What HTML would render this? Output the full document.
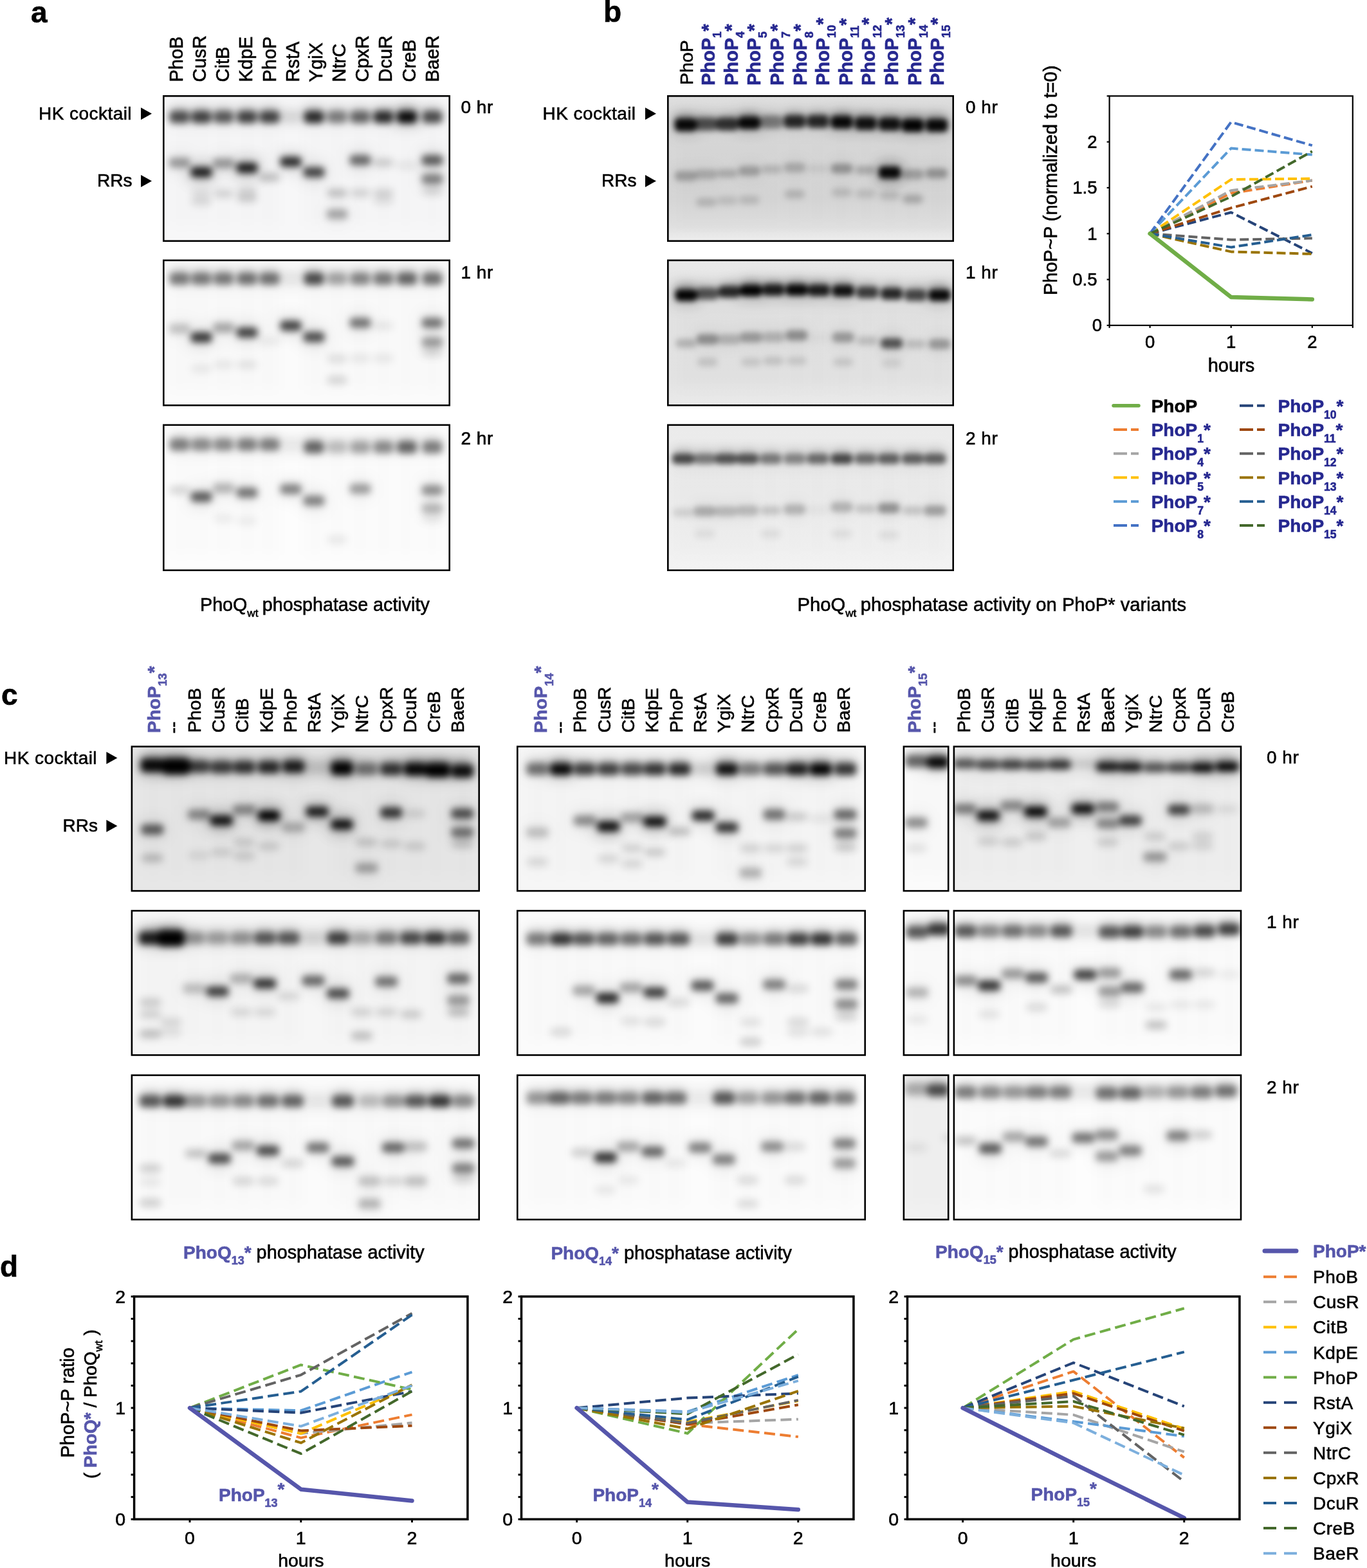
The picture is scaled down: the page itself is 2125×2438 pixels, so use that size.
<!DOCTYPE html><html><head><meta charset="utf-8"><style>html,body{margin:0;padding:0;background:#fff;}body{width:2125px;height:2438px;overflow:hidden;}svg{display:block;}text{font-family:"Liberation Sans", Arial, sans-serif;}</style></head><body>
<svg width="2125" height="2438" viewBox="0 0 2125 2438">
<rect width="100%" height="100%" fill="#fff"/>
<defs><filter id="bl4_5" filterUnits="userSpaceOnUse" x="0" y="0" width="2125" height="2438"><feGaussianBlur stdDeviation="4.5"/></filter><filter id="bl4_95" filterUnits="userSpaceOnUse" x="0" y="0" width="2125" height="2438"><feGaussianBlur stdDeviation="4.95"/></filter><filter id="bl5_5" filterUnits="userSpaceOnUse" x="0" y="0" width="2125" height="2438"><feGaussianBlur stdDeviation="5.5"/></filter><filter id="bl6_050000000000001" filterUnits="userSpaceOnUse" x="0" y="0" width="2125" height="2438"><feGaussianBlur stdDeviation="6.050000000000001"/></filter><filter id="bl7_2" filterUnits="userSpaceOnUse" x="0" y="0" width="2125" height="2438"><feGaussianBlur stdDeviation="7.2"/></filter><filter id="bl8_8" filterUnits="userSpaceOnUse" x="0" y="0" width="2125" height="2438"><feGaussianBlur stdDeviation="8.8"/></filter><filter id="bl9_0" filterUnits="userSpaceOnUse" x="0" y="0" width="2125" height="2438"><feGaussianBlur stdDeviation="9.0"/></filter><filter id="bl10_0" filterUnits="userSpaceOnUse" x="0" y="0" width="2125" height="2438"><feGaussianBlur stdDeviation="10.0"/></filter><filter id="bl11_0" filterUnits="userSpaceOnUse" x="0" y="0" width="2125" height="2438"><feGaussianBlur stdDeviation="11.0"/></filter></defs>
<text x="48.0" y="35.0" font-size="46" stroke="#000" stroke-width="0.6" font-weight="bold">a</text>
<text x="938.0" y="34.0" font-size="46" stroke="#000" stroke-width="0.6" font-weight="bold">b</text>
<text x="2.0" y="1096.0" font-size="46" stroke="#000" stroke-width="0.6" font-weight="bold">c</text>
<text x="0.0" y="1985.0" font-size="46" stroke="#000" stroke-width="0.6" font-weight="bold">d</text>
<text transform="translate(284.0,127.5) rotate(-90)" font-size="29" stroke="#000" stroke-width="0.6">PhoB</text>
<text transform="translate(320.1,127.5) rotate(-90)" font-size="29" stroke="#000" stroke-width="0.6">CusR</text>
<text transform="translate(356.3,127.5) rotate(-90)" font-size="29" stroke="#000" stroke-width="0.6">CitB</text>
<text transform="translate(392.4,127.5) rotate(-90)" font-size="29" stroke="#000" stroke-width="0.6">KdpE</text>
<text transform="translate(428.6,127.5) rotate(-90)" font-size="29" stroke="#000" stroke-width="0.6">PhoP</text>
<text transform="translate(464.8,127.5) rotate(-90)" font-size="29" stroke="#000" stroke-width="0.6">RstA</text>
<text transform="translate(500.9,127.5) rotate(-90)" font-size="29" stroke="#000" stroke-width="0.6">YgiX</text>
<text transform="translate(537.0,127.5) rotate(-90)" font-size="29" stroke="#000" stroke-width="0.6">NtrC</text>
<text transform="translate(573.2,127.5) rotate(-90)" font-size="29" stroke="#000" stroke-width="0.6">CpxR</text>
<text transform="translate(609.3,127.5) rotate(-90)" font-size="29" stroke="#000" stroke-width="0.6">DcuR</text>
<text transform="translate(645.5,127.5) rotate(-90)" font-size="29" stroke="#000" stroke-width="0.6">CreB</text>
<text transform="translate(681.6,127.5) rotate(-90)" font-size="29" stroke="#000" stroke-width="0.6">BaeR</text>
<text x="60.0" y="186.0" font-size="28" stroke="#000" stroke-width="0.6" letter-spacing="0.45">HK cocktail</text>
<path d="M219.0,167.2 L236.0,176.7 L219.0,186.2 Z" fill="#000"/>
<text x="151.0" y="290.4" font-size="28" stroke="#000" stroke-width="0.6">RRs</text>
<path d="M219.0,272.0 L236.0,281.5 L219.0,291.0 Z" fill="#000"/>
<text x="716.5" y="176.4" font-size="28" stroke="#000" stroke-width="0.6" letter-spacing="0.5">0 hr</text>
<text x="1501.0" y="176.4" font-size="28" stroke="#000" stroke-width="0.6" letter-spacing="0.5">0 hr</text>
<text x="716.5" y="432.7" font-size="28" stroke="#000" stroke-width="0.6" letter-spacing="0.5">1 hr</text>
<text x="1501.0" y="432.7" font-size="28" stroke="#000" stroke-width="0.6" letter-spacing="0.5">1 hr</text>
<text x="716.5" y="690.6" font-size="28" stroke="#000" stroke-width="0.6" letter-spacing="0.5">2 hr</text>
<text x="1501.0" y="690.6" font-size="28" stroke="#000" stroke-width="0.6" letter-spacing="0.5">2 hr</text>
<clipPath id="cp1"><rect x="253" y="148" width="447" height="228"/></clipPath>
<rect x="253" y="148" width="447" height="228" fill="#f7f7f8"/>
<g clip-path="url(#cp1)">
<g filter="url(#bl11_0)">
<rect x="260.9" y="237.0" width="36.3" height="32.0" rx="6.0" fill="#000" fill-opacity="0.05"/>
<rect x="294.9" y="251.7" width="36.3" height="32.0" rx="6.0" fill="#000" fill-opacity="0.13"/>
<rect x="329.4" y="238.0" width="36.3" height="32.0" rx="6.0" fill="#000" fill-opacity="0.05"/>
<rect x="365.9" y="245.0" width="36.3" height="32.0" rx="6.0" fill="#000" fill-opacity="0.13"/>
<rect x="433.9" y="235.6" width="36.3" height="32.0" rx="6.0" fill="#000" fill-opacity="0.12"/>
<rect x="469.9" y="251.7" width="36.3" height="32.0" rx="6.0" fill="#000" fill-opacity="0.10"/>
<rect x="505.9" y="317.0" width="36.3" height="32.0" rx="6.0" fill="#000" fill-opacity="0.04"/>
<rect x="541.9" y="233.0" width="36.3" height="32.0" rx="6.0" fill="#000" fill-opacity="0.08"/>
<rect x="653.9" y="233.0" width="36.3" height="32.0" rx="6.0" fill="#000" fill-opacity="0.09"/>
<rect x="653.9" y="262.4" width="36.3" height="32.0" rx="6.0" fill="#000" fill-opacity="0.07"/>
</g>
<g filter="url(#bl10_0)">
<rect x="369.0" y="192.2" width="30.0" height="159.6" rx="6.0" fill="#000" fill-opacity="0.01"/>
<rect x="657.0" y="192.2" width="30.0" height="159.6" rx="6.0" fill="#000" fill-opacity="0.01"/>
<rect x="404.0" y="192.2" width="30.0" height="159.6" rx="6.0" fill="#000" fill-opacity="0.01"/>
<rect x="473.0" y="192.2" width="30.0" height="159.6" rx="6.0" fill="#000" fill-opacity="0.01"/>
<rect x="509.0" y="192.2" width="30.0" height="159.6" rx="6.0" fill="#000" fill-opacity="0.01"/>
<rect x="545.0" y="192.2" width="30.0" height="159.6" rx="6.0" fill="#000" fill-opacity="0.01"/>
<rect x="581.0" y="192.2" width="30.0" height="159.6" rx="6.0" fill="#000" fill-opacity="0.01"/>
<rect x="264.0" y="192.2" width="30.0" height="159.6" rx="6.0" fill="#000" fill-opacity="0.01"/>
<rect x="617.0" y="192.2" width="30.0" height="159.6" rx="6.0" fill="#000" fill-opacity="0.01"/>
<rect x="298.0" y="192.2" width="30.0" height="159.6" rx="6.0" fill="#000" fill-opacity="0.01"/>
<rect x="333.0" y="192.2" width="30.0" height="159.6" rx="6.0" fill="#000" fill-opacity="0.01"/>
<rect x="264.2" y="167.0" width="424.6" height="30.0" rx="6.0" fill="#000" fill-opacity="0.05"/>
<rect x="610.5" y="165.0" width="44.0" height="34.0" rx="6.0" fill="#000" fill-opacity="0.12"/>
<rect x="291.0" y="250.7" width="44.0" height="34.0" rx="6.0" fill="#000" fill-opacity="0.08"/>
<rect x="362.0" y="244.0" width="44.0" height="34.0" rx="6.0" fill="#000" fill-opacity="0.08"/>
</g>
<g filter="url(#bl8_8)">
<rect x="265.1" y="165.4" width="27.9" height="17.1" rx="6.0" fill="#000" fill-opacity="0.20"/>
<rect x="299.1" y="165.4" width="27.9" height="17.1" rx="6.0" fill="#000" fill-opacity="0.21"/>
<rect x="333.6" y="165.4" width="27.9" height="17.1" rx="6.0" fill="#000" fill-opacity="0.18"/>
<rect x="370.1" y="165.4" width="27.9" height="17.1" rx="6.0" fill="#000" fill-opacity="0.21"/>
<rect x="405.1" y="165.4" width="27.9" height="17.1" rx="6.0" fill="#000" fill-opacity="0.21"/>
<rect x="438.1" y="165.4" width="27.9" height="17.1" rx="6.0" fill="#000" fill-opacity="0.02"/>
<rect x="474.1" y="165.4" width="27.9" height="17.1" rx="6.0" fill="#000" fill-opacity="0.24"/>
<rect x="510.1" y="165.4" width="27.9" height="17.1" rx="6.0" fill="#000" fill-opacity="0.14"/>
<rect x="546.0" y="165.4" width="27.9" height="17.1" rx="6.0" fill="#000" fill-opacity="0.17"/>
<rect x="582.0" y="165.4" width="27.9" height="17.1" rx="6.0" fill="#000" fill-opacity="0.24"/>
<rect x="618.5" y="165.4" width="27.9" height="17.1" rx="6.0" fill="#000" fill-opacity="0.28"/>
<rect x="658.0" y="165.4" width="27.9" height="17.1" rx="6.0" fill="#000" fill-opacity="0.20"/>
</g>
<g filter="url(#bl6_050000000000001)">
<rect x="403.3" y="268.9" width="31.3" height="13.6" rx="6.0" fill="#000" fill-opacity="0.22"/>
<rect x="508.3" y="293.2" width="31.3" height="13.6" rx="6.0" fill="#000" fill-opacity="0.22"/>
<rect x="580.3" y="246.2" width="31.3" height="13.6" rx="6.0" fill="#000" fill-opacity="0.17"/>
<rect x="580.3" y="293.2" width="31.3" height="13.6" rx="6.0" fill="#000" fill-opacity="0.14"/>
<rect x="616.8" y="250.2" width="31.3" height="13.6" rx="6.0" fill="#000" fill-opacity="0.07"/>
<rect x="297.3" y="306.2" width="31.3" height="13.6" rx="6.0" fill="#000" fill-opacity="0.12"/>
<rect x="331.8" y="294.2" width="31.3" height="13.6" rx="6.0" fill="#000" fill-opacity="0.14"/>
<rect x="368.3" y="301.2" width="31.3" height="13.6" rx="6.0" fill="#000" fill-opacity="0.17"/>
<rect x="544.3" y="293.2" width="31.3" height="13.6" rx="6.0" fill="#000" fill-opacity="0.14"/>
<rect x="656.3" y="290.2" width="31.3" height="13.6" rx="6.0" fill="#000" fill-opacity="0.12"/>
<rect x="297.3" y="293.2" width="31.3" height="13.6" rx="6.0" fill="#000" fill-opacity="0.09"/>
<rect x="368.3" y="290.2" width="31.3" height="13.6" rx="6.0" fill="#000" fill-opacity="0.12"/>
<rect x="580.3" y="305.2" width="31.3" height="13.6" rx="6.0" fill="#000" fill-opacity="0.09"/>
</g>
<g filter="url(#bl5_5)">
<rect x="263.5" y="172.5" width="31.0" height="19.0" rx="6.0" fill="#000" fill-opacity="0.65"/>
<rect x="297.5" y="172.5" width="31.0" height="19.0" rx="6.0" fill="#000" fill-opacity="0.70"/>
<rect x="332.0" y="172.5" width="31.0" height="19.0" rx="6.0" fill="#000" fill-opacity="0.60"/>
<rect x="368.5" y="172.5" width="31.0" height="19.0" rx="6.0" fill="#000" fill-opacity="0.70"/>
<rect x="403.5" y="172.5" width="31.0" height="19.0" rx="6.0" fill="#000" fill-opacity="0.70"/>
<rect x="436.5" y="172.5" width="31.0" height="19.0" rx="6.0" fill="#000" fill-opacity="0.08"/>
<rect x="472.5" y="172.5" width="31.0" height="19.0" rx="6.0" fill="#000" fill-opacity="0.80"/>
<rect x="508.5" y="172.5" width="31.0" height="19.0" rx="6.0" fill="#000" fill-opacity="0.45"/>
<rect x="544.5" y="172.5" width="31.0" height="19.0" rx="6.0" fill="#000" fill-opacity="0.55"/>
<rect x="580.5" y="172.5" width="31.0" height="19.0" rx="6.0" fill="#000" fill-opacity="0.80"/>
<rect x="617.0" y="172.5" width="31.0" height="19.0" rx="6.0" fill="#000" fill-opacity="0.95"/>
<rect x="656.5" y="172.5" width="31.0" height="19.0" rx="6.0" fill="#000" fill-opacity="0.65"/>
<rect x="262.5" y="245.0" width="33.0" height="16.0" rx="6.0" fill="#000" fill-opacity="0.35"/>
<rect x="296.5" y="259.7" width="33.0" height="16.0" rx="6.0" fill="#000" fill-opacity="0.85"/>
<rect x="331.0" y="246.0" width="33.0" height="16.0" rx="6.0" fill="#000" fill-opacity="0.35"/>
<rect x="367.5" y="253.0" width="33.0" height="16.0" rx="6.0" fill="#000" fill-opacity="0.85"/>
<rect x="435.5" y="243.6" width="33.0" height="16.0" rx="6.0" fill="#000" fill-opacity="0.80"/>
<rect x="471.5" y="259.7" width="33.0" height="16.0" rx="6.0" fill="#000" fill-opacity="0.70"/>
<rect x="507.5" y="325.0" width="33.0" height="16.0" rx="6.0" fill="#000" fill-opacity="0.30"/>
<rect x="543.5" y="241.0" width="33.0" height="16.0" rx="6.0" fill="#000" fill-opacity="0.55"/>
<rect x="655.5" y="241.0" width="33.0" height="16.0" rx="6.0" fill="#000" fill-opacity="0.60"/>
<rect x="655.5" y="270.4" width="33.0" height="16.0" rx="6.0" fill="#000" fill-opacity="0.45"/>
</g>
</g>
<rect x="254.3" y="149.3" width="444.4" height="225.4" fill="none" stroke="#000" stroke-width="2.6"/>
<clipPath id="cp2"><rect x="253" y="403.5" width="447" height="228.0"/></clipPath>
<rect x="253" y="403.5" width="447" height="228.0" fill="#fbfbfb"/>
<g clip-path="url(#cp2)">
<g filter="url(#bl11_0)">
<rect x="260.9" y="495.0" width="36.3" height="32.0" rx="6.0" fill="#000" fill-opacity="0.03"/>
<rect x="294.9" y="508.6" width="36.3" height="32.0" rx="6.0" fill="#000" fill-opacity="0.11"/>
<rect x="329.4" y="493.6" width="36.3" height="32.0" rx="6.0" fill="#000" fill-opacity="0.04"/>
<rect x="365.9" y="501.0" width="36.3" height="32.0" rx="6.0" fill="#000" fill-opacity="0.10"/>
<rect x="433.9" y="490.5" width="36.3" height="32.0" rx="6.0" fill="#000" fill-opacity="0.10"/>
<rect x="469.9" y="508.0" width="36.3" height="32.0" rx="6.0" fill="#000" fill-opacity="0.10"/>
<rect x="541.9" y="486.0" width="36.3" height="32.0" rx="6.0" fill="#000" fill-opacity="0.07"/>
<rect x="653.9" y="486.0" width="36.3" height="32.0" rx="6.0" fill="#000" fill-opacity="0.07"/>
<rect x="653.9" y="516.0" width="36.3" height="32.0" rx="6.0" fill="#000" fill-opacity="0.05"/>
</g>
<g filter="url(#bl10_0)">
<rect x="369.0" y="447.7" width="30.0" height="159.6" rx="6.0" fill="#000" fill-opacity="0.01"/>
<rect x="657.0" y="447.7" width="30.0" height="159.6" rx="6.0" fill="#000" fill-opacity="0.01"/>
<rect x="404.0" y="447.7" width="30.0" height="159.6" rx="6.0" fill="#000" fill-opacity="0.01"/>
<rect x="473.0" y="447.7" width="30.0" height="159.6" rx="6.0" fill="#000" fill-opacity="0.01"/>
<rect x="509.0" y="447.7" width="30.0" height="159.6" rx="6.0" fill="#000" fill-opacity="0.01"/>
<rect x="545.0" y="447.7" width="30.0" height="159.6" rx="6.0" fill="#000" fill-opacity="0.01"/>
<rect x="581.0" y="447.7" width="30.0" height="159.6" rx="6.0" fill="#000" fill-opacity="0.01"/>
<rect x="264.0" y="447.7" width="30.0" height="159.6" rx="6.0" fill="#000" fill-opacity="0.01"/>
<rect x="617.0" y="447.7" width="30.0" height="159.6" rx="6.0" fill="#000" fill-opacity="0.01"/>
<rect x="298.0" y="447.7" width="30.0" height="159.6" rx="6.0" fill="#000" fill-opacity="0.01"/>
<rect x="333.0" y="447.7" width="30.0" height="159.6" rx="6.0" fill="#000" fill-opacity="0.01"/>
<rect x="264.2" y="418.6" width="424.6" height="30.0" rx="6.0" fill="#000" fill-opacity="0.05"/>
</g>
<g filter="url(#bl8_8)">
<rect x="265.1" y="417.1" width="27.9" height="17.1" rx="6.0" fill="#000" fill-opacity="0.14"/>
<rect x="299.1" y="417.1" width="27.9" height="17.1" rx="6.0" fill="#000" fill-opacity="0.14"/>
<rect x="333.6" y="417.1" width="27.9" height="17.1" rx="6.0" fill="#000" fill-opacity="0.14"/>
<rect x="370.1" y="417.1" width="27.9" height="17.1" rx="6.0" fill="#000" fill-opacity="0.15"/>
<rect x="405.1" y="417.1" width="27.9" height="17.1" rx="6.0" fill="#000" fill-opacity="0.15"/>
<rect x="438.1" y="417.1" width="27.9" height="17.1" rx="6.0" fill="#000" fill-opacity="0.01"/>
<rect x="474.1" y="417.1" width="27.9" height="17.1" rx="6.0" fill="#000" fill-opacity="0.20"/>
<rect x="510.1" y="417.1" width="27.9" height="17.1" rx="6.0" fill="#000" fill-opacity="0.09"/>
<rect x="546.0" y="417.1" width="27.9" height="17.1" rx="6.0" fill="#000" fill-opacity="0.13"/>
<rect x="582.0" y="417.1" width="27.9" height="17.1" rx="6.0" fill="#000" fill-opacity="0.14"/>
<rect x="618.5" y="417.1" width="27.9" height="17.1" rx="6.0" fill="#000" fill-opacity="0.17"/>
<rect x="658.0" y="417.1" width="27.9" height="17.1" rx="6.0" fill="#000" fill-opacity="0.15"/>
</g>
<g filter="url(#bl6_050000000000001)">
<rect x="403.3" y="523.8" width="31.3" height="13.6" rx="6.0" fill="#000" fill-opacity="0.06"/>
<rect x="580.3" y="499.7" width="31.3" height="13.6" rx="6.0" fill="#000" fill-opacity="0.07"/>
<rect x="508.3" y="551.0" width="31.3" height="13.6" rx="6.0" fill="#000" fill-opacity="0.10"/>
<rect x="508.3" y="584.2" width="31.3" height="13.6" rx="6.0" fill="#000" fill-opacity="0.14"/>
<rect x="297.3" y="566.2" width="31.3" height="13.6" rx="6.0" fill="#000" fill-opacity="0.07"/>
<rect x="368.3" y="560.2" width="31.3" height="13.6" rx="6.0" fill="#000" fill-opacity="0.09"/>
<rect x="331.8" y="560.2" width="31.3" height="13.6" rx="6.0" fill="#000" fill-opacity="0.07"/>
<rect x="544.3" y="550.2" width="31.3" height="13.6" rx="6.0" fill="#000" fill-opacity="0.07"/>
<rect x="580.3" y="550.2" width="31.3" height="13.6" rx="6.0" fill="#000" fill-opacity="0.07"/>
<rect x="656.3" y="541.2" width="31.3" height="13.6" rx="6.0" fill="#000" fill-opacity="0.12"/>
</g>
<g filter="url(#bl5_5)">
<rect x="263.5" y="424.1" width="31.0" height="19.0" rx="6.0" fill="#000" fill-opacity="0.47"/>
<rect x="297.5" y="424.1" width="31.0" height="19.0" rx="6.0" fill="#000" fill-opacity="0.47"/>
<rect x="332.0" y="424.1" width="31.0" height="19.0" rx="6.0" fill="#000" fill-opacity="0.47"/>
<rect x="368.5" y="424.1" width="31.0" height="19.0" rx="6.0" fill="#000" fill-opacity="0.50"/>
<rect x="403.5" y="424.1" width="31.0" height="19.0" rx="6.0" fill="#000" fill-opacity="0.50"/>
<rect x="436.5" y="424.1" width="31.0" height="19.0" rx="6.0" fill="#000" fill-opacity="0.04"/>
<rect x="472.5" y="424.1" width="31.0" height="19.0" rx="6.0" fill="#000" fill-opacity="0.66"/>
<rect x="508.5" y="424.1" width="31.0" height="19.0" rx="6.0" fill="#000" fill-opacity="0.30"/>
<rect x="544.5" y="424.1" width="31.0" height="19.0" rx="6.0" fill="#000" fill-opacity="0.42"/>
<rect x="580.5" y="424.1" width="31.0" height="19.0" rx="6.0" fill="#000" fill-opacity="0.47"/>
<rect x="617.0" y="424.1" width="31.0" height="19.0" rx="6.0" fill="#000" fill-opacity="0.55"/>
<rect x="656.5" y="424.1" width="31.0" height="19.0" rx="6.0" fill="#000" fill-opacity="0.50"/>
<rect x="262.5" y="503.0" width="33.0" height="16.0" rx="6.0" fill="#000" fill-opacity="0.20"/>
<rect x="296.5" y="516.6" width="33.0" height="16.0" rx="6.0" fill="#000" fill-opacity="0.75"/>
<rect x="331.0" y="501.6" width="33.0" height="16.0" rx="6.0" fill="#000" fill-opacity="0.30"/>
<rect x="367.5" y="509.0" width="33.0" height="16.0" rx="6.0" fill="#000" fill-opacity="0.70"/>
<rect x="435.5" y="498.5" width="33.0" height="16.0" rx="6.0" fill="#000" fill-opacity="0.70"/>
<rect x="471.5" y="516.0" width="33.0" height="16.0" rx="6.0" fill="#000" fill-opacity="0.65"/>
<rect x="543.5" y="494.0" width="33.0" height="16.0" rx="6.0" fill="#000" fill-opacity="0.50"/>
<rect x="655.5" y="494.0" width="33.0" height="16.0" rx="6.0" fill="#000" fill-opacity="0.50"/>
<rect x="655.5" y="524.0" width="33.0" height="16.0" rx="6.0" fill="#000" fill-opacity="0.35"/>
</g>
</g>
<rect x="254.3" y="404.8" width="444.4" height="225.4" fill="none" stroke="#000" stroke-width="2.6"/>
<clipPath id="cp3"><rect x="253" y="659.5" width="447" height="228.5"/></clipPath>
<rect x="253" y="659.5" width="447" height="228.5" fill="#fdfdfd"/>
<g clip-path="url(#cp3)">
<g filter="url(#bl11_0)">
<rect x="294.9" y="756.6" width="36.3" height="32.0" rx="6.0" fill="#000" fill-opacity="0.09"/>
<rect x="329.4" y="743.0" width="36.3" height="32.0" rx="6.0" fill="#000" fill-opacity="0.04"/>
<rect x="365.9" y="750.0" width="36.3" height="32.0" rx="6.0" fill="#000" fill-opacity="0.07"/>
<rect x="433.9" y="744.5" width="36.3" height="32.0" rx="6.0" fill="#000" fill-opacity="0.07"/>
<rect x="469.9" y="762.6" width="36.3" height="32.0" rx="6.0" fill="#000" fill-opacity="0.07"/>
<rect x="541.9" y="744.0" width="36.3" height="32.0" rx="6.0" fill="#000" fill-opacity="0.05"/>
<rect x="653.9" y="746.0" width="36.3" height="32.0" rx="6.0" fill="#000" fill-opacity="0.06"/>
<rect x="653.9" y="774.6" width="36.3" height="32.0" rx="6.0" fill="#000" fill-opacity="0.04"/>
</g>
<g filter="url(#bl10_0)">
<rect x="369.0" y="703.8" width="30.0" height="159.9" rx="6.0" fill="#000" fill-opacity="0.01"/>
<rect x="657.0" y="703.8" width="30.0" height="159.9" rx="6.0" fill="#000" fill-opacity="0.01"/>
<rect x="404.0" y="703.8" width="30.0" height="159.9" rx="6.0" fill="#000" fill-opacity="0.01"/>
<rect x="473.0" y="703.8" width="30.0" height="159.9" rx="6.0" fill="#000" fill-opacity="0.01"/>
<rect x="509.0" y="703.8" width="30.0" height="159.9" rx="6.0" fill="#000" fill-opacity="0.01"/>
<rect x="545.0" y="703.8" width="30.0" height="159.9" rx="6.0" fill="#000" fill-opacity="0.01"/>
<rect x="581.0" y="703.8" width="30.0" height="159.9" rx="6.0" fill="#000" fill-opacity="0.01"/>
<rect x="264.0" y="703.8" width="30.0" height="159.9" rx="6.0" fill="#000" fill-opacity="0.01"/>
<rect x="617.0" y="703.8" width="30.0" height="159.9" rx="6.0" fill="#000" fill-opacity="0.01"/>
<rect x="298.0" y="703.8" width="30.0" height="159.9" rx="6.0" fill="#000" fill-opacity="0.01"/>
<rect x="333.0" y="703.8" width="30.0" height="159.9" rx="6.0" fill="#000" fill-opacity="0.01"/>
<rect x="264.2" y="678.5" width="424.6" height="30.0" rx="6.0" fill="#000" fill-opacity="0.05"/>
</g>
<g filter="url(#bl8_8)">
<rect x="265.1" y="675.0" width="27.9" height="17.1" rx="6.0" fill="#000" fill-opacity="0.14"/>
<rect x="299.1" y="675.0" width="27.9" height="17.1" rx="6.0" fill="#000" fill-opacity="0.12"/>
<rect x="333.6" y="675.0" width="27.9" height="17.1" rx="6.0" fill="#000" fill-opacity="0.12"/>
<rect x="370.1" y="675.0" width="27.9" height="17.1" rx="6.0" fill="#000" fill-opacity="0.14"/>
<rect x="405.1" y="675.0" width="27.9" height="17.1" rx="6.0" fill="#000" fill-opacity="0.14"/>
<rect x="438.1" y="675.0" width="27.9" height="17.1" rx="6.0" fill="#000" fill-opacity="0.01"/>
<rect x="474.1" y="679.0" width="27.9" height="17.1" rx="6.0" fill="#000" fill-opacity="0.17"/>
<rect x="510.1" y="679.0" width="27.9" height="17.1" rx="6.0" fill="#000" fill-opacity="0.06"/>
<rect x="546.0" y="679.0" width="27.9" height="17.1" rx="6.0" fill="#000" fill-opacity="0.09"/>
<rect x="582.0" y="679.0" width="27.9" height="17.1" rx="6.0" fill="#000" fill-opacity="0.12"/>
<rect x="618.5" y="679.0" width="27.9" height="17.1" rx="6.0" fill="#000" fill-opacity="0.17"/>
<rect x="658.0" y="679.0" width="27.9" height="17.1" rx="6.0" fill="#000" fill-opacity="0.14"/>
</g>
<g filter="url(#bl6_050000000000001)">
<rect x="263.3" y="755.2" width="31.3" height="13.6" rx="6.0" fill="#000" fill-opacity="0.14"/>
<rect x="508.3" y="832.2" width="31.3" height="13.6" rx="6.0" fill="#000" fill-opacity="0.07"/>
<rect x="331.8" y="799.2" width="31.3" height="13.6" rx="6.0" fill="#000" fill-opacity="0.06"/>
<rect x="368.3" y="803.2" width="31.3" height="13.6" rx="6.0" fill="#000" fill-opacity="0.06"/>
<rect x="656.3" y="799.2" width="31.3" height="13.6" rx="6.0" fill="#000" fill-opacity="0.07"/>
</g>
<g filter="url(#bl5_5)">
<rect x="263.5" y="682.0" width="31.0" height="19.0" rx="6.0" fill="#000" fill-opacity="0.45"/>
<rect x="297.5" y="682.0" width="31.0" height="19.0" rx="6.0" fill="#000" fill-opacity="0.40"/>
<rect x="332.0" y="682.0" width="31.0" height="19.0" rx="6.0" fill="#000" fill-opacity="0.40"/>
<rect x="368.5" y="682.0" width="31.0" height="19.0" rx="6.0" fill="#000" fill-opacity="0.45"/>
<rect x="403.5" y="682.0" width="31.0" height="19.0" rx="6.0" fill="#000" fill-opacity="0.45"/>
<rect x="436.5" y="682.0" width="31.0" height="19.0" rx="6.0" fill="#000" fill-opacity="0.03"/>
<rect x="472.5" y="686.0" width="31.0" height="19.0" rx="6.0" fill="#000" fill-opacity="0.55"/>
<rect x="508.5" y="686.0" width="31.0" height="19.0" rx="6.0" fill="#000" fill-opacity="0.20"/>
<rect x="544.5" y="686.0" width="31.0" height="19.0" rx="6.0" fill="#000" fill-opacity="0.30"/>
<rect x="580.5" y="686.0" width="31.0" height="19.0" rx="6.0" fill="#000" fill-opacity="0.40"/>
<rect x="617.0" y="686.0" width="31.0" height="19.0" rx="6.0" fill="#000" fill-opacity="0.55"/>
<rect x="656.5" y="686.0" width="31.0" height="19.0" rx="6.0" fill="#000" fill-opacity="0.45"/>
<rect x="296.5" y="764.6" width="33.0" height="16.0" rx="6.0" fill="#000" fill-opacity="0.60"/>
<rect x="331.0" y="751.0" width="33.0" height="16.0" rx="6.0" fill="#000" fill-opacity="0.25"/>
<rect x="367.5" y="758.0" width="33.0" height="16.0" rx="6.0" fill="#000" fill-opacity="0.50"/>
<rect x="435.5" y="752.5" width="33.0" height="16.0" rx="6.0" fill="#000" fill-opacity="0.45"/>
<rect x="471.5" y="770.6" width="33.0" height="16.0" rx="6.0" fill="#000" fill-opacity="0.45"/>
<rect x="543.5" y="752.0" width="33.0" height="16.0" rx="6.0" fill="#000" fill-opacity="0.35"/>
<rect x="655.5" y="754.0" width="33.0" height="16.0" rx="6.0" fill="#000" fill-opacity="0.40"/>
<rect x="655.5" y="782.6" width="33.0" height="16.0" rx="6.0" fill="#000" fill-opacity="0.25"/>
</g>
</g>
<rect x="254.3" y="660.8" width="444.4" height="225.9" fill="none" stroke="#000" stroke-width="2.6"/>
<text x="311.0" y="950.0" font-size="28.7" stroke="#000" stroke-width="0.6">PhoQ<tspan font-size="17" dy="9">wt</tspan><tspan dy="-9" dx="-1.5"> phosphatase activity</tspan></text>
<text transform="translate(1077.0,132.0) rotate(-90)" font-size="28.5" stroke="#000" stroke-width="0.6">PhoP</text>
<text transform="translate(1111.1,133.0) rotate(-90)" font-size="29" stroke="#262890" stroke-width="0.6" font-weight="bold" fill="#262890">PhoP<tspan font-size="18" dy="10">1</tspan><tspan dy="-10">*</tspan></text>
<text transform="translate(1146.7,133.0) rotate(-90)" font-size="29" stroke="#262890" stroke-width="0.6" font-weight="bold" fill="#262890">PhoP<tspan font-size="18" dy="10">4</tspan><tspan dy="-10">*</tspan></text>
<text transform="translate(1182.3,133.0) rotate(-90)" font-size="29" stroke="#262890" stroke-width="0.6" font-weight="bold" fill="#262890">PhoP<tspan font-size="18" dy="10">5</tspan><tspan dy="-10">*</tspan></text>
<text transform="translate(1217.9,133.0) rotate(-90)" font-size="29" stroke="#262890" stroke-width="0.6" font-weight="bold" fill="#262890">PhoP<tspan font-size="18" dy="10">7</tspan><tspan dy="-10">*</tspan></text>
<text transform="translate(1253.5,133.0) rotate(-90)" font-size="29" stroke="#262890" stroke-width="0.6" font-weight="bold" fill="#262890">PhoP<tspan font-size="18" dy="10">8</tspan><tspan dy="-10">*</tspan></text>
<text transform="translate(1289.1,133.0) rotate(-90)" font-size="29" stroke="#262890" stroke-width="0.6" font-weight="bold" fill="#262890">PhoP<tspan font-size="18" dy="10">10</tspan><tspan dy="-10">*</tspan></text>
<text transform="translate(1324.7,133.0) rotate(-90)" font-size="29" stroke="#262890" stroke-width="0.6" font-weight="bold" fill="#262890">PhoP<tspan font-size="18" dy="10">11</tspan><tspan dy="-10">*</tspan></text>
<text transform="translate(1360.3,133.0) rotate(-90)" font-size="29" stroke="#262890" stroke-width="0.6" font-weight="bold" fill="#262890">PhoP<tspan font-size="18" dy="10">12</tspan><tspan dy="-10">*</tspan></text>
<text transform="translate(1395.9,133.0) rotate(-90)" font-size="29" stroke="#262890" stroke-width="0.6" font-weight="bold" fill="#262890">PhoP<tspan font-size="18" dy="10">13</tspan><tspan dy="-10">*</tspan></text>
<text transform="translate(1431.5,133.0) rotate(-90)" font-size="29" stroke="#262890" stroke-width="0.6" font-weight="bold" fill="#262890">PhoP<tspan font-size="18" dy="10">14</tspan><tspan dy="-10">*</tspan></text>
<text transform="translate(1467.1,133.0) rotate(-90)" font-size="29" stroke="#262890" stroke-width="0.6" font-weight="bold" fill="#262890">PhoP<tspan font-size="18" dy="10">15</tspan><tspan dy="-10">*</tspan></text>
<text x="843.5" y="186.0" font-size="28" stroke="#000" stroke-width="0.6" letter-spacing="0.45">HK cocktail</text>
<path d="M1003.0,167.2 L1020.0,176.7 L1003.0,186.2 Z" fill="#000"/>
<text x="935.0" y="290.4" font-size="28" stroke="#000" stroke-width="0.6">RRs</text>
<path d="M1003.0,272.0 L1020.0,281.5 L1003.0,291.0 Z" fill="#000"/>
<defs><linearGradient id="gb0" x1="0" y1="0" x2="0" y2="1"><stop offset="0" stop-color="#dedede"/><stop offset="0.2" stop-color="#d9d9d9"/><stop offset="0.7" stop-color="#d6d6d6"/><stop offset="0.9" stop-color="#e0e0e0"/><stop offset="1" stop-color="#efefef"/></linearGradient><linearGradient id="gb1" x1="0" y1="0" x2="0" y2="1"><stop offset="0" stop-color="#e9e9e9"/><stop offset="0.3" stop-color="#e2e2e2"/><stop offset="0.8" stop-color="#e3e3e3"/><stop offset="1" stop-color="#eaeaea"/></linearGradient><linearGradient id="gb2" x1="0" y1="0" x2="0" y2="1"><stop offset="0" stop-color="#ebebeb"/><stop offset="0.5" stop-color="#ececec"/><stop offset="1" stop-color="#f3f3f3"/></linearGradient></defs>
<clipPath id="cp4"><rect x="1037" y="148" width="446" height="228"/></clipPath>
<rect x="1037" y="148" width="446" height="228" fill="url(#gb0)"/>
<g clip-path="url(#cp4)">
<g filter="url(#bl10_0)">
<rect x="1331.0" y="192.2" width="30.0" height="159.6" rx="6.0" fill="#000" fill-opacity="0.01"/>
<rect x="1368.0" y="192.2" width="30.0" height="159.6" rx="6.0" fill="#000" fill-opacity="0.01"/>
<rect x="1051.0" y="192.2" width="30.0" height="159.6" rx="6.0" fill="#000" fill-opacity="0.01"/>
<rect x="1116.0" y="192.2" width="30.0" height="159.6" rx="6.0" fill="#000" fill-opacity="0.01"/>
<rect x="1083.0" y="192.2" width="30.0" height="159.6" rx="6.0" fill="#000" fill-opacity="0.01"/>
<rect x="1150.0" y="192.2" width="30.0" height="159.6" rx="6.0" fill="#000" fill-opacity="0.01"/>
<rect x="1404.0" y="192.2" width="30.0" height="159.6" rx="6.0" fill="#000" fill-opacity="0.01"/>
<rect x="1184.0" y="192.2" width="30.0" height="159.6" rx="6.0" fill="#000" fill-opacity="0.01"/>
<rect x="1441.0" y="192.2" width="30.0" height="159.6" rx="6.0" fill="#000" fill-opacity="0.01"/>
<rect x="1220.0" y="192.2" width="30.0" height="159.6" rx="6.0" fill="#000" fill-opacity="0.01"/>
<rect x="1256.0" y="192.2" width="30.0" height="159.6" rx="6.0" fill="#000" fill-opacity="0.01"/>
<rect x="1293.0" y="192.2" width="30.0" height="159.6" rx="6.0" fill="#000" fill-opacity="0.01"/>
<rect x="1048.2" y="177.0" width="423.7" height="30.0" rx="6.0" fill="#000" fill-opacity="0.05"/>
<rect x="1043.9" y="176.9" width="44.0" height="34.0" rx="6.0" fill="#000" fill-opacity="0.12"/>
<rect x="1142.8" y="174.0" width="44.0" height="34.0" rx="6.0" fill="#000" fill-opacity="0.12"/>
<rect x="1286.5" y="173.0" width="44.0" height="34.0" rx="6.0" fill="#000" fill-opacity="0.12"/>
<rect x="1323.7" y="175.0" width="44.0" height="34.0" rx="6.0" fill="#000" fill-opacity="0.10"/>
<rect x="1360.9" y="176.0" width="44.0" height="34.0" rx="6.0" fill="#000" fill-opacity="0.10"/>
<rect x="1396.9" y="178.0" width="44.0" height="34.0" rx="6.0" fill="#000" fill-opacity="0.14"/>
<rect x="1434.1" y="178.0" width="44.0" height="34.0" rx="6.0" fill="#000" fill-opacity="0.12"/>
<rect x="1360.9" y="251.3" width="44.0" height="34.0" rx="6.0" fill="#000" fill-opacity="0.12"/>
</g>
<g filter="url(#bl9_0)">
<rect x="1047.2" y="258.5" width="37.4" height="30.0" rx="6.0" fill="#000" fill-opacity="0.04"/>
<rect x="1079.3" y="256.0" width="37.4" height="30.0" rx="6.0" fill="#000" fill-opacity="0.03"/>
<rect x="1146.1" y="250.8" width="37.4" height="30.0" rx="6.0" fill="#000" fill-opacity="0.04"/>
<rect x="1216.6" y="245.6" width="37.4" height="30.0" rx="6.0" fill="#000" fill-opacity="0.03"/>
<rect x="1289.8" y="247.0" width="37.4" height="30.0" rx="6.0" fill="#000" fill-opacity="0.04"/>
<rect x="1364.2" y="249.3" width="37.4" height="38.0" rx="6.0" fill="#000" fill-opacity="0.14"/>
<rect x="1400.2" y="256.0" width="37.4" height="30.0" rx="6.0" fill="#000" fill-opacity="0.04"/>
<rect x="1437.4" y="254.6" width="37.4" height="30.0" rx="6.0" fill="#000" fill-opacity="0.04"/>
</g>
<g filter="url(#bl7_2)">
<rect x="1050.6" y="176.9" width="30.6" height="18.0" rx="6.0" fill="#000" fill-opacity="0.28"/>
<rect x="1082.7" y="176.0" width="30.6" height="18.0" rx="6.0" fill="#000" fill-opacity="0.18"/>
<rect x="1115.3" y="176.0" width="30.6" height="18.0" rx="6.0" fill="#000" fill-opacity="0.22"/>
<rect x="1149.5" y="174.0" width="30.6" height="18.0" rx="6.0" fill="#000" fill-opacity="0.28"/>
<rect x="1184.1" y="173.0" width="30.6" height="18.0" rx="6.0" fill="#000" fill-opacity="0.12"/>
<rect x="1220.0" y="172.0" width="30.6" height="18.0" rx="6.0" fill="#000" fill-opacity="0.24"/>
<rect x="1256.0" y="172.0" width="30.6" height="18.0" rx="6.0" fill="#000" fill-opacity="0.24"/>
<rect x="1293.2" y="173.0" width="30.6" height="18.0" rx="6.0" fill="#000" fill-opacity="0.28"/>
<rect x="1330.4" y="175.0" width="30.6" height="18.0" rx="6.0" fill="#000" fill-opacity="0.27"/>
<rect x="1367.6" y="176.0" width="30.6" height="18.0" rx="6.0" fill="#000" fill-opacity="0.27"/>
<rect x="1403.6" y="178.0" width="30.6" height="18.0" rx="6.0" fill="#000" fill-opacity="0.29"/>
<rect x="1440.8" y="178.0" width="30.6" height="18.0" rx="6.0" fill="#000" fill-opacity="0.28"/>
</g>
<g filter="url(#bl4_95)">
<rect x="1114.4" y="263.2" width="32.3" height="12.8" rx="6.0" fill="#000" fill-opacity="0.22"/>
<rect x="1183.2" y="256.8" width="32.3" height="12.8" rx="6.0" fill="#000" fill-opacity="0.17"/>
<rect x="1255.1" y="255.6" width="32.3" height="12.8" rx="6.0" fill="#000" fill-opacity="0.07"/>
<rect x="1329.5" y="258.1" width="32.3" height="12.8" rx="6.0" fill="#000" fill-opacity="0.22"/>
<rect x="1082.3" y="307.7" width="31.3" height="13.6" rx="6.0" fill="#000" fill-opacity="0.17"/>
<rect x="1114.9" y="305.2" width="31.3" height="13.6" rx="6.0" fill="#000" fill-opacity="0.12"/>
<rect x="1149.1" y="304.2" width="31.3" height="13.6" rx="6.0" fill="#000" fill-opacity="0.14"/>
<rect x="1219.6" y="294.9" width="31.3" height="13.6" rx="6.0" fill="#000" fill-opacity="0.17"/>
<rect x="1292.8" y="292.2" width="31.3" height="13.6" rx="6.0" fill="#000" fill-opacity="0.14"/>
<rect x="1330.0" y="294.2" width="31.3" height="13.6" rx="6.0" fill="#000" fill-opacity="0.12"/>
<rect x="1367.2" y="297.2" width="31.3" height="13.6" rx="6.0" fill="#000" fill-opacity="0.14"/>
<rect x="1403.2" y="302.6" width="31.3" height="13.6" rx="6.0" fill="#000" fill-opacity="0.22"/>
</g>
<g filter="url(#bl4_5)">
<rect x="1048.9" y="183.9" width="34.0" height="20.0" rx="6.0" fill="#000" fill-opacity="0.95"/>
<rect x="1081.0" y="183.0" width="34.0" height="20.0" rx="6.0" fill="#000" fill-opacity="0.60"/>
<rect x="1113.6" y="183.0" width="34.0" height="20.0" rx="6.0" fill="#000" fill-opacity="0.75"/>
<rect x="1147.8" y="181.0" width="34.0" height="20.0" rx="6.0" fill="#000" fill-opacity="0.95"/>
<rect x="1182.4" y="180.0" width="34.0" height="20.0" rx="6.0" fill="#000" fill-opacity="0.40"/>
<rect x="1218.3" y="179.0" width="34.0" height="20.0" rx="6.0" fill="#000" fill-opacity="0.80"/>
<rect x="1254.3" y="179.0" width="34.0" height="20.0" rx="6.0" fill="#000" fill-opacity="0.80"/>
<rect x="1291.5" y="180.0" width="34.0" height="20.0" rx="6.0" fill="#000" fill-opacity="0.95"/>
<rect x="1328.7" y="182.0" width="34.0" height="20.0" rx="6.0" fill="#000" fill-opacity="0.90"/>
<rect x="1365.9" y="183.0" width="34.0" height="20.0" rx="6.0" fill="#000" fill-opacity="0.90"/>
<rect x="1401.9" y="185.0" width="34.0" height="20.0" rx="6.0" fill="#000" fill-opacity="0.98"/>
<rect x="1439.1" y="185.0" width="34.0" height="20.0" rx="6.0" fill="#000" fill-opacity="0.95"/>
<rect x="1048.9" y="266.0" width="34.0" height="15.0" rx="6.0" fill="#000" fill-opacity="0.25"/>
<rect x="1081.0" y="263.5" width="34.0" height="15.0" rx="6.0" fill="#000" fill-opacity="0.20"/>
<rect x="1147.8" y="258.3" width="34.0" height="15.0" rx="6.0" fill="#000" fill-opacity="0.25"/>
<rect x="1218.3" y="253.1" width="34.0" height="15.0" rx="6.0" fill="#000" fill-opacity="0.20"/>
<rect x="1291.5" y="254.5" width="34.0" height="15.0" rx="6.0" fill="#000" fill-opacity="0.30"/>
<rect x="1365.9" y="258.8" width="34.0" height="19.0" rx="6.0" fill="#000" fill-opacity="0.95"/>
<rect x="1401.9" y="263.5" width="34.0" height="15.0" rx="6.0" fill="#000" fill-opacity="0.25"/>
<rect x="1439.1" y="262.1" width="34.0" height="15.0" rx="6.0" fill="#000" fill-opacity="0.30"/>
</g>
</g>
<rect x="1038.3" y="149.3" width="443.4" height="225.4" fill="none" stroke="#000" stroke-width="2.6"/>
<clipPath id="cp5"><rect x="1037" y="403.5" width="446" height="228.0"/></clipPath>
<rect x="1037" y="403.5" width="446" height="228.0" fill="url(#gb1)"/>
<g clip-path="url(#cp5)">
<g filter="url(#bl10_0)">
<rect x="1333.0" y="447.7" width="30.0" height="159.6" rx="6.0" fill="#000" fill-opacity="0.01"/>
<rect x="1371.0" y="447.7" width="30.0" height="159.6" rx="6.0" fill="#000" fill-opacity="0.01"/>
<rect x="1052.0" y="447.7" width="30.0" height="159.6" rx="6.0" fill="#000" fill-opacity="0.01"/>
<rect x="1085.0" y="447.7" width="30.0" height="159.6" rx="6.0" fill="#000" fill-opacity="0.01"/>
<rect x="1119.0" y="447.7" width="30.0" height="159.6" rx="6.0" fill="#000" fill-opacity="0.01"/>
<rect x="1408.0" y="447.7" width="30.0" height="159.6" rx="6.0" fill="#000" fill-opacity="0.01"/>
<rect x="1153.0" y="447.7" width="30.0" height="159.6" rx="6.0" fill="#000" fill-opacity="0.01"/>
<rect x="1187.0" y="447.7" width="30.0" height="159.6" rx="6.0" fill="#000" fill-opacity="0.01"/>
<rect x="1445.0" y="447.7" width="30.0" height="159.6" rx="6.0" fill="#000" fill-opacity="0.01"/>
<rect x="1223.0" y="447.7" width="30.0" height="159.6" rx="6.0" fill="#000" fill-opacity="0.01"/>
<rect x="1258.0" y="447.7" width="30.0" height="159.6" rx="6.0" fill="#000" fill-opacity="0.01"/>
<rect x="1296.0" y="447.7" width="30.0" height="159.6" rx="6.0" fill="#000" fill-opacity="0.01"/>
<rect x="1048.2" y="439.7" width="423.7" height="30.0" rx="6.0" fill="#000" fill-opacity="0.05"/>
<rect x="1044.7" y="441.9" width="44.0" height="34.0" rx="6.0" fill="#000" fill-opacity="0.14"/>
<rect x="1145.6" y="434.7" width="44.0" height="34.0" rx="6.0" fill="#000" fill-opacity="0.14"/>
<rect x="1180.3" y="433.8" width="44.0" height="34.0" rx="6.0" fill="#000" fill-opacity="0.08"/>
<rect x="1216.4" y="433.8" width="44.0" height="34.0" rx="6.0" fill="#000" fill-opacity="0.12"/>
<rect x="1251.1" y="434.4" width="44.0" height="34.0" rx="6.0" fill="#000" fill-opacity="0.08"/>
<rect x="1288.7" y="435.3" width="44.0" height="34.0" rx="6.0" fill="#000" fill-opacity="0.10"/>
<rect x="1438.5" y="441.9" width="44.0" height="34.0" rx="6.0" fill="#000" fill-opacity="0.12"/>
</g>
<g filter="url(#bl9_0)">
<rect x="1081.1" y="511.6" width="37.4" height="32.0" rx="6.0" fill="#000" fill-opacity="0.05"/>
<rect x="1115.2" y="511.6" width="37.4" height="32.0" rx="6.0" fill="#000" fill-opacity="0.03"/>
<rect x="1148.9" y="508.6" width="37.4" height="32.0" rx="6.0" fill="#000" fill-opacity="0.04"/>
<rect x="1183.6" y="508.0" width="37.4" height="32.0" rx="6.0" fill="#000" fill-opacity="0.03"/>
<rect x="1219.7" y="505.6" width="37.4" height="32.0" rx="6.0" fill="#000" fill-opacity="0.05"/>
<rect x="1292.0" y="508.6" width="37.4" height="32.0" rx="6.0" fill="#000" fill-opacity="0.04"/>
<rect x="1367.4" y="517.7" width="37.4" height="32.0" rx="6.0" fill="#000" fill-opacity="0.09"/>
<rect x="1441.8" y="519.0" width="37.4" height="32.0" rx="6.0" fill="#000" fill-opacity="0.04"/>
</g>
<g filter="url(#bl7_2)">
<rect x="1051.4" y="442.8" width="30.6" height="16.2" rx="6.0" fill="#000" fill-opacity="0.29"/>
<rect x="1084.5" y="440.7" width="30.6" height="16.2" rx="6.0" fill="#000" fill-opacity="0.18"/>
<rect x="1118.6" y="437.7" width="30.6" height="16.2" rx="6.0" fill="#000" fill-opacity="0.24"/>
<rect x="1152.3" y="435.6" width="30.6" height="16.2" rx="6.0" fill="#000" fill-opacity="0.29"/>
<rect x="1187.0" y="434.7" width="30.6" height="16.2" rx="6.0" fill="#000" fill-opacity="0.26"/>
<rect x="1223.1" y="434.7" width="30.6" height="16.2" rx="6.0" fill="#000" fill-opacity="0.28"/>
<rect x="1257.8" y="435.3" width="30.6" height="16.2" rx="6.0" fill="#000" fill-opacity="0.26"/>
<rect x="1295.4" y="436.2" width="30.6" height="16.2" rx="6.0" fill="#000" fill-opacity="0.27"/>
<rect x="1333.1" y="438.6" width="30.6" height="16.2" rx="6.0" fill="#000" fill-opacity="0.21"/>
<rect x="1370.8" y="440.7" width="30.6" height="16.2" rx="6.0" fill="#000" fill-opacity="0.24"/>
<rect x="1407.8" y="442.8" width="30.6" height="16.2" rx="6.0" fill="#000" fill-opacity="0.20"/>
<rect x="1445.2" y="442.8" width="30.6" height="16.2" rx="6.0" fill="#000" fill-opacity="0.28"/>
</g>
<g filter="url(#bl4_95)">
<rect x="1050.5" y="526.9" width="32.3" height="13.6" rx="6.0" fill="#000" fill-opacity="0.22"/>
<rect x="1256.9" y="518.2" width="32.3" height="13.6" rx="6.0" fill="#000" fill-opacity="0.03"/>
<rect x="1332.2" y="523.2" width="32.3" height="13.6" rx="6.0" fill="#000" fill-opacity="0.17"/>
<rect x="1406.9" y="528.2" width="32.3" height="13.6" rx="6.0" fill="#000" fill-opacity="0.17"/>
<rect x="1084.1" y="556.2" width="31.3" height="13.6" rx="6.0" fill="#000" fill-opacity="0.14"/>
<rect x="1151.9" y="556.2" width="31.3" height="13.6" rx="6.0" fill="#000" fill-opacity="0.12"/>
<rect x="1186.6" y="554.2" width="31.3" height="13.6" rx="6.0" fill="#000" fill-opacity="0.14"/>
<rect x="1222.7" y="554.2" width="31.3" height="13.6" rx="6.0" fill="#000" fill-opacity="0.12"/>
<rect x="1295.0" y="556.2" width="31.3" height="13.6" rx="6.0" fill="#000" fill-opacity="0.12"/>
<rect x="1370.4" y="558.2" width="31.3" height="13.6" rx="6.0" fill="#000" fill-opacity="0.09"/>
</g>
<g filter="url(#bl4_5)">
<rect x="1049.7" y="449.9" width="34.0" height="18.0" rx="6.0" fill="#000" fill-opacity="0.98"/>
<rect x="1082.8" y="447.8" width="34.0" height="18.0" rx="6.0" fill="#000" fill-opacity="0.60"/>
<rect x="1116.9" y="444.8" width="34.0" height="18.0" rx="6.0" fill="#000" fill-opacity="0.80"/>
<rect x="1150.6" y="442.7" width="34.0" height="18.0" rx="6.0" fill="#000" fill-opacity="0.98"/>
<rect x="1185.3" y="441.8" width="34.0" height="18.0" rx="6.0" fill="#000" fill-opacity="0.85"/>
<rect x="1221.4" y="441.8" width="34.0" height="18.0" rx="6.0" fill="#000" fill-opacity="0.95"/>
<rect x="1256.1" y="442.4" width="34.0" height="18.0" rx="6.0" fill="#000" fill-opacity="0.85"/>
<rect x="1293.7" y="443.3" width="34.0" height="18.0" rx="6.0" fill="#000" fill-opacity="0.90"/>
<rect x="1331.4" y="445.7" width="34.0" height="18.0" rx="6.0" fill="#000" fill-opacity="0.70"/>
<rect x="1369.1" y="447.8" width="34.0" height="18.0" rx="6.0" fill="#000" fill-opacity="0.80"/>
<rect x="1406.1" y="449.9" width="34.0" height="18.0" rx="6.0" fill="#000" fill-opacity="0.65"/>
<rect x="1443.5" y="449.9" width="34.0" height="18.0" rx="6.0" fill="#000" fill-opacity="0.95"/>
<rect x="1082.8" y="519.6" width="34.0" height="16.0" rx="6.0" fill="#000" fill-opacity="0.35"/>
<rect x="1116.9" y="519.6" width="34.0" height="16.0" rx="6.0" fill="#000" fill-opacity="0.20"/>
<rect x="1150.6" y="516.6" width="34.0" height="16.0" rx="6.0" fill="#000" fill-opacity="0.30"/>
<rect x="1185.3" y="516.0" width="34.0" height="16.0" rx="6.0" fill="#000" fill-opacity="0.20"/>
<rect x="1221.4" y="513.6" width="34.0" height="16.0" rx="6.0" fill="#000" fill-opacity="0.35"/>
<rect x="1293.7" y="516.6" width="34.0" height="16.0" rx="6.0" fill="#000" fill-opacity="0.30"/>
<rect x="1369.1" y="525.7" width="34.0" height="16.0" rx="6.0" fill="#000" fill-opacity="0.60"/>
<rect x="1443.5" y="527.0" width="34.0" height="16.0" rx="6.0" fill="#000" fill-opacity="0.30"/>
</g>
</g>
<rect x="1038.3" y="404.8" width="443.4" height="225.4" fill="none" stroke="#000" stroke-width="2.6"/>
<clipPath id="cp6"><rect x="1037" y="659.5" width="446" height="228.5"/></clipPath>
<rect x="1037" y="659.5" width="446" height="228.5" fill="url(#gb2)"/>
<g clip-path="url(#cp6)">
<g filter="url(#bl10_0)">
<rect x="1331.0" y="703.8" width="30.0" height="159.9" rx="6.0" fill="#000" fill-opacity="0.01"/>
<rect x="1047.0" y="703.8" width="30.0" height="159.9" rx="6.0" fill="#000" fill-opacity="0.01"/>
<rect x="1367.0" y="703.8" width="30.0" height="159.9" rx="6.0" fill="#000" fill-opacity="0.01"/>
<rect x="1081.0" y="703.8" width="30.0" height="159.9" rx="6.0" fill="#000" fill-opacity="0.01"/>
<rect x="1114.0" y="703.8" width="30.0" height="159.9" rx="6.0" fill="#000" fill-opacity="0.01"/>
<rect x="1147.0" y="703.8" width="30.0" height="159.9" rx="6.0" fill="#000" fill-opacity="0.01"/>
<rect x="1404.0" y="703.8" width="30.0" height="159.9" rx="6.0" fill="#000" fill-opacity="0.01"/>
<rect x="1183.0" y="703.8" width="30.0" height="159.9" rx="6.0" fill="#000" fill-opacity="0.01"/>
<rect x="1439.0" y="703.8" width="30.0" height="159.9" rx="6.0" fill="#000" fill-opacity="0.01"/>
<rect x="1220.0" y="703.8" width="30.0" height="159.9" rx="6.0" fill="#000" fill-opacity="0.01"/>
<rect x="1256.0" y="703.8" width="30.0" height="159.9" rx="6.0" fill="#000" fill-opacity="0.01"/>
<rect x="1293.0" y="703.8" width="30.0" height="159.9" rx="6.0" fill="#000" fill-opacity="0.01"/>
<rect x="1048.2" y="698.5" width="423.7" height="30.0" rx="6.0" fill="#000" fill-opacity="0.05"/>
</g>
<g filter="url(#bl9_0)">
<rect x="1076.8" y="779.0" width="37.4" height="32.0" rx="6.0" fill="#000" fill-opacity="0.04"/>
<rect x="1110.1" y="779.0" width="37.4" height="32.0" rx="6.0" fill="#000" fill-opacity="0.03"/>
<rect x="1143.5" y="777.7" width="37.4" height="32.0" rx="6.0" fill="#000" fill-opacity="0.03"/>
<rect x="1216.6" y="776.0" width="37.4" height="32.0" rx="6.0" fill="#000" fill-opacity="0.03"/>
<rect x="1289.8" y="772.6" width="37.4" height="32.0" rx="6.0" fill="#000" fill-opacity="0.03"/>
<rect x="1362.9" y="774.0" width="37.4" height="32.0" rx="6.0" fill="#000" fill-opacity="0.05"/>
<rect x="1434.8" y="777.7" width="37.4" height="32.0" rx="6.0" fill="#000" fill-opacity="0.04"/>
</g>
<g filter="url(#bl7_2)">
<rect x="1046.7" y="698.3" width="30.6" height="14.4" rx="6.0" fill="#000" fill-opacity="0.20"/>
<rect x="1080.2" y="698.3" width="30.6" height="14.4" rx="6.0" fill="#000" fill-opacity="0.13"/>
<rect x="1113.5" y="698.3" width="30.6" height="14.4" rx="6.0" fill="#000" fill-opacity="0.18"/>
<rect x="1146.9" y="698.3" width="30.6" height="14.4" rx="6.0" fill="#000" fill-opacity="0.18"/>
<rect x="1182.7" y="698.3" width="30.6" height="14.4" rx="6.0" fill="#000" fill-opacity="0.13"/>
<rect x="1220.0" y="698.3" width="30.6" height="14.4" rx="6.0" fill="#000" fill-opacity="0.12"/>
<rect x="1256.0" y="698.3" width="30.6" height="14.4" rx="6.0" fill="#000" fill-opacity="0.15"/>
<rect x="1293.2" y="698.3" width="30.6" height="14.4" rx="6.0" fill="#000" fill-opacity="0.20"/>
<rect x="1330.4" y="698.3" width="30.6" height="14.4" rx="6.0" fill="#000" fill-opacity="0.15"/>
<rect x="1366.3" y="698.3" width="30.6" height="14.4" rx="6.0" fill="#000" fill-opacity="0.17"/>
<rect x="1403.6" y="698.3" width="30.6" height="14.4" rx="6.0" fill="#000" fill-opacity="0.17"/>
<rect x="1438.2" y="698.3" width="30.6" height="14.4" rx="6.0" fill="#000" fill-opacity="0.17"/>
</g>
<g filter="url(#bl4_95)">
<rect x="1045.8" y="790.2" width="32.3" height="13.6" rx="6.0" fill="#000" fill-opacity="0.12"/>
<rect x="1181.8" y="786.9" width="32.3" height="13.6" rx="6.0" fill="#000" fill-opacity="0.17"/>
<rect x="1255.1" y="786.2" width="32.3" height="13.6" rx="6.0" fill="#000" fill-opacity="0.04"/>
<rect x="1329.5" y="784.2" width="32.3" height="13.6" rx="6.0" fill="#000" fill-opacity="0.17"/>
<rect x="1402.8" y="786.9" width="32.3" height="13.6" rx="6.0" fill="#000" fill-opacity="0.17"/>
<rect x="1079.8" y="823.2" width="31.3" height="13.6" rx="6.0" fill="#000" fill-opacity="0.07"/>
<rect x="1182.3" y="823.2" width="31.3" height="13.6" rx="6.0" fill="#000" fill-opacity="0.07"/>
<rect x="1292.8" y="823.2" width="31.3" height="13.6" rx="6.0" fill="#000" fill-opacity="0.07"/>
<rect x="1365.9" y="825.2" width="31.3" height="13.6" rx="6.0" fill="#000" fill-opacity="0.07"/>
</g>
<g filter="url(#bl4_5)">
<rect x="1045.0" y="705.5" width="34.0" height="16.0" rx="6.0" fill="#000" fill-opacity="0.66"/>
<rect x="1078.5" y="705.5" width="34.0" height="16.0" rx="6.0" fill="#000" fill-opacity="0.44"/>
<rect x="1111.8" y="705.5" width="34.0" height="16.0" rx="6.0" fill="#000" fill-opacity="0.61"/>
<rect x="1145.2" y="705.5" width="34.0" height="16.0" rx="6.0" fill="#000" fill-opacity="0.61"/>
<rect x="1181.0" y="705.5" width="34.0" height="16.0" rx="6.0" fill="#000" fill-opacity="0.44"/>
<rect x="1218.3" y="705.5" width="34.0" height="16.0" rx="6.0" fill="#000" fill-opacity="0.39"/>
<rect x="1254.3" y="705.5" width="34.0" height="16.0" rx="6.0" fill="#000" fill-opacity="0.50"/>
<rect x="1291.5" y="705.5" width="34.0" height="16.0" rx="6.0" fill="#000" fill-opacity="0.66"/>
<rect x="1328.7" y="705.5" width="34.0" height="16.0" rx="6.0" fill="#000" fill-opacity="0.50"/>
<rect x="1364.6" y="705.5" width="34.0" height="16.0" rx="6.0" fill="#000" fill-opacity="0.55"/>
<rect x="1401.9" y="705.5" width="34.0" height="16.0" rx="6.0" fill="#000" fill-opacity="0.55"/>
<rect x="1436.5" y="705.5" width="34.0" height="16.0" rx="6.0" fill="#000" fill-opacity="0.55"/>
<rect x="1078.5" y="787.0" width="34.0" height="16.0" rx="6.0" fill="#000" fill-opacity="0.25"/>
<rect x="1111.8" y="787.0" width="34.0" height="16.0" rx="6.0" fill="#000" fill-opacity="0.20"/>
<rect x="1145.2" y="785.7" width="34.0" height="16.0" rx="6.0" fill="#000" fill-opacity="0.20"/>
<rect x="1218.3" y="784.0" width="34.0" height="16.0" rx="6.0" fill="#000" fill-opacity="0.22"/>
<rect x="1291.5" y="780.6" width="34.0" height="16.0" rx="6.0" fill="#000" fill-opacity="0.22"/>
<rect x="1364.6" y="782.0" width="34.0" height="16.0" rx="6.0" fill="#000" fill-opacity="0.35"/>
<rect x="1436.5" y="785.7" width="34.0" height="16.0" rx="6.0" fill="#000" fill-opacity="0.30"/>
</g>
</g>
<rect x="1038.3" y="660.8" width="443.4" height="225.9" fill="none" stroke="#000" stroke-width="2.6"/>
<text x="1239.5" y="950.0" font-size="29.2" stroke="#000" stroke-width="0.6">PhoQ<tspan font-size="17" dy="9">wt</tspan><tspan dy="-9" dx="-1.5"> phosphatase activity on PhoP* variants</tspan></text>
<text x="6.0" y="1187.5" font-size="28" stroke="#000" stroke-width="0.6" letter-spacing="0.45">HK cocktail</text>
<path d="M165.4,1169.0 L182.4,1178.5 L165.4,1188.0 Z" fill="#000"/>
<text x="97.5" y="1293.0" font-size="28" stroke="#000" stroke-width="0.6">RRs</text>
<path d="M165.4,1274.8 L182.4,1284.3 L165.4,1293.8 Z" fill="#000"/>
<text x="1969.0" y="1187.4" font-size="28" stroke="#000" stroke-width="0.6" letter-spacing="0.5">0 hr</text>
<text x="1969.0" y="1443.3" font-size="28" stroke="#000" stroke-width="0.6" letter-spacing="0.5">1 hr</text>
<text x="1969.0" y="1700.0" font-size="28" stroke="#000" stroke-width="0.6" letter-spacing="0.5">2 hr</text>
<text transform="translate(248.6,1139.7) rotate(-90)" font-size="28.5" stroke="#5656ab" stroke-width="0.6" font-weight="bold" fill="#5656ab">PhoP<tspan font-size="18" dy="10">13</tspan><tspan dy="-10">*</tspan></text>
<text transform="translate(277.5,1140.5) rotate(-90)" font-size="28" stroke="#000" stroke-width="0.6">--</text>
<text transform="translate(312.0,1139.3) rotate(-90)" font-size="28.5" stroke="#000" stroke-width="0.6">PhoB</text>
<text transform="translate(349.2,1139.3) rotate(-90)" font-size="28.5" stroke="#000" stroke-width="0.6">CusR</text>
<text transform="translate(386.4,1139.3) rotate(-90)" font-size="28.5" stroke="#000" stroke-width="0.6">CitB</text>
<text transform="translate(423.6,1139.3) rotate(-90)" font-size="28.5" stroke="#000" stroke-width="0.6">KdpE</text>
<text transform="translate(460.8,1139.3) rotate(-90)" font-size="28.5" stroke="#000" stroke-width="0.6">PhoP</text>
<text transform="translate(498.0,1139.3) rotate(-90)" font-size="28.5" stroke="#000" stroke-width="0.6">RstA</text>
<text transform="translate(535.2,1139.3) rotate(-90)" font-size="28.5" stroke="#000" stroke-width="0.6">YgiX</text>
<text transform="translate(572.4,1139.3) rotate(-90)" font-size="28.5" stroke="#000" stroke-width="0.6">NtrC</text>
<text transform="translate(609.6,1139.3) rotate(-90)" font-size="28.5" stroke="#000" stroke-width="0.6">CpxR</text>
<text transform="translate(646.8,1139.3) rotate(-90)" font-size="28.5" stroke="#000" stroke-width="0.6">DcuR</text>
<text transform="translate(684.0,1139.3) rotate(-90)" font-size="28.5" stroke="#000" stroke-width="0.6">CreB</text>
<text transform="translate(721.2,1139.3) rotate(-90)" font-size="28.5" stroke="#000" stroke-width="0.6">BaeR</text>
<text transform="translate(849.5,1139.7) rotate(-90)" font-size="28.5" stroke="#5656ab" stroke-width="0.6" font-weight="bold" fill="#5656ab">PhoP<tspan font-size="18" dy="10">14</tspan><tspan dy="-10">*</tspan></text>
<text transform="translate(878.5,1140.5) rotate(-90)" font-size="28" stroke="#000" stroke-width="0.6">--</text>
<text transform="translate(911.4,1139.3) rotate(-90)" font-size="28.5" stroke="#000" stroke-width="0.6">PhoB</text>
<text transform="translate(948.7,1139.3) rotate(-90)" font-size="28.5" stroke="#000" stroke-width="0.6">CusR</text>
<text transform="translate(985.9,1139.3) rotate(-90)" font-size="28.5" stroke="#000" stroke-width="0.6">CitB</text>
<text transform="translate(1023.2,1139.3) rotate(-90)" font-size="28.5" stroke="#000" stroke-width="0.6">KdpE</text>
<text transform="translate(1060.5,1139.3) rotate(-90)" font-size="28.5" stroke="#000" stroke-width="0.6">PhoP</text>
<text transform="translate(1097.8,1139.3) rotate(-90)" font-size="28.5" stroke="#000" stroke-width="0.6">RstA</text>
<text transform="translate(1135.0,1139.3) rotate(-90)" font-size="28.5" stroke="#000" stroke-width="0.6">YgiX</text>
<text transform="translate(1172.3,1139.3) rotate(-90)" font-size="28.5" stroke="#000" stroke-width="0.6">NtrC</text>
<text transform="translate(1209.6,1139.3) rotate(-90)" font-size="28.5" stroke="#000" stroke-width="0.6">CpxR</text>
<text transform="translate(1246.8,1139.3) rotate(-90)" font-size="28.5" stroke="#000" stroke-width="0.6">DcuR</text>
<text transform="translate(1284.1,1139.3) rotate(-90)" font-size="28.5" stroke="#000" stroke-width="0.6">CreB</text>
<text transform="translate(1321.4,1139.3) rotate(-90)" font-size="28.5" stroke="#000" stroke-width="0.6">BaeR</text>
<text transform="translate(1430.7,1139.7) rotate(-90)" font-size="28.5" stroke="#5656ab" stroke-width="0.6" font-weight="bold" fill="#5656ab">PhoP<tspan font-size="18" dy="10">15</tspan><tspan dy="-10">*</tspan></text>
<text transform="translate(1460.0,1140.5) rotate(-90)" font-size="28" stroke="#000" stroke-width="0.6">--</text>
<text transform="translate(1508.0,1139.3) rotate(-90)" font-size="28.5" stroke="#000" stroke-width="0.6">PhoB</text>
<text transform="translate(1545.3,1139.3) rotate(-90)" font-size="28.5" stroke="#000" stroke-width="0.6">CusR</text>
<text transform="translate(1582.5,1139.3) rotate(-90)" font-size="28.5" stroke="#000" stroke-width="0.6">CitB</text>
<text transform="translate(1619.8,1139.3) rotate(-90)" font-size="28.5" stroke="#000" stroke-width="0.6">KdpE</text>
<text transform="translate(1657.0,1139.3) rotate(-90)" font-size="28.5" stroke="#000" stroke-width="0.6">PhoP</text>
<text transform="translate(1694.3,1139.3) rotate(-90)" font-size="28.5" stroke="#000" stroke-width="0.6">RstA</text>
<text transform="translate(1731.6,1139.3) rotate(-90)" font-size="28.5" stroke="#000" stroke-width="0.6">BaeR</text>
<text transform="translate(1768.8,1139.3) rotate(-90)" font-size="28.5" stroke="#000" stroke-width="0.6">YgiX</text>
<text transform="translate(1806.1,1139.3) rotate(-90)" font-size="28.5" stroke="#000" stroke-width="0.6">NtrC</text>
<text transform="translate(1843.3,1139.3) rotate(-90)" font-size="28.5" stroke="#000" stroke-width="0.6">CpxR</text>
<text transform="translate(1880.6,1139.3) rotate(-90)" font-size="28.5" stroke="#000" stroke-width="0.6">DcuR</text>
<text transform="translate(1917.9,1139.3) rotate(-90)" font-size="28.5" stroke="#000" stroke-width="0.6">CreB</text>
<clipPath id="cp7"><rect x="203.6" y="1159.5" width="542.4" height="227.0"/></clipPath>
<rect x="203.6" y="1159.5" width="542.4" height="227.0" fill="#e7e7e7"/>
<g clip-path="url(#cp7)">
<g filter="url(#bl11_0)">
<rect x="217.6" y="1273.7" width="38.5" height="32.0" rx="6.0" fill="#000" fill-opacity="0.09"/>
<rect x="289.8" y="1250.6" width="38.5" height="32.0" rx="6.0" fill="#000" fill-opacity="0.06"/>
<rect x="325.1" y="1259.8" width="38.5" height="32.0" rx="6.0" fill="#000" fill-opacity="0.14"/>
<rect x="360.4" y="1243.0" width="38.5" height="32.0" rx="6.0" fill="#000" fill-opacity="0.06"/>
<rect x="399.2" y="1252.2" width="37.4" height="32.0" rx="6.0" fill="#000" fill-opacity="0.15"/>
<rect x="437.1" y="1270.6" width="38.5" height="32.0" rx="6.0" fill="#000" fill-opacity="0.04"/>
<rect x="473.9" y="1246.0" width="38.5" height="32.0" rx="6.0" fill="#000" fill-opacity="0.13"/>
<rect x="512.8" y="1266.0" width="37.4" height="32.0" rx="6.0" fill="#000" fill-opacity="0.14"/>
<rect x="550.6" y="1333.5" width="38.5" height="32.0" rx="6.0" fill="#000" fill-opacity="0.04"/>
<rect x="589.5" y="1246.6" width="37.4" height="34.0" rx="6.0" fill="#000" fill-opacity="0.11"/>
<rect x="699.5" y="1249.0" width="38.5" height="32.0" rx="6.0" fill="#000" fill-opacity="0.10"/>
<rect x="699.5" y="1278.3" width="38.5" height="32.0" rx="6.0" fill="#000" fill-opacity="0.07"/>
</g>
<g filter="url(#bl10_0)">
<rect x="593.0" y="1203.5" width="30.0" height="158.9" rx="6.0" fill="#000" fill-opacity="0.01"/>
<rect x="403.0" y="1203.5" width="30.0" height="158.9" rx="6.0" fill="#000" fill-opacity="0.01"/>
<rect x="630.0" y="1203.5" width="30.0" height="158.9" rx="6.0" fill="#000" fill-opacity="0.01"/>
<rect x="441.0" y="1203.5" width="30.0" height="158.9" rx="6.0" fill="#000" fill-opacity="0.01"/>
<rect x="665.0" y="1203.5" width="30.0" height="158.9" rx="6.0" fill="#000" fill-opacity="0.01"/>
<rect x="222.0" y="1203.5" width="30.0" height="158.9" rx="6.0" fill="#000" fill-opacity="0.01"/>
<rect x="704.0" y="1203.5" width="30.0" height="158.9" rx="6.0" fill="#000" fill-opacity="0.01"/>
<rect x="259.0" y="1203.5" width="30.0" height="158.9" rx="6.0" fill="#000" fill-opacity="0.01"/>
<rect x="517.0" y="1203.5" width="30.0" height="158.9" rx="6.0" fill="#000" fill-opacity="0.01"/>
<rect x="294.0" y="1203.5" width="30.0" height="158.9" rx="6.0" fill="#000" fill-opacity="0.01"/>
<rect x="329.0" y="1203.5" width="30.0" height="158.9" rx="6.0" fill="#000" fill-opacity="0.01"/>
<rect x="555.0" y="1203.5" width="30.0" height="158.9" rx="6.0" fill="#000" fill-opacity="0.01"/>
<rect x="365.0" y="1203.5" width="30.0" height="158.9" rx="6.0" fill="#000" fill-opacity="0.01"/>
<rect x="217.2" y="1179.0" width="515.3" height="30.0" rx="6.0" fill="#000" fill-opacity="0.12"/>
<rect x="214.8" y="1173.0" width="44.0" height="34.0" rx="6.0" fill="#000" fill-opacity="0.12"/>
<rect x="251.7" y="1174.4" width="44.0" height="34.0" rx="6.0" fill="#000" fill-opacity="0.15"/>
<rect x="434.3" y="1175.0" width="44.0" height="34.0" rx="6.0" fill="#000" fill-opacity="0.08"/>
<rect x="509.5" y="1177.5" width="44.0" height="34.0" rx="6.0" fill="#000" fill-opacity="0.14"/>
<rect x="623.0" y="1179.0" width="44.0" height="34.0" rx="6.0" fill="#000" fill-opacity="0.12"/>
<rect x="658.4" y="1180.6" width="44.0" height="34.0" rx="6.0" fill="#000" fill-opacity="0.15"/>
<rect x="696.7" y="1182.0" width="44.0" height="34.0" rx="6.0" fill="#000" fill-opacity="0.11"/>
<rect x="322.3" y="1258.8" width="44.0" height="34.0" rx="6.0" fill="#000" fill-opacity="0.10"/>
<rect x="395.9" y="1251.2" width="44.0" height="34.0" rx="6.0" fill="#000" fill-opacity="0.15"/>
<rect x="471.1" y="1245.0" width="44.0" height="34.0" rx="6.0" fill="#000" fill-opacity="0.08"/>
<rect x="509.5" y="1265.0" width="44.0" height="34.0" rx="6.0" fill="#000" fill-opacity="0.10"/>
</g>
<g filter="url(#bl8_8)">
<rect x="220.6" y="1172.5" width="32.4" height="18.9" rx="6.0" fill="#000" fill-opacity="0.28"/>
<rect x="254.8" y="1172.2" width="37.8" height="22.5" rx="6.0" fill="#000" fill-opacity="0.30"/>
<rect x="293.7" y="1175.5" width="30.6" height="17.1" rx="6.0" fill="#000" fill-opacity="0.21"/>
<rect x="329.0" y="1176.5" width="30.6" height="17.1" rx="6.0" fill="#000" fill-opacity="0.21"/>
<rect x="364.3" y="1176.5" width="30.6" height="17.1" rx="6.0" fill="#000" fill-opacity="0.22"/>
<rect x="402.6" y="1176.5" width="30.6" height="17.1" rx="6.0" fill="#000" fill-opacity="0.24"/>
<rect x="441.0" y="1175.5" width="30.6" height="17.1" rx="6.0" fill="#000" fill-opacity="0.26"/>
<rect x="477.8" y="1176.5" width="30.6" height="17.1" rx="6.0" fill="#000" fill-opacity="0.02"/>
<rect x="516.2" y="1177.0" width="30.6" height="18.9" rx="6.0" fill="#000" fill-opacity="0.29"/>
<rect x="554.6" y="1179.5" width="30.6" height="17.1" rx="6.0" fill="#000" fill-opacity="0.14"/>
<rect x="592.9" y="1179.5" width="30.6" height="17.1" rx="6.0" fill="#000" fill-opacity="0.22"/>
<rect x="629.7" y="1179.0" width="30.6" height="18.0" rx="6.0" fill="#000" fill-opacity="0.28"/>
<rect x="663.3" y="1179.7" width="34.2" height="19.8" rx="6.0" fill="#000" fill-opacity="0.30"/>
<rect x="703.4" y="1182.0" width="30.6" height="18.0" rx="6.0" fill="#000" fill-opacity="0.28"/>
</g>
<g filter="url(#bl6_050000000000001)">
<rect x="220.2" y="1327.2" width="33.2" height="13.6" rx="6.0" fill="#000" fill-opacity="0.22"/>
<rect x="363.0" y="1302.8" width="33.2" height="13.6" rx="6.0" fill="#000" fill-opacity="0.14"/>
<rect x="363.0" y="1324.2" width="33.2" height="13.6" rx="6.0" fill="#000" fill-opacity="0.14"/>
<rect x="401.3" y="1308.9" width="33.2" height="13.6" rx="6.0" fill="#000" fill-opacity="0.14"/>
<rect x="553.3" y="1302.8" width="33.2" height="13.6" rx="6.0" fill="#000" fill-opacity="0.17"/>
<rect x="591.6" y="1305.2" width="33.2" height="13.6" rx="6.0" fill="#000" fill-opacity="0.14"/>
<rect x="628.4" y="1258.2" width="33.2" height="13.6" rx="6.0" fill="#000" fill-opacity="0.12"/>
<rect x="628.4" y="1308.9" width="33.2" height="13.6" rx="6.0" fill="#000" fill-opacity="0.14"/>
<rect x="702.1" y="1305.2" width="33.2" height="13.6" rx="6.0" fill="#000" fill-opacity="0.17"/>
<rect x="327.7" y="1318.2" width="33.2" height="13.6" rx="6.0" fill="#000" fill-opacity="0.12"/>
<rect x="292.4" y="1323.2" width="33.2" height="13.6" rx="6.0" fill="#000" fill-opacity="0.09"/>
</g>
<g filter="url(#bl5_5)">
<rect x="218.8" y="1179.5" width="36.0" height="21.0" rx="6.0" fill="#000" fill-opacity="0.95"/>
<rect x="252.7" y="1178.9" width="42.0" height="25.0" rx="6.0" fill="#000" fill-opacity="1.00"/>
<rect x="292.0" y="1182.5" width="34.0" height="19.0" rx="6.0" fill="#000" fill-opacity="0.70"/>
<rect x="327.3" y="1183.5" width="34.0" height="19.0" rx="6.0" fill="#000" fill-opacity="0.70"/>
<rect x="362.6" y="1183.5" width="34.0" height="19.0" rx="6.0" fill="#000" fill-opacity="0.75"/>
<rect x="400.9" y="1183.5" width="34.0" height="19.0" rx="6.0" fill="#000" fill-opacity="0.80"/>
<rect x="439.3" y="1182.5" width="34.0" height="19.0" rx="6.0" fill="#000" fill-opacity="0.85"/>
<rect x="476.1" y="1183.5" width="34.0" height="19.0" rx="6.0" fill="#000" fill-opacity="0.08"/>
<rect x="514.5" y="1184.0" width="34.0" height="21.0" rx="6.0" fill="#000" fill-opacity="0.98"/>
<rect x="552.9" y="1186.5" width="34.0" height="19.0" rx="6.0" fill="#000" fill-opacity="0.45"/>
<rect x="591.2" y="1186.5" width="34.0" height="19.0" rx="6.0" fill="#000" fill-opacity="0.75"/>
<rect x="628.0" y="1186.0" width="34.0" height="20.0" rx="6.0" fill="#000" fill-opacity="0.95"/>
<rect x="661.4" y="1186.6" width="38.0" height="22.0" rx="6.0" fill="#000" fill-opacity="1.00"/>
<rect x="701.7" y="1189.0" width="34.0" height="20.0" rx="6.0" fill="#000" fill-opacity="0.92"/>
<rect x="219.3" y="1281.7" width="35.0" height="16.0" rx="6.0" fill="#000" fill-opacity="0.60"/>
<rect x="291.5" y="1258.6" width="35.0" height="16.0" rx="6.0" fill="#000" fill-opacity="0.40"/>
<rect x="326.8" y="1267.8" width="35.0" height="16.0" rx="6.0" fill="#000" fill-opacity="0.90"/>
<rect x="362.1" y="1251.0" width="35.0" height="16.0" rx="6.0" fill="#000" fill-opacity="0.40"/>
<rect x="400.9" y="1260.2" width="34.0" height="16.0" rx="6.0" fill="#000" fill-opacity="1.00"/>
<rect x="438.8" y="1278.6" width="35.0" height="16.0" rx="6.0" fill="#000" fill-opacity="0.25"/>
<rect x="475.6" y="1254.0" width="35.0" height="16.0" rx="6.0" fill="#000" fill-opacity="0.85"/>
<rect x="514.5" y="1274.0" width="34.0" height="16.0" rx="6.0" fill="#000" fill-opacity="0.90"/>
<rect x="552.4" y="1341.5" width="35.0" height="16.0" rx="6.0" fill="#000" fill-opacity="0.30"/>
<rect x="591.2" y="1255.1" width="34.0" height="17.0" rx="6.0" fill="#000" fill-opacity="0.75"/>
<rect x="701.2" y="1257.0" width="35.0" height="16.0" rx="6.0" fill="#000" fill-opacity="0.65"/>
<rect x="701.2" y="1286.3" width="35.0" height="16.0" rx="6.0" fill="#000" fill-opacity="0.50"/>
</g>
</g>
<rect x="204.9" y="1160.8" width="539.8" height="224.4" fill="none" stroke="#000" stroke-width="2.6"/>
<clipPath id="cp8"><rect x="203.6" y="1414.8" width="542.4" height="227.0"/></clipPath>
<rect x="203.6" y="1414.8" width="542.4" height="227.0" fill="#f6f6f6"/>
<g clip-path="url(#cp8)">
<g filter="url(#bl11_0)">
<rect x="282.1" y="1521.0" width="38.5" height="32.0" rx="6.0" fill="#000" fill-opacity="0.03"/>
<rect x="318.8" y="1525.6" width="38.5" height="32.0" rx="6.0" fill="#000" fill-opacity="0.10"/>
<rect x="355.8" y="1505.6" width="38.5" height="32.0" rx="6.0" fill="#000" fill-opacity="0.04"/>
<rect x="392.6" y="1513.3" width="38.5" height="32.0" rx="6.0" fill="#000" fill-opacity="0.11"/>
<rect x="467.8" y="1508.7" width="38.5" height="32.0" rx="6.0" fill="#000" fill-opacity="0.08"/>
<rect x="506.1" y="1528.7" width="38.5" height="32.0" rx="6.0" fill="#000" fill-opacity="0.10"/>
<rect x="581.4" y="1510.2" width="38.5" height="32.0" rx="6.0" fill="#000" fill-opacity="0.07"/>
<rect x="693.4" y="1505.6" width="38.5" height="32.0" rx="6.0" fill="#000" fill-opacity="0.08"/>
<rect x="693.4" y="1539.4" width="38.5" height="32.0" rx="6.0" fill="#000" fill-opacity="0.05"/>
</g>
<g filter="url(#bl10_0)">
<rect x="434.0" y="1458.8" width="30.0" height="158.9" rx="6.0" fill="#000" fill-opacity="0.01"/>
<rect x="661.0" y="1458.8" width="30.0" height="158.9" rx="6.0" fill="#000" fill-opacity="0.01"/>
<rect x="698.0" y="1458.8" width="30.0" height="158.9" rx="6.0" fill="#000" fill-opacity="0.01"/>
<rect x="219.0" y="1458.8" width="30.0" height="158.9" rx="6.0" fill="#000" fill-opacity="0.01"/>
<rect x="251.0" y="1458.8" width="30.0" height="158.9" rx="6.0" fill="#000" fill-opacity="0.01"/>
<rect x="286.0" y="1458.8" width="30.0" height="158.9" rx="6.0" fill="#000" fill-opacity="0.01"/>
<rect x="510.0" y="1458.8" width="30.0" height="158.9" rx="6.0" fill="#000" fill-opacity="0.01"/>
<rect x="323.0" y="1458.8" width="30.0" height="158.9" rx="6.0" fill="#000" fill-opacity="0.01"/>
<rect x="547.0" y="1458.8" width="30.0" height="158.9" rx="6.0" fill="#000" fill-opacity="0.01"/>
<rect x="360.0" y="1458.8" width="30.0" height="158.9" rx="6.0" fill="#000" fill-opacity="0.01"/>
<rect x="586.0" y="1458.8" width="30.0" height="158.9" rx="6.0" fill="#000" fill-opacity="0.01"/>
<rect x="397.0" y="1458.8" width="30.0" height="158.9" rx="6.0" fill="#000" fill-opacity="0.01"/>
<rect x="624.0" y="1458.8" width="30.0" height="158.9" rx="6.0" fill="#000" fill-opacity="0.01"/>
<rect x="217.2" y="1443.7" width="515.3" height="30.0" rx="6.0" fill="#000" fill-opacity="0.08"/>
<rect x="211.8" y="1441.7" width="44.0" height="34.0" rx="6.0" fill="#000" fill-opacity="0.08"/>
<rect x="244.0" y="1441.7" width="44.0" height="34.0" rx="6.0" fill="#000" fill-opacity="0.15"/>
</g>
<g filter="url(#bl8_8)">
<rect x="217.6" y="1441.7" width="32.4" height="18.0" rx="6.0" fill="#000" fill-opacity="0.26"/>
<rect x="248.0" y="1439.5" width="36.0" height="22.5" rx="6.0" fill="#000" fill-opacity="0.30"/>
<rect x="286.0" y="1442.2" width="30.6" height="17.1" rx="6.0" fill="#000" fill-opacity="0.10"/>
<rect x="322.7" y="1442.2" width="30.6" height="17.1" rx="6.0" fill="#000" fill-opacity="0.09"/>
<rect x="359.7" y="1442.2" width="30.6" height="17.1" rx="6.0" fill="#000" fill-opacity="0.10"/>
<rect x="396.5" y="1442.2" width="30.6" height="17.1" rx="6.0" fill="#000" fill-opacity="0.18"/>
<rect x="433.3" y="1442.2" width="30.6" height="17.1" rx="6.0" fill="#000" fill-opacity="0.18"/>
<rect x="471.7" y="1442.2" width="30.6" height="17.1" rx="6.0" fill="#000" fill-opacity="0.02"/>
<rect x="510.1" y="1442.2" width="30.6" height="17.1" rx="6.0" fill="#000" fill-opacity="0.21"/>
<rect x="546.9" y="1442.2" width="30.6" height="17.1" rx="6.0" fill="#000" fill-opacity="0.07"/>
<rect x="585.3" y="1442.2" width="30.6" height="17.1" rx="6.0" fill="#000" fill-opacity="0.14"/>
<rect x="623.6" y="1442.2" width="30.6" height="17.1" rx="6.0" fill="#000" fill-opacity="0.20"/>
<rect x="660.4" y="1442.2" width="30.6" height="17.1" rx="6.0" fill="#000" fill-opacity="0.22"/>
<rect x="697.3" y="1442.2" width="30.6" height="17.1" rx="6.0" fill="#000" fill-opacity="0.17"/>
</g>
<g filter="url(#bl6_050000000000001)">
<rect x="217.2" y="1551.7" width="33.2" height="13.6" rx="6.0" fill="#000" fill-opacity="0.17"/>
<rect x="217.2" y="1570.2" width="33.2" height="13.6" rx="6.0" fill="#000" fill-opacity="0.14"/>
<rect x="217.2" y="1600.8" width="33.2" height="13.6" rx="6.0" fill="#000" fill-opacity="0.22"/>
<rect x="249.4" y="1582.2" width="33.2" height="13.6" rx="6.0" fill="#000" fill-opacity="0.12"/>
<rect x="249.4" y="1598.2" width="33.2" height="13.6" rx="6.0" fill="#000" fill-opacity="0.09"/>
<rect x="358.4" y="1567.0" width="33.2" height="13.6" rx="6.0" fill="#000" fill-opacity="0.12"/>
<rect x="395.2" y="1567.0" width="33.2" height="13.6" rx="6.0" fill="#000" fill-opacity="0.12"/>
<rect x="432.0" y="1542.2" width="33.2" height="13.6" rx="6.0" fill="#000" fill-opacity="0.12"/>
<rect x="545.6" y="1567.0" width="33.2" height="13.6" rx="6.0" fill="#000" fill-opacity="0.14"/>
<rect x="545.6" y="1603.8" width="33.2" height="13.6" rx="6.0" fill="#000" fill-opacity="0.22"/>
<rect x="584.0" y="1567.0" width="33.2" height="13.6" rx="6.0" fill="#000" fill-opacity="0.14"/>
<rect x="622.3" y="1570.2" width="33.2" height="13.6" rx="6.0" fill="#000" fill-opacity="0.17"/>
<rect x="696.0" y="1567.0" width="33.2" height="13.6" rx="6.0" fill="#000" fill-opacity="0.22"/>
</g>
<g filter="url(#bl5_5)">
<rect x="215.8" y="1448.7" width="36.0" height="20.0" rx="6.0" fill="#000" fill-opacity="0.85"/>
<rect x="246.0" y="1446.2" width="40.0" height="25.0" rx="6.0" fill="#000" fill-opacity="1.00"/>
<rect x="284.3" y="1449.2" width="34.0" height="19.0" rx="6.0" fill="#000" fill-opacity="0.35"/>
<rect x="321.0" y="1449.2" width="34.0" height="19.0" rx="6.0" fill="#000" fill-opacity="0.30"/>
<rect x="358.0" y="1449.2" width="34.0" height="19.0" rx="6.0" fill="#000" fill-opacity="0.35"/>
<rect x="394.8" y="1449.2" width="34.0" height="19.0" rx="6.0" fill="#000" fill-opacity="0.60"/>
<rect x="431.6" y="1449.2" width="34.0" height="19.0" rx="6.0" fill="#000" fill-opacity="0.60"/>
<rect x="470.0" y="1449.2" width="34.0" height="19.0" rx="6.0" fill="#000" fill-opacity="0.08"/>
<rect x="508.4" y="1449.2" width="34.0" height="19.0" rx="6.0" fill="#000" fill-opacity="0.70"/>
<rect x="545.2" y="1449.2" width="34.0" height="19.0" rx="6.0" fill="#000" fill-opacity="0.25"/>
<rect x="583.6" y="1449.2" width="34.0" height="19.0" rx="6.0" fill="#000" fill-opacity="0.45"/>
<rect x="621.9" y="1449.2" width="34.0" height="19.0" rx="6.0" fill="#000" fill-opacity="0.65"/>
<rect x="658.7" y="1449.2" width="34.0" height="19.0" rx="6.0" fill="#000" fill-opacity="0.75"/>
<rect x="695.6" y="1449.2" width="34.0" height="19.0" rx="6.0" fill="#000" fill-opacity="0.55"/>
<rect x="283.8" y="1529.0" width="35.0" height="16.0" rx="6.0" fill="#000" fill-opacity="0.20"/>
<rect x="320.5" y="1533.6" width="35.0" height="16.0" rx="6.0" fill="#000" fill-opacity="0.70"/>
<rect x="357.5" y="1513.6" width="35.0" height="16.0" rx="6.0" fill="#000" fill-opacity="0.25"/>
<rect x="394.3" y="1521.3" width="35.0" height="16.0" rx="6.0" fill="#000" fill-opacity="0.75"/>
<rect x="469.5" y="1516.7" width="35.0" height="16.0" rx="6.0" fill="#000" fill-opacity="0.55"/>
<rect x="507.9" y="1536.7" width="35.0" height="16.0" rx="6.0" fill="#000" fill-opacity="0.65"/>
<rect x="583.1" y="1518.2" width="35.0" height="16.0" rx="6.0" fill="#000" fill-opacity="0.50"/>
<rect x="695.1" y="1513.6" width="35.0" height="16.0" rx="6.0" fill="#000" fill-opacity="0.55"/>
<rect x="695.1" y="1547.4" width="35.0" height="16.0" rx="6.0" fill="#000" fill-opacity="0.35"/>
</g>
</g>
<rect x="204.9" y="1416.1" width="539.8" height="224.4" fill="none" stroke="#000" stroke-width="2.6"/>
<clipPath id="cp9"><rect x="203.6" y="1670.5" width="542.4" height="227.0"/></clipPath>
<rect x="203.6" y="1670.5" width="542.4" height="227.0" fill="#fbfbfb"/>
<g clip-path="url(#cp9)">
<g filter="url(#bl11_0)">
<rect x="321.9" y="1785.2" width="38.5" height="32.0" rx="6.0" fill="#000" fill-opacity="0.10"/>
<rect x="358.8" y="1765.2" width="38.5" height="32.0" rx="6.0" fill="#000" fill-opacity="0.04"/>
<rect x="397.1" y="1773.0" width="38.5" height="32.0" rx="6.0" fill="#000" fill-opacity="0.10"/>
<rect x="474.8" y="1768.3" width="38.5" height="32.0" rx="6.0" fill="#000" fill-opacity="0.07"/>
<rect x="513.8" y="1789.8" width="38.5" height="32.0" rx="6.0" fill="#000" fill-opacity="0.09"/>
<rect x="555.2" y="1820.5" width="38.5" height="32.0" rx="6.0" fill="#000" fill-opacity="0.03"/>
<rect x="555.2" y="1855.8" width="38.5" height="32.0" rx="6.0" fill="#000" fill-opacity="0.04"/>
<rect x="592.0" y="1768.3" width="38.5" height="32.0" rx="6.0" fill="#000" fill-opacity="0.08"/>
<rect x="627.4" y="1766.8" width="38.5" height="32.0" rx="6.0" fill="#000" fill-opacity="0.03"/>
<rect x="627.4" y="1820.5" width="38.5" height="32.0" rx="6.0" fill="#000" fill-opacity="0.03"/>
<rect x="701.0" y="1762.0" width="38.5" height="32.0" rx="6.0" fill="#000" fill-opacity="0.07"/>
<rect x="701.0" y="1800.5" width="38.5" height="32.0" rx="6.0" fill="#000" fill-opacity="0.07"/>
</g>
<g filter="url(#bl10_0)">
<rect x="401.0" y="1714.5" width="30.0" height="158.9" rx="6.0" fill="#000" fill-opacity="0.01"/>
<rect x="596.0" y="1714.5" width="30.0" height="158.9" rx="6.0" fill="#000" fill-opacity="0.01"/>
<rect x="440.0" y="1714.5" width="30.0" height="158.9" rx="6.0" fill="#000" fill-opacity="0.01"/>
<rect x="632.0" y="1714.5" width="30.0" height="158.9" rx="6.0" fill="#000" fill-opacity="0.01"/>
<rect x="219.0" y="1714.5" width="30.0" height="158.9" rx="6.0" fill="#000" fill-opacity="0.01"/>
<rect x="668.0" y="1714.5" width="30.0" height="158.9" rx="6.0" fill="#000" fill-opacity="0.01"/>
<rect x="256.0" y="1714.5" width="30.0" height="158.9" rx="6.0" fill="#000" fill-opacity="0.01"/>
<rect x="289.0" y="1714.5" width="30.0" height="158.9" rx="6.0" fill="#000" fill-opacity="0.01"/>
<rect x="705.0" y="1714.5" width="30.0" height="158.9" rx="6.0" fill="#000" fill-opacity="0.01"/>
<rect x="326.0" y="1714.5" width="30.0" height="158.9" rx="6.0" fill="#000" fill-opacity="0.01"/>
<rect x="518.0" y="1714.5" width="30.0" height="158.9" rx="6.0" fill="#000" fill-opacity="0.01"/>
<rect x="363.0" y="1714.5" width="30.0" height="158.9" rx="6.0" fill="#000" fill-opacity="0.01"/>
<rect x="559.0" y="1714.5" width="30.0" height="158.9" rx="6.0" fill="#000" fill-opacity="0.01"/>
<rect x="217.2" y="1697.2" width="515.3" height="30.0" rx="6.0" fill="#000" fill-opacity="0.05"/>
</g>
<g filter="url(#bl8_8)">
<rect x="218.5" y="1695.7" width="30.6" height="17.1" rx="6.0" fill="#000" fill-opacity="0.18"/>
<rect x="255.3" y="1695.7" width="30.6" height="17.1" rx="6.0" fill="#000" fill-opacity="0.22"/>
<rect x="289.1" y="1695.7" width="30.6" height="17.1" rx="6.0" fill="#000" fill-opacity="0.10"/>
<rect x="325.9" y="1695.7" width="30.6" height="17.1" rx="6.0" fill="#000" fill-opacity="0.10"/>
<rect x="362.7" y="1695.7" width="30.6" height="17.1" rx="6.0" fill="#000" fill-opacity="0.12"/>
<rect x="401.1" y="1695.7" width="30.6" height="17.1" rx="6.0" fill="#000" fill-opacity="0.15"/>
<rect x="439.5" y="1695.7" width="30.6" height="17.1" rx="6.0" fill="#000" fill-opacity="0.17"/>
<rect x="478.7" y="1695.7" width="30.6" height="17.1" rx="6.0" fill="#000" fill-opacity="0.01"/>
<rect x="517.7" y="1695.7" width="30.6" height="17.1" rx="6.0" fill="#000" fill-opacity="0.18"/>
<rect x="559.2" y="1695.7" width="30.6" height="17.1" rx="6.0" fill="#000" fill-opacity="0.06"/>
<rect x="596.0" y="1695.7" width="30.6" height="17.1" rx="6.0" fill="#000" fill-opacity="0.10"/>
<rect x="631.3" y="1695.7" width="30.6" height="17.1" rx="6.0" fill="#000" fill-opacity="0.18"/>
<rect x="668.1" y="1695.7" width="30.6" height="17.1" rx="6.0" fill="#000" fill-opacity="0.22"/>
<rect x="705.0" y="1695.7" width="30.6" height="17.1" rx="6.0" fill="#000" fill-opacity="0.12"/>
</g>
<g filter="url(#bl6_050000000000001)">
<rect x="217.2" y="1809.7" width="33.2" height="13.6" rx="6.0" fill="#000" fill-opacity="0.17"/>
<rect x="217.2" y="1831.2" width="33.2" height="13.6" rx="6.0" fill="#000" fill-opacity="0.07"/>
<rect x="217.2" y="1863.5" width="33.2" height="13.6" rx="6.0" fill="#000" fill-opacity="0.17"/>
<rect x="287.8" y="1786.7" width="33.2" height="13.6" rx="6.0" fill="#000" fill-opacity="0.22"/>
<rect x="361.4" y="1829.7" width="33.2" height="13.6" rx="6.0" fill="#000" fill-opacity="0.14"/>
<rect x="399.8" y="1829.7" width="33.2" height="13.6" rx="6.0" fill="#000" fill-opacity="0.12"/>
<rect x="438.2" y="1802.1" width="33.2" height="13.6" rx="6.0" fill="#000" fill-opacity="0.14"/>
<rect x="594.7" y="1829.7" width="33.2" height="13.6" rx="6.0" fill="#000" fill-opacity="0.14"/>
<rect x="703.7" y="1826.2" width="33.2" height="13.6" rx="6.0" fill="#000" fill-opacity="0.12"/>
</g>
<g filter="url(#bl5_5)">
<rect x="216.8" y="1702.7" width="34.0" height="19.0" rx="6.0" fill="#000" fill-opacity="0.60"/>
<rect x="253.6" y="1702.7" width="34.0" height="19.0" rx="6.0" fill="#000" fill-opacity="0.75"/>
<rect x="287.4" y="1702.7" width="34.0" height="19.0" rx="6.0" fill="#000" fill-opacity="0.35"/>
<rect x="324.2" y="1702.7" width="34.0" height="19.0" rx="6.0" fill="#000" fill-opacity="0.35"/>
<rect x="361.0" y="1702.7" width="34.0" height="19.0" rx="6.0" fill="#000" fill-opacity="0.40"/>
<rect x="399.4" y="1702.7" width="34.0" height="19.0" rx="6.0" fill="#000" fill-opacity="0.50"/>
<rect x="437.8" y="1702.7" width="34.0" height="19.0" rx="6.0" fill="#000" fill-opacity="0.55"/>
<rect x="477.0" y="1702.7" width="34.0" height="19.0" rx="6.0" fill="#000" fill-opacity="0.04"/>
<rect x="516.0" y="1702.7" width="34.0" height="19.0" rx="6.0" fill="#000" fill-opacity="0.60"/>
<rect x="557.5" y="1702.7" width="34.0" height="19.0" rx="6.0" fill="#000" fill-opacity="0.20"/>
<rect x="594.3" y="1702.7" width="34.0" height="19.0" rx="6.0" fill="#000" fill-opacity="0.35"/>
<rect x="629.6" y="1702.7" width="34.0" height="19.0" rx="6.0" fill="#000" fill-opacity="0.60"/>
<rect x="666.4" y="1702.7" width="34.0" height="19.0" rx="6.0" fill="#000" fill-opacity="0.75"/>
<rect x="703.3" y="1702.7" width="34.0" height="19.0" rx="6.0" fill="#000" fill-opacity="0.40"/>
<rect x="323.7" y="1793.2" width="35.0" height="16.0" rx="6.0" fill="#000" fill-opacity="0.65"/>
<rect x="360.5" y="1773.2" width="35.0" height="16.0" rx="6.0" fill="#000" fill-opacity="0.30"/>
<rect x="398.9" y="1781.0" width="35.0" height="16.0" rx="6.0" fill="#000" fill-opacity="0.65"/>
<rect x="476.5" y="1776.3" width="35.0" height="16.0" rx="6.0" fill="#000" fill-opacity="0.50"/>
<rect x="515.5" y="1797.8" width="35.0" height="16.0" rx="6.0" fill="#000" fill-opacity="0.60"/>
<rect x="557.0" y="1828.5" width="35.0" height="16.0" rx="6.0" fill="#000" fill-opacity="0.20"/>
<rect x="557.0" y="1863.8" width="35.0" height="16.0" rx="6.0" fill="#000" fill-opacity="0.25"/>
<rect x="593.8" y="1776.3" width="35.0" height="16.0" rx="6.0" fill="#000" fill-opacity="0.55"/>
<rect x="629.1" y="1774.8" width="35.0" height="16.0" rx="6.0" fill="#000" fill-opacity="0.20"/>
<rect x="629.1" y="1828.5" width="35.0" height="16.0" rx="6.0" fill="#000" fill-opacity="0.20"/>
<rect x="702.8" y="1770.0" width="35.0" height="16.0" rx="6.0" fill="#000" fill-opacity="0.50"/>
<rect x="702.8" y="1808.5" width="35.0" height="16.0" rx="6.0" fill="#000" fill-opacity="0.45"/>
</g>
</g>
<rect x="204.9" y="1671.8" width="539.8" height="224.4" fill="none" stroke="#000" stroke-width="2.6"/>
<clipPath id="cp10"><rect x="803" y="1159.5" width="543" height="227.0"/></clipPath>
<rect x="803" y="1159.5" width="543" height="227.0" fill="#f6f6f6"/>
<g clip-path="url(#cp10)">
<g filter="url(#bl11_0)">
<rect x="816.0" y="1278.3" width="38.5" height="32.0" rx="6.0" fill="#000" fill-opacity="0.03"/>
<rect x="889.8" y="1259.8" width="38.5" height="32.0" rx="6.0" fill="#000" fill-opacity="0.06"/>
<rect x="926.5" y="1269.0" width="38.5" height="32.0" rx="6.0" fill="#000" fill-opacity="0.14"/>
<rect x="963.4" y="1255.2" width="38.5" height="32.0" rx="6.0" fill="#000" fill-opacity="0.04"/>
<rect x="998.6" y="1261.4" width="38.5" height="32.0" rx="6.0" fill="#000" fill-opacity="0.14"/>
<rect x="1073.8" y="1252.2" width="38.5" height="32.0" rx="6.0" fill="#000" fill-opacity="0.12"/>
<rect x="1110.8" y="1270.6" width="38.5" height="32.0" rx="6.0" fill="#000" fill-opacity="0.11"/>
<rect x="1147.5" y="1341.2" width="38.5" height="32.0" rx="6.0" fill="#000" fill-opacity="0.04"/>
<rect x="1184.9" y="1249.6" width="37.4" height="34.0" rx="6.0" fill="#000" fill-opacity="0.07"/>
<rect x="1294.8" y="1250.6" width="38.5" height="32.0" rx="6.0" fill="#000" fill-opacity="0.08"/>
<rect x="1294.8" y="1279.8" width="38.5" height="32.0" rx="6.0" fill="#000" fill-opacity="0.07"/>
</g>
<g filter="url(#bl10_0)">
<rect x="1041.0" y="1203.5" width="30.0" height="158.9" rx="6.0" fill="#000" fill-opacity="0.01"/>
<rect x="1299.0" y="1203.5" width="30.0" height="158.9" rx="6.0" fill="#000" fill-opacity="0.01"/>
<rect x="820.0" y="1203.5" width="30.0" height="158.9" rx="6.0" fill="#000" fill-opacity="0.01"/>
<rect x="1224.0" y="1203.5" width="30.0" height="158.9" rx="6.0" fill="#000" fill-opacity="0.01"/>
<rect x="857.0" y="1203.5" width="30.0" height="158.9" rx="6.0" fill="#000" fill-opacity="0.01"/>
<rect x="1115.0" y="1203.5" width="30.0" height="158.9" rx="6.0" fill="#000" fill-opacity="0.01"/>
<rect x="894.0" y="1203.5" width="30.0" height="158.9" rx="6.0" fill="#000" fill-opacity="0.01"/>
<rect x="1152.0" y="1203.5" width="30.0" height="158.9" rx="6.0" fill="#000" fill-opacity="0.01"/>
<rect x="931.0" y="1203.5" width="30.0" height="158.9" rx="6.0" fill="#000" fill-opacity="0.01"/>
<rect x="1189.0" y="1203.5" width="30.0" height="158.9" rx="6.0" fill="#000" fill-opacity="0.01"/>
<rect x="968.0" y="1203.5" width="30.0" height="158.9" rx="6.0" fill="#000" fill-opacity="0.01"/>
<rect x="1003.0" y="1203.5" width="30.0" height="158.9" rx="6.0" fill="#000" fill-opacity="0.01"/>
<rect x="1261.0" y="1203.5" width="30.0" height="158.9" rx="6.0" fill="#000" fill-opacity="0.01"/>
<rect x="816.6" y="1181.0" width="515.9" height="30.0" rx="6.0" fill="#000" fill-opacity="0.05"/>
<rect x="850.1" y="1179.0" width="44.0" height="34.0" rx="6.0" fill="#000" fill-opacity="0.12"/>
<rect x="1108.0" y="1179.0" width="44.0" height="34.0" rx="6.0" fill="#000" fill-opacity="0.10"/>
<rect x="1216.9" y="1179.0" width="44.0" height="34.0" rx="6.0" fill="#000" fill-opacity="0.08"/>
<rect x="1253.7" y="1179.0" width="44.0" height="34.0" rx="6.0" fill="#000" fill-opacity="0.14"/>
<rect x="923.8" y="1268.0" width="44.0" height="34.0" rx="6.0" fill="#000" fill-opacity="0.10"/>
<rect x="995.9" y="1260.4" width="44.0" height="34.0" rx="6.0" fill="#000" fill-opacity="0.10"/>
</g>
<g filter="url(#bl8_8)">
<rect x="820.0" y="1179.5" width="30.6" height="17.1" rx="6.0" fill="#000" fill-opacity="0.15"/>
<rect x="856.8" y="1179.5" width="30.6" height="17.1" rx="6.0" fill="#000" fill-opacity="0.28"/>
<rect x="893.7" y="1179.5" width="30.6" height="17.1" rx="6.0" fill="#000" fill-opacity="0.21"/>
<rect x="930.5" y="1179.5" width="30.6" height="17.1" rx="6.0" fill="#000" fill-opacity="0.21"/>
<rect x="967.3" y="1179.5" width="30.6" height="17.1" rx="6.0" fill="#000" fill-opacity="0.20"/>
<rect x="1002.6" y="1179.5" width="30.6" height="17.1" rx="6.0" fill="#000" fill-opacity="0.22"/>
<rect x="1041.0" y="1179.5" width="30.6" height="17.1" rx="6.0" fill="#000" fill-opacity="0.24"/>
<rect x="1077.8" y="1179.5" width="30.6" height="17.1" rx="6.0" fill="#000" fill-opacity="0.03"/>
<rect x="1114.7" y="1179.5" width="30.6" height="17.1" rx="6.0" fill="#000" fill-opacity="0.27"/>
<rect x="1151.5" y="1179.5" width="30.6" height="17.1" rx="6.0" fill="#000" fill-opacity="0.14"/>
<rect x="1188.3" y="1179.5" width="30.6" height="17.1" rx="6.0" fill="#000" fill-opacity="0.18"/>
<rect x="1223.6" y="1179.5" width="30.6" height="17.1" rx="6.0" fill="#000" fill-opacity="0.26"/>
<rect x="1260.4" y="1179.5" width="30.6" height="17.1" rx="6.0" fill="#000" fill-opacity="0.29"/>
<rect x="1298.8" y="1179.5" width="30.6" height="17.1" rx="6.0" fill="#000" fill-opacity="0.22"/>
</g>
<g filter="url(#bl6_050000000000001)">
<rect x="818.7" y="1333.5" width="33.2" height="13.6" rx="6.0" fill="#000" fill-opacity="0.12"/>
<rect x="966.0" y="1312.0" width="33.2" height="13.6" rx="6.0" fill="#000" fill-opacity="0.14"/>
<rect x="966.0" y="1336.2" width="33.2" height="13.6" rx="6.0" fill="#000" fill-opacity="0.12"/>
<rect x="1001.3" y="1318.2" width="33.2" height="13.6" rx="6.0" fill="#000" fill-opacity="0.17"/>
<rect x="1039.7" y="1285.9" width="33.2" height="13.6" rx="6.0" fill="#000" fill-opacity="0.22"/>
<rect x="1150.2" y="1312.0" width="33.2" height="13.6" rx="6.0" fill="#000" fill-opacity="0.14"/>
<rect x="1187.0" y="1312.0" width="33.2" height="13.6" rx="6.0" fill="#000" fill-opacity="0.12"/>
<rect x="1222.3" y="1262.9" width="33.2" height="13.6" rx="6.0" fill="#000" fill-opacity="0.17"/>
<rect x="1222.3" y="1312.0" width="33.2" height="13.6" rx="6.0" fill="#000" fill-opacity="0.14"/>
<rect x="1222.3" y="1333.2" width="33.2" height="13.6" rx="6.0" fill="#000" fill-opacity="0.12"/>
<rect x="1259.1" y="1266.0" width="33.2" height="13.6" rx="6.0" fill="#000" fill-opacity="0.07"/>
<rect x="1297.5" y="1310.2" width="33.2" height="13.6" rx="6.0" fill="#000" fill-opacity="0.17"/>
<rect x="929.2" y="1328.2" width="33.2" height="13.6" rx="6.0" fill="#000" fill-opacity="0.12"/>
</g>
<g filter="url(#bl5_5)">
<rect x="818.3" y="1186.5" width="34.0" height="19.0" rx="6.0" fill="#000" fill-opacity="0.50"/>
<rect x="855.1" y="1186.5" width="34.0" height="19.0" rx="6.0" fill="#000" fill-opacity="0.95"/>
<rect x="892.0" y="1186.5" width="34.0" height="19.0" rx="6.0" fill="#000" fill-opacity="0.70"/>
<rect x="928.8" y="1186.5" width="34.0" height="19.0" rx="6.0" fill="#000" fill-opacity="0.70"/>
<rect x="965.6" y="1186.5" width="34.0" height="19.0" rx="6.0" fill="#000" fill-opacity="0.65"/>
<rect x="1000.9" y="1186.5" width="34.0" height="19.0" rx="6.0" fill="#000" fill-opacity="0.75"/>
<rect x="1039.3" y="1186.5" width="34.0" height="19.0" rx="6.0" fill="#000" fill-opacity="0.80"/>
<rect x="1076.1" y="1186.5" width="34.0" height="19.0" rx="6.0" fill="#000" fill-opacity="0.10"/>
<rect x="1113.0" y="1186.5" width="34.0" height="19.0" rx="6.0" fill="#000" fill-opacity="0.90"/>
<rect x="1149.8" y="1186.5" width="34.0" height="19.0" rx="6.0" fill="#000" fill-opacity="0.45"/>
<rect x="1186.6" y="1186.5" width="34.0" height="19.0" rx="6.0" fill="#000" fill-opacity="0.60"/>
<rect x="1221.9" y="1186.5" width="34.0" height="19.0" rx="6.0" fill="#000" fill-opacity="0.85"/>
<rect x="1258.7" y="1186.5" width="34.0" height="19.0" rx="6.0" fill="#000" fill-opacity="0.98"/>
<rect x="1297.1" y="1186.5" width="34.0" height="19.0" rx="6.0" fill="#000" fill-opacity="0.75"/>
<rect x="817.8" y="1286.3" width="35.0" height="16.0" rx="6.0" fill="#000" fill-opacity="0.20"/>
<rect x="891.5" y="1267.8" width="35.0" height="16.0" rx="6.0" fill="#000" fill-opacity="0.40"/>
<rect x="928.3" y="1277.0" width="35.0" height="16.0" rx="6.0" fill="#000" fill-opacity="0.90"/>
<rect x="965.1" y="1263.2" width="35.0" height="16.0" rx="6.0" fill="#000" fill-opacity="0.30"/>
<rect x="1000.4" y="1269.4" width="35.0" height="16.0" rx="6.0" fill="#000" fill-opacity="0.90"/>
<rect x="1075.6" y="1260.2" width="35.0" height="16.0" rx="6.0" fill="#000" fill-opacity="0.80"/>
<rect x="1112.5" y="1278.6" width="35.0" height="16.0" rx="6.0" fill="#000" fill-opacity="0.75"/>
<rect x="1149.3" y="1349.2" width="35.0" height="16.0" rx="6.0" fill="#000" fill-opacity="0.25"/>
<rect x="1186.6" y="1258.1" width="34.0" height="17.0" rx="6.0" fill="#000" fill-opacity="0.50"/>
<rect x="1296.6" y="1258.6" width="35.0" height="16.0" rx="6.0" fill="#000" fill-opacity="0.55"/>
<rect x="1296.6" y="1287.8" width="35.0" height="16.0" rx="6.0" fill="#000" fill-opacity="0.45"/>
</g>
</g>
<rect x="804.3" y="1160.8" width="540.4" height="224.4" fill="none" stroke="#000" stroke-width="2.6"/>
<clipPath id="cp11"><rect x="803" y="1414.8" width="543" height="227.0"/></clipPath>
<rect x="803" y="1414.8" width="543" height="227.0" fill="#fbfbfb"/>
<g clip-path="url(#cp11)">
<g filter="url(#bl11_0)">
<rect x="888.1" y="1524.0" width="38.5" height="32.0" rx="6.0" fill="#000" fill-opacity="0.04"/>
<rect x="925.0" y="1535.7" width="38.5" height="32.0" rx="6.0" fill="#000" fill-opacity="0.12"/>
<rect x="961.8" y="1519.4" width="38.5" height="32.0" rx="6.0" fill="#000" fill-opacity="0.04"/>
<rect x="998.8" y="1527.1" width="38.5" height="32.0" rx="6.0" fill="#000" fill-opacity="0.10"/>
<rect x="1072.8" y="1516.4" width="38.5" height="32.0" rx="6.0" fill="#000" fill-opacity="0.09"/>
<rect x="1110.8" y="1536.3" width="38.5" height="32.0" rx="6.0" fill="#000" fill-opacity="0.08"/>
<rect x="1184.3" y="1514.8" width="38.5" height="32.0" rx="6.0" fill="#000" fill-opacity="0.07"/>
<rect x="1296.5" y="1514.8" width="38.5" height="32.0" rx="6.0" fill="#000" fill-opacity="0.07"/>
<rect x="1296.5" y="1545.5" width="38.5" height="32.0" rx="6.0" fill="#000" fill-opacity="0.06"/>
</g>
<g filter="url(#bl10_0)">
<rect x="820.0" y="1458.8" width="30.0" height="158.9" rx="6.0" fill="#000" fill-opacity="0.01"/>
<rect x="1301.0" y="1458.8" width="30.0" height="158.9" rx="6.0" fill="#000" fill-opacity="0.01"/>
<rect x="857.0" y="1458.8" width="30.0" height="158.9" rx="6.0" fill="#000" fill-opacity="0.01"/>
<rect x="1115.0" y="1458.8" width="30.0" height="158.9" rx="6.0" fill="#000" fill-opacity="0.01"/>
<rect x="892.0" y="1458.8" width="30.0" height="158.9" rx="6.0" fill="#000" fill-opacity="0.01"/>
<rect x="1152.0" y="1458.8" width="30.0" height="158.9" rx="6.0" fill="#000" fill-opacity="0.01"/>
<rect x="929.0" y="1458.8" width="30.0" height="158.9" rx="6.0" fill="#000" fill-opacity="0.01"/>
<rect x="1189.0" y="1458.8" width="30.0" height="158.9" rx="6.0" fill="#000" fill-opacity="0.01"/>
<rect x="966.0" y="1458.8" width="30.0" height="158.9" rx="6.0" fill="#000" fill-opacity="0.01"/>
<rect x="1225.0" y="1458.8" width="30.0" height="158.9" rx="6.0" fill="#000" fill-opacity="0.01"/>
<rect x="1003.0" y="1458.8" width="30.0" height="158.9" rx="6.0" fill="#000" fill-opacity="0.01"/>
<rect x="1262.0" y="1458.8" width="30.0" height="158.9" rx="6.0" fill="#000" fill-opacity="0.01"/>
<rect x="1040.0" y="1458.8" width="30.0" height="158.9" rx="6.0" fill="#000" fill-opacity="0.01"/>
<rect x="816.6" y="1445.2" width="515.9" height="30.0" rx="6.0" fill="#000" fill-opacity="0.05"/>
</g>
<g filter="url(#bl8_8)">
<rect x="820.0" y="1443.7" width="30.6" height="17.1" rx="6.0" fill="#000" fill-opacity="0.14"/>
<rect x="856.8" y="1443.7" width="30.6" height="17.1" rx="6.0" fill="#000" fill-opacity="0.22"/>
<rect x="892.1" y="1443.7" width="30.6" height="17.1" rx="6.0" fill="#000" fill-opacity="0.18"/>
<rect x="929.0" y="1443.7" width="30.6" height="17.1" rx="6.0" fill="#000" fill-opacity="0.17"/>
<rect x="965.7" y="1443.7" width="30.6" height="17.1" rx="6.0" fill="#000" fill-opacity="0.15"/>
<rect x="1002.7" y="1443.7" width="30.6" height="17.1" rx="6.0" fill="#000" fill-opacity="0.18"/>
<rect x="1039.5" y="1443.7" width="30.6" height="17.1" rx="6.0" fill="#000" fill-opacity="0.18"/>
<rect x="1076.7" y="1443.7" width="30.6" height="17.1" rx="6.0" fill="#000" fill-opacity="0.01"/>
<rect x="1114.7" y="1443.7" width="30.6" height="17.1" rx="6.0" fill="#000" fill-opacity="0.21"/>
<rect x="1151.5" y="1443.7" width="30.6" height="17.1" rx="6.0" fill="#000" fill-opacity="0.10"/>
<rect x="1188.3" y="1443.7" width="30.6" height="17.1" rx="6.0" fill="#000" fill-opacity="0.14"/>
<rect x="1225.2" y="1443.7" width="30.6" height="17.1" rx="6.0" fill="#000" fill-opacity="0.21"/>
<rect x="1262.0" y="1443.7" width="30.6" height="17.1" rx="6.0" fill="#000" fill-opacity="0.22"/>
<rect x="1300.4" y="1443.7" width="30.6" height="17.1" rx="6.0" fill="#000" fill-opacity="0.17"/>
</g>
<g filter="url(#bl6_050000000000001)">
<rect x="964.4" y="1580.8" width="33.2" height="13.6" rx="6.0" fill="#000" fill-opacity="0.09"/>
<rect x="1001.4" y="1582.2" width="33.2" height="13.6" rx="6.0" fill="#000" fill-opacity="0.12"/>
<rect x="1038.2" y="1551.7" width="33.2" height="13.6" rx="6.0" fill="#000" fill-opacity="0.12"/>
<rect x="1150.2" y="1582.4" width="33.2" height="13.6" rx="6.0" fill="#000" fill-opacity="0.09"/>
<rect x="1150.2" y="1613.1" width="33.2" height="13.6" rx="6.0" fill="#000" fill-opacity="0.17"/>
<rect x="1223.9" y="1530.2" width="33.2" height="13.6" rx="6.0" fill="#000" fill-opacity="0.12"/>
<rect x="1223.9" y="1582.2" width="33.2" height="13.6" rx="6.0" fill="#000" fill-opacity="0.12"/>
<rect x="1223.9" y="1598.2" width="33.2" height="13.6" rx="6.0" fill="#000" fill-opacity="0.09"/>
<rect x="1299.1" y="1573.2" width="33.2" height="13.6" rx="6.0" fill="#000" fill-opacity="0.14"/>
<rect x="855.5" y="1597.7" width="33.2" height="13.6" rx="6.0" fill="#000" fill-opacity="0.12"/>
<rect x="1260.7" y="1597.7" width="33.2" height="13.6" rx="6.0" fill="#000" fill-opacity="0.09"/>
</g>
<g filter="url(#bl5_5)">
<rect x="818.3" y="1450.7" width="34.0" height="19.0" rx="6.0" fill="#000" fill-opacity="0.45"/>
<rect x="855.1" y="1450.7" width="34.0" height="19.0" rx="6.0" fill="#000" fill-opacity="0.75"/>
<rect x="890.4" y="1450.7" width="34.0" height="19.0" rx="6.0" fill="#000" fill-opacity="0.60"/>
<rect x="927.3" y="1450.7" width="34.0" height="19.0" rx="6.0" fill="#000" fill-opacity="0.55"/>
<rect x="964.0" y="1450.7" width="34.0" height="19.0" rx="6.0" fill="#000" fill-opacity="0.50"/>
<rect x="1001.0" y="1450.7" width="34.0" height="19.0" rx="6.0" fill="#000" fill-opacity="0.60"/>
<rect x="1037.8" y="1450.7" width="34.0" height="19.0" rx="6.0" fill="#000" fill-opacity="0.60"/>
<rect x="1075.0" y="1450.7" width="34.0" height="19.0" rx="6.0" fill="#000" fill-opacity="0.05"/>
<rect x="1113.0" y="1450.7" width="34.0" height="19.0" rx="6.0" fill="#000" fill-opacity="0.70"/>
<rect x="1149.8" y="1450.7" width="34.0" height="19.0" rx="6.0" fill="#000" fill-opacity="0.35"/>
<rect x="1186.6" y="1450.7" width="34.0" height="19.0" rx="6.0" fill="#000" fill-opacity="0.45"/>
<rect x="1223.5" y="1450.7" width="34.0" height="19.0" rx="6.0" fill="#000" fill-opacity="0.70"/>
<rect x="1260.3" y="1450.7" width="34.0" height="19.0" rx="6.0" fill="#000" fill-opacity="0.75"/>
<rect x="1298.7" y="1450.7" width="34.0" height="19.0" rx="6.0" fill="#000" fill-opacity="0.55"/>
<rect x="889.9" y="1532.0" width="35.0" height="16.0" rx="6.0" fill="#000" fill-opacity="0.30"/>
<rect x="926.8" y="1543.7" width="35.0" height="16.0" rx="6.0" fill="#000" fill-opacity="0.80"/>
<rect x="963.5" y="1527.4" width="35.0" height="16.0" rx="6.0" fill="#000" fill-opacity="0.30"/>
<rect x="1000.5" y="1535.1" width="35.0" height="16.0" rx="6.0" fill="#000" fill-opacity="0.70"/>
<rect x="1074.5" y="1524.4" width="35.0" height="16.0" rx="6.0" fill="#000" fill-opacity="0.60"/>
<rect x="1112.5" y="1544.3" width="35.0" height="16.0" rx="6.0" fill="#000" fill-opacity="0.55"/>
<rect x="1186.1" y="1522.8" width="35.0" height="16.0" rx="6.0" fill="#000" fill-opacity="0.45"/>
<rect x="1298.2" y="1522.8" width="35.0" height="16.0" rx="6.0" fill="#000" fill-opacity="0.45"/>
<rect x="1298.2" y="1553.5" width="35.0" height="16.0" rx="6.0" fill="#000" fill-opacity="0.40"/>
</g>
</g>
<rect x="804.3" y="1416.1" width="540.4" height="224.4" fill="none" stroke="#000" stroke-width="2.6"/>
<clipPath id="cp12"><rect x="803" y="1670.5" width="543" height="227.0"/></clipPath>
<rect x="803" y="1670.5" width="543" height="227.0" fill="#fcfcfc"/>
<g clip-path="url(#cp12)">
<g filter="url(#bl11_0)">
<rect x="922.0" y="1783.7" width="38.5" height="32.0" rx="6.0" fill="#000" fill-opacity="0.11"/>
<rect x="957.2" y="1766.8" width="38.5" height="32.0" rx="6.0" fill="#000" fill-opacity="0.04"/>
<rect x="995.6" y="1774.4" width="38.5" height="32.0" rx="6.0" fill="#000" fill-opacity="0.08"/>
<rect x="1068.8" y="1768.3" width="38.5" height="32.0" rx="6.0" fill="#000" fill-opacity="0.07"/>
<rect x="1106.2" y="1786.7" width="38.5" height="32.0" rx="6.0" fill="#000" fill-opacity="0.07"/>
<rect x="1181.3" y="1766.8" width="38.5" height="32.0" rx="6.0" fill="#000" fill-opacity="0.06"/>
<rect x="1293.3" y="1762.0" width="38.5" height="32.0" rx="6.0" fill="#000" fill-opacity="0.07"/>
<rect x="1293.3" y="1792.9" width="38.5" height="32.0" rx="6.0" fill="#000" fill-opacity="0.05"/>
</g>
<g filter="url(#bl10_0)">
<rect x="1298.0" y="1714.5" width="30.0" height="158.9" rx="6.0" fill="#000" fill-opacity="0.01"/>
<rect x="820.0" y="1714.5" width="30.0" height="158.9" rx="6.0" fill="#000" fill-opacity="0.01"/>
<rect x="854.0" y="1714.5" width="30.0" height="158.9" rx="6.0" fill="#000" fill-opacity="0.01"/>
<rect x="1110.0" y="1714.5" width="30.0" height="158.9" rx="6.0" fill="#000" fill-opacity="0.01"/>
<rect x="889.0" y="1714.5" width="30.0" height="158.9" rx="6.0" fill="#000" fill-opacity="0.01"/>
<rect x="1147.0" y="1714.5" width="30.0" height="158.9" rx="6.0" fill="#000" fill-opacity="0.01"/>
<rect x="1259.0" y="1714.5" width="30.0" height="158.9" rx="6.0" fill="#000" fill-opacity="0.01"/>
<rect x="926.0" y="1714.5" width="30.0" height="158.9" rx="6.0" fill="#000" fill-opacity="0.01"/>
<rect x="961.0" y="1714.5" width="30.0" height="158.9" rx="6.0" fill="#000" fill-opacity="0.01"/>
<rect x="1186.0" y="1714.5" width="30.0" height="158.9" rx="6.0" fill="#000" fill-opacity="0.01"/>
<rect x="1221.0" y="1714.5" width="30.0" height="158.9" rx="6.0" fill="#000" fill-opacity="0.01"/>
<rect x="1000.0" y="1714.5" width="30.0" height="158.9" rx="6.0" fill="#000" fill-opacity="0.01"/>
<rect x="1035.0" y="1714.5" width="30.0" height="158.9" rx="6.0" fill="#000" fill-opacity="0.01"/>
<rect x="816.6" y="1692.6" width="515.9" height="30.0" rx="6.0" fill="#000" fill-opacity="0.05"/>
</g>
<g filter="url(#bl8_8)">
<rect x="820.0" y="1691.0" width="30.6" height="17.1" rx="6.0" fill="#000" fill-opacity="0.10"/>
<rect x="853.7" y="1691.0" width="30.6" height="17.1" rx="6.0" fill="#000" fill-opacity="0.17"/>
<rect x="889.1" y="1691.0" width="30.6" height="17.1" rx="6.0" fill="#000" fill-opacity="0.14"/>
<rect x="925.9" y="1691.0" width="30.6" height="17.1" rx="6.0" fill="#000" fill-opacity="0.14"/>
<rect x="961.2" y="1691.0" width="30.6" height="17.1" rx="6.0" fill="#000" fill-opacity="0.12"/>
<rect x="999.6" y="1691.0" width="30.6" height="17.1" rx="6.0" fill="#000" fill-opacity="0.17"/>
<rect x="1034.9" y="1691.0" width="30.6" height="17.1" rx="6.0" fill="#000" fill-opacity="0.15"/>
<rect x="1072.7" y="1691.0" width="30.6" height="17.1" rx="6.0" fill="#000" fill-opacity="0.01"/>
<rect x="1110.1" y="1691.0" width="30.6" height="17.1" rx="6.0" fill="#000" fill-opacity="0.18"/>
<rect x="1146.9" y="1691.0" width="30.6" height="17.1" rx="6.0" fill="#000" fill-opacity="0.09"/>
<rect x="1185.3" y="1691.0" width="30.6" height="17.1" rx="6.0" fill="#000" fill-opacity="0.10"/>
<rect x="1220.6" y="1691.0" width="30.6" height="17.1" rx="6.0" fill="#000" fill-opacity="0.15"/>
<rect x="1258.9" y="1691.0" width="30.6" height="17.1" rx="6.0" fill="#000" fill-opacity="0.17"/>
<rect x="1297.3" y="1691.0" width="30.6" height="17.1" rx="6.0" fill="#000" fill-opacity="0.14"/>
</g>
<g filter="url(#bl6_050000000000001)">
<rect x="887.8" y="1785.2" width="33.2" height="13.6" rx="6.0" fill="#000" fill-opacity="0.17"/>
<rect x="1033.6" y="1802.1" width="33.2" height="13.6" rx="6.0" fill="#000" fill-opacity="0.07"/>
<rect x="1145.6" y="1828.2" width="33.2" height="13.6" rx="6.0" fill="#000" fill-opacity="0.12"/>
<rect x="1145.6" y="1865.0" width="33.2" height="13.6" rx="6.0" fill="#000" fill-opacity="0.12"/>
<rect x="1219.3" y="1776.0" width="33.2" height="13.6" rx="6.0" fill="#000" fill-opacity="0.12"/>
<rect x="1219.3" y="1828.2" width="33.2" height="13.6" rx="6.0" fill="#000" fill-opacity="0.12"/>
<rect x="924.6" y="1843.2" width="33.2" height="13.6" rx="6.0" fill="#000" fill-opacity="0.07"/>
<rect x="959.9" y="1828.2" width="33.2" height="13.6" rx="6.0" fill="#000" fill-opacity="0.07"/>
</g>
<g filter="url(#bl5_5)">
<rect x="818.3" y="1698.1" width="34.0" height="19.0" rx="6.0" fill="#000" fill-opacity="0.35"/>
<rect x="852.0" y="1698.1" width="34.0" height="19.0" rx="6.0" fill="#000" fill-opacity="0.55"/>
<rect x="887.4" y="1698.1" width="34.0" height="19.0" rx="6.0" fill="#000" fill-opacity="0.45"/>
<rect x="924.2" y="1698.1" width="34.0" height="19.0" rx="6.0" fill="#000" fill-opacity="0.45"/>
<rect x="959.5" y="1698.1" width="34.0" height="19.0" rx="6.0" fill="#000" fill-opacity="0.40"/>
<rect x="997.9" y="1698.1" width="34.0" height="19.0" rx="6.0" fill="#000" fill-opacity="0.55"/>
<rect x="1033.2" y="1698.1" width="34.0" height="19.0" rx="6.0" fill="#000" fill-opacity="0.50"/>
<rect x="1071.0" y="1698.1" width="34.0" height="19.0" rx="6.0" fill="#000" fill-opacity="0.02"/>
<rect x="1108.4" y="1698.1" width="34.0" height="19.0" rx="6.0" fill="#000" fill-opacity="0.60"/>
<rect x="1145.2" y="1698.1" width="34.0" height="19.0" rx="6.0" fill="#000" fill-opacity="0.30"/>
<rect x="1183.6" y="1698.1" width="34.0" height="19.0" rx="6.0" fill="#000" fill-opacity="0.35"/>
<rect x="1218.9" y="1698.1" width="34.0" height="19.0" rx="6.0" fill="#000" fill-opacity="0.50"/>
<rect x="1257.2" y="1698.1" width="34.0" height="19.0" rx="6.0" fill="#000" fill-opacity="0.55"/>
<rect x="1295.6" y="1698.1" width="34.0" height="19.0" rx="6.0" fill="#000" fill-opacity="0.45"/>
<rect x="923.7" y="1791.7" width="35.0" height="16.0" rx="6.0" fill="#000" fill-opacity="0.75"/>
<rect x="959.0" y="1774.8" width="35.0" height="16.0" rx="6.0" fill="#000" fill-opacity="0.30"/>
<rect x="997.4" y="1782.4" width="35.0" height="16.0" rx="6.0" fill="#000" fill-opacity="0.55"/>
<rect x="1070.5" y="1776.3" width="35.0" height="16.0" rx="6.0" fill="#000" fill-opacity="0.45"/>
<rect x="1107.9" y="1794.7" width="35.0" height="16.0" rx="6.0" fill="#000" fill-opacity="0.45"/>
<rect x="1183.1" y="1774.8" width="35.0" height="16.0" rx="6.0" fill="#000" fill-opacity="0.40"/>
<rect x="1295.1" y="1770.0" width="35.0" height="16.0" rx="6.0" fill="#000" fill-opacity="0.45"/>
<rect x="1295.1" y="1800.9" width="35.0" height="16.0" rx="6.0" fill="#000" fill-opacity="0.35"/>
</g>
</g>
<rect x="804.3" y="1671.8" width="540.4" height="224.4" fill="none" stroke="#000" stroke-width="2.6"/>
<clipPath id="cp13"><rect x="1403.6" y="1159.5" width="71.90000000000009" height="227.0"/></clipPath>
<rect x="1403.6" y="1159.5" width="71.90000000000009" height="227.0" fill="#fbfbfb"/>
<g clip-path="url(#cp13)">
<g filter="url(#bl11_0)">
<rect x="1405.0" y="1262.9" width="38.5" height="32.0" rx="6.0" fill="#000" fill-opacity="0.06"/>
</g>
<g filter="url(#bl10_0)">
<rect x="1409.0" y="1203.5" width="30.0" height="158.9" rx="6.0" fill="#000" fill-opacity="0.01"/>
<rect x="1443.0" y="1203.5" width="30.0" height="158.9" rx="6.0" fill="#000" fill-opacity="0.01"/>
<rect x="1405.4" y="1169.5" width="68.3" height="30.0" rx="6.0" fill="#000" fill-opacity="0.05"/>
<rect x="1435.9" y="1168.3" width="44.0" height="34.0" rx="6.0" fill="#000" fill-opacity="0.12"/>
</g>
<g filter="url(#bl8_8)">
<rect x="1408.9" y="1167.2" width="30.6" height="17.1" rx="6.0" fill="#000" fill-opacity="0.17"/>
<rect x="1442.6" y="1168.8" width="30.6" height="17.1" rx="6.0" fill="#000" fill-opacity="0.28"/>
</g>
<g filter="url(#bl6_050000000000001)">
<rect x="1407.6" y="1312.0" width="33.2" height="13.6" rx="6.0" fill="#000" fill-opacity="0.09"/>
</g>
<g filter="url(#bl5_5)">
<rect x="1407.2" y="1174.3" width="34.0" height="19.0" rx="6.0" fill="#000" fill-opacity="0.55"/>
<rect x="1440.9" y="1175.8" width="34.0" height="19.0" rx="6.0" fill="#000" fill-opacity="0.95"/>
<rect x="1406.7" y="1270.9" width="35.0" height="16.0" rx="6.0" fill="#000" fill-opacity="0.40"/>
</g>
</g>
<rect x="1404.8999999999999" y="1160.8" width="69.3000000000001" height="224.4" fill="none" stroke="#000" stroke-width="2.6"/>
<clipPath id="cp14"><rect x="1481.6" y="1159.5" width="448.70000000000005" height="227.0"/></clipPath>
<rect x="1481.6" y="1159.5" width="448.70000000000005" height="227.0" fill="#efefef"/>
<g clip-path="url(#cp14)">
<g filter="url(#bl11_0)">
<rect x="1480.2" y="1241.4" width="38.5" height="32.0" rx="6.0" fill="#000" fill-opacity="0.07"/>
<rect x="1517.0" y="1252.2" width="38.5" height="32.0" rx="6.0" fill="#000" fill-opacity="0.14"/>
<rect x="1553.8" y="1236.8" width="38.5" height="32.0" rx="6.0" fill="#000" fill-opacity="0.06"/>
<rect x="1590.7" y="1246.0" width="38.5" height="32.0" rx="6.0" fill="#000" fill-opacity="0.14"/>
<rect x="1627.5" y="1262.9" width="38.5" height="32.0" rx="6.0" fill="#000" fill-opacity="0.04"/>
<rect x="1664.2" y="1241.4" width="38.5" height="32.0" rx="6.0" fill="#000" fill-opacity="0.14"/>
<rect x="1702.7" y="1238.4" width="38.5" height="32.0" rx="6.0" fill="#000" fill-opacity="0.07"/>
<rect x="1702.7" y="1264.4" width="38.5" height="32.0" rx="6.0" fill="#000" fill-opacity="0.06"/>
<rect x="1738.0" y="1259.8" width="38.5" height="32.0" rx="6.0" fill="#000" fill-opacity="0.10"/>
<rect x="1775.7" y="1317.6" width="39.6" height="30.0" rx="6.0" fill="#000" fill-opacity="0.05"/>
<rect x="1813.7" y="1243.0" width="37.4" height="32.0" rx="6.0" fill="#000" fill-opacity="0.10"/>
<rect x="1850.0" y="1241.4" width="38.5" height="32.0" rx="6.0" fill="#000" fill-opacity="0.03"/>
</g>
<g filter="url(#bl10_0)">
<rect x="1521.0" y="1203.5" width="30.0" height="158.9" rx="6.0" fill="#000" fill-opacity="0.01"/>
<rect x="1781.0" y="1203.5" width="30.0" height="158.9" rx="6.0" fill="#000" fill-opacity="0.01"/>
<rect x="1558.0" y="1203.5" width="30.0" height="158.9" rx="6.0" fill="#000" fill-opacity="0.01"/>
<rect x="1817.0" y="1203.5" width="30.0" height="158.9" rx="6.0" fill="#000" fill-opacity="0.01"/>
<rect x="1595.0" y="1203.5" width="30.0" height="158.9" rx="6.0" fill="#000" fill-opacity="0.01"/>
<rect x="1854.0" y="1203.5" width="30.0" height="158.9" rx="6.0" fill="#000" fill-opacity="0.01"/>
<rect x="1632.0" y="1203.5" width="30.0" height="158.9" rx="6.0" fill="#000" fill-opacity="0.01"/>
<rect x="1893.0" y="1203.5" width="30.0" height="158.9" rx="6.0" fill="#000" fill-opacity="0.01"/>
<rect x="1707.0" y="1203.5" width="30.0" height="158.9" rx="6.0" fill="#000" fill-opacity="0.01"/>
<rect x="1484.0" y="1203.5" width="30.0" height="158.9" rx="6.0" fill="#000" fill-opacity="0.01"/>
<rect x="1742.0" y="1203.5" width="30.0" height="158.9" rx="6.0" fill="#000" fill-opacity="0.01"/>
<rect x="1492.8" y="1175.8" width="426.3" height="30.0" rx="6.0" fill="#000" fill-opacity="0.05"/>
<rect x="1699.9" y="1175.0" width="44.0" height="34.0" rx="6.0" fill="#000" fill-opacity="0.09"/>
<rect x="1735.2" y="1175.5" width="44.0" height="34.0" rx="6.0" fill="#000" fill-opacity="0.09"/>
<rect x="1847.2" y="1176.5" width="44.0" height="34.0" rx="6.0" fill="#000" fill-opacity="0.11"/>
<rect x="1885.6" y="1175.0" width="44.0" height="34.0" rx="6.0" fill="#000" fill-opacity="0.14"/>
<rect x="1514.2" y="1251.2" width="44.0" height="34.0" rx="6.0" fill="#000" fill-opacity="0.10"/>
<rect x="1587.9" y="1245.0" width="44.0" height="34.0" rx="6.0" fill="#000" fill-opacity="0.12"/>
<rect x="1661.5" y="1240.4" width="44.0" height="34.0" rx="6.0" fill="#000" fill-opacity="0.10"/>
</g>
<g filter="url(#bl8_8)">
<rect x="1483.2" y="1172.8" width="32.4" height="13.5" rx="6.0" fill="#000" fill-opacity="0.19"/>
<rect x="1520.0" y="1174.2" width="32.4" height="13.5" rx="6.0" fill="#000" fill-opacity="0.20"/>
<rect x="1556.8" y="1174.2" width="32.4" height="13.5" rx="6.0" fill="#000" fill-opacity="0.22"/>
<rect x="1593.7" y="1174.8" width="32.4" height="13.5" rx="6.0" fill="#000" fill-opacity="0.20"/>
<rect x="1630.5" y="1174.2" width="32.4" height="13.5" rx="6.0" fill="#000" fill-opacity="0.23"/>
<rect x="1667.3" y="1173.2" width="32.4" height="13.5" rx="6.0" fill="#000" fill-opacity="0.03"/>
<rect x="1705.7" y="1177.2" width="32.4" height="13.5" rx="6.0" fill="#000" fill-opacity="0.26"/>
<rect x="1741.0" y="1177.8" width="32.4" height="13.5" rx="6.0" fill="#000" fill-opacity="0.26"/>
<rect x="1779.3" y="1178.8" width="32.4" height="13.5" rx="6.0" fill="#000" fill-opacity="0.19"/>
<rect x="1816.2" y="1178.8" width="32.4" height="13.5" rx="6.0" fill="#000" fill-opacity="0.20"/>
<rect x="1853.0" y="1178.8" width="32.4" height="13.5" rx="6.0" fill="#000" fill-opacity="0.28"/>
<rect x="1891.4" y="1177.2" width="32.4" height="13.5" rx="6.0" fill="#000" fill-opacity="0.29"/>
</g>
<g filter="url(#bl6_050000000000001)">
<rect x="1556.4" y="1302.8" width="33.2" height="13.6" rx="6.0" fill="#000" fill-opacity="0.14"/>
<rect x="1593.3" y="1293.6" width="33.2" height="13.6" rx="6.0" fill="#000" fill-opacity="0.17"/>
<rect x="1705.3" y="1302.8" width="33.2" height="13.6" rx="6.0" fill="#000" fill-opacity="0.14"/>
<rect x="1778.9" y="1293.6" width="33.2" height="13.6" rx="6.0" fill="#000" fill-opacity="0.14"/>
<rect x="1815.8" y="1308.9" width="33.2" height="13.6" rx="6.0" fill="#000" fill-opacity="0.14"/>
<rect x="1852.6" y="1293.2" width="33.2" height="13.6" rx="6.0" fill="#000" fill-opacity="0.12"/>
<rect x="1852.6" y="1308.2" width="33.2" height="13.6" rx="6.0" fill="#000" fill-opacity="0.12"/>
<rect x="1519.6" y="1301.2" width="33.2" height="13.6" rx="6.0" fill="#000" fill-opacity="0.14"/>
<rect x="1891.0" y="1251.2" width="33.2" height="13.6" rx="6.0" fill="#000" fill-opacity="0.09"/>
</g>
<g filter="url(#bl5_5)">
<rect x="1481.4" y="1180.0" width="36.0" height="15.0" rx="6.0" fill="#000" fill-opacity="0.62"/>
<rect x="1518.2" y="1181.5" width="36.0" height="15.0" rx="6.0" fill="#000" fill-opacity="0.68"/>
<rect x="1555.0" y="1181.5" width="36.0" height="15.0" rx="6.0" fill="#000" fill-opacity="0.72"/>
<rect x="1591.9" y="1182.0" width="36.0" height="15.0" rx="6.0" fill="#000" fill-opacity="0.68"/>
<rect x="1628.7" y="1181.5" width="36.0" height="15.0" rx="6.0" fill="#000" fill-opacity="0.78"/>
<rect x="1665.5" y="1180.5" width="36.0" height="15.0" rx="6.0" fill="#000" fill-opacity="0.10"/>
<rect x="1703.9" y="1184.5" width="36.0" height="15.0" rx="6.0" fill="#000" fill-opacity="0.88"/>
<rect x="1739.2" y="1185.0" width="36.0" height="15.0" rx="6.0" fill="#000" fill-opacity="0.88"/>
<rect x="1777.5" y="1186.0" width="36.0" height="15.0" rx="6.0" fill="#000" fill-opacity="0.62"/>
<rect x="1814.4" y="1186.0" width="36.0" height="15.0" rx="6.0" fill="#000" fill-opacity="0.68"/>
<rect x="1851.2" y="1186.0" width="36.0" height="15.0" rx="6.0" fill="#000" fill-opacity="0.92"/>
<rect x="1889.6" y="1184.5" width="36.0" height="15.0" rx="6.0" fill="#000" fill-opacity="0.97"/>
<rect x="1481.9" y="1249.4" width="35.0" height="16.0" rx="6.0" fill="#000" fill-opacity="0.45"/>
<rect x="1518.7" y="1260.2" width="35.0" height="16.0" rx="6.0" fill="#000" fill-opacity="0.90"/>
<rect x="1555.5" y="1244.8" width="35.0" height="16.0" rx="6.0" fill="#000" fill-opacity="0.40"/>
<rect x="1592.4" y="1254.0" width="35.0" height="16.0" rx="6.0" fill="#000" fill-opacity="0.95"/>
<rect x="1629.2" y="1270.9" width="35.0" height="16.0" rx="6.0" fill="#000" fill-opacity="0.30"/>
<rect x="1666.0" y="1249.4" width="35.0" height="16.0" rx="6.0" fill="#000" fill-opacity="0.90"/>
<rect x="1704.4" y="1246.4" width="35.0" height="16.0" rx="6.0" fill="#000" fill-opacity="0.45"/>
<rect x="1704.4" y="1272.4" width="35.0" height="16.0" rx="6.0" fill="#000" fill-opacity="0.40"/>
<rect x="1739.7" y="1267.8" width="35.0" height="16.0" rx="6.0" fill="#000" fill-opacity="0.70"/>
<rect x="1777.5" y="1325.1" width="36.0" height="15.0" rx="6.0" fill="#000" fill-opacity="0.35"/>
<rect x="1815.4" y="1251.0" width="34.0" height="16.0" rx="6.0" fill="#000" fill-opacity="0.70"/>
<rect x="1851.7" y="1249.4" width="35.0" height="16.0" rx="6.0" fill="#000" fill-opacity="0.20"/>
</g>
</g>
<rect x="1482.8999999999999" y="1160.8" width="446.1" height="224.4" fill="none" stroke="#000" stroke-width="2.6"/>
<clipPath id="cp15"><rect x="1403.6" y="1414.8" width="71.90000000000009" height="227.0"/></clipPath>
<rect x="1403.6" y="1414.8" width="71.90000000000009" height="227.0" fill="#fcfcfc"/>
<g clip-path="url(#cp15)">
<g filter="url(#bl11_0)">
<rect x="1406.5" y="1527.1" width="38.5" height="32.0" rx="6.0" fill="#000" fill-opacity="0.04"/>
</g>
<g filter="url(#bl10_0)">
<rect x="1411.0" y="1458.8" width="30.0" height="158.9" rx="6.0" fill="#000" fill-opacity="0.01"/>
<rect x="1445.0" y="1458.8" width="30.0" height="158.9" rx="6.0" fill="#000" fill-opacity="0.01"/>
<rect x="1405.4" y="1432.2" width="68.3" height="30.0" rx="6.0" fill="#000" fill-opacity="0.05"/>
</g>
<g filter="url(#bl8_8)">
<rect x="1410.4" y="1433.0" width="30.6" height="17.1" rx="6.0" fill="#000" fill-opacity="0.18"/>
<rect x="1444.2" y="1428.4" width="30.6" height="17.1" rx="6.0" fill="#000" fill-opacity="0.22"/>
</g>
<g filter="url(#bl6_050000000000001)">
<rect x="1409.1" y="1578.2" width="33.2" height="13.6" rx="6.0" fill="#000" fill-opacity="0.07"/>
</g>
<g filter="url(#bl5_5)">
<rect x="1408.7" y="1440.0" width="34.0" height="19.0" rx="6.0" fill="#000" fill-opacity="0.60"/>
<rect x="1442.5" y="1435.4" width="34.0" height="19.0" rx="6.0" fill="#000" fill-opacity="0.75"/>
<rect x="1408.2" y="1535.1" width="35.0" height="16.0" rx="6.0" fill="#000" fill-opacity="0.25"/>
</g>
</g>
<rect x="1404.8999999999999" y="1416.1" width="69.3000000000001" height="224.4" fill="none" stroke="#000" stroke-width="2.6"/>
<clipPath id="cp16"><rect x="1481.6" y="1414.8" width="448.70000000000005" height="227.0"/></clipPath>
<rect x="1481.6" y="1414.8" width="448.70000000000005" height="227.0" fill="#fcfcfc"/>
<g clip-path="url(#cp16)">
<g filter="url(#bl11_0)">
<rect x="1481.7" y="1508.7" width="38.5" height="32.0" rx="6.0" fill="#000" fill-opacity="0.06"/>
<rect x="1518.5" y="1516.4" width="38.5" height="32.0" rx="6.0" fill="#000" fill-opacity="0.11"/>
<rect x="1555.3" y="1498.0" width="38.5" height="32.0" rx="6.0" fill="#000" fill-opacity="0.05"/>
<rect x="1592.2" y="1504.1" width="38.5" height="32.0" rx="6.0" fill="#000" fill-opacity="0.09"/>
<rect x="1667.8" y="1499.5" width="38.5" height="32.0" rx="6.0" fill="#000" fill-opacity="0.10"/>
<rect x="1705.8" y="1496.4" width="38.5" height="32.0" rx="6.0" fill="#000" fill-opacity="0.05"/>
<rect x="1705.8" y="1525.6" width="38.5" height="32.0" rx="6.0" fill="#000" fill-opacity="0.05"/>
<rect x="1741.0" y="1519.4" width="38.5" height="32.0" rx="6.0" fill="#000" fill-opacity="0.08"/>
<rect x="1816.2" y="1499.5" width="38.5" height="32.0" rx="6.0" fill="#000" fill-opacity="0.08"/>
</g>
<g filter="url(#bl10_0)">
<rect x="1745.0" y="1458.8" width="30.0" height="158.9" rx="6.0" fill="#000" fill-opacity="0.01"/>
<rect x="1523.0" y="1458.8" width="30.0" height="158.9" rx="6.0" fill="#000" fill-opacity="0.01"/>
<rect x="1782.0" y="1458.8" width="30.0" height="158.9" rx="6.0" fill="#000" fill-opacity="0.01"/>
<rect x="1560.0" y="1458.8" width="30.0" height="158.9" rx="6.0" fill="#000" fill-opacity="0.01"/>
<rect x="1710.0" y="1458.8" width="30.0" height="158.9" rx="6.0" fill="#000" fill-opacity="0.01"/>
<rect x="1596.0" y="1458.8" width="30.0" height="158.9" rx="6.0" fill="#000" fill-opacity="0.01"/>
<rect x="1821.0" y="1458.8" width="30.0" height="158.9" rx="6.0" fill="#000" fill-opacity="0.01"/>
<rect x="1857.0" y="1458.8" width="30.0" height="158.9" rx="6.0" fill="#000" fill-opacity="0.01"/>
<rect x="1635.0" y="1458.8" width="30.0" height="158.9" rx="6.0" fill="#000" fill-opacity="0.01"/>
<rect x="1896.0" y="1458.8" width="30.0" height="158.9" rx="6.0" fill="#000" fill-opacity="0.01"/>
<rect x="1486.0" y="1458.8" width="30.0" height="158.9" rx="6.0" fill="#000" fill-opacity="0.01"/>
<rect x="1492.8" y="1433.1" width="426.3" height="30.0" rx="6.0" fill="#000" fill-opacity="0.05"/>
</g>
<g filter="url(#bl8_8)">
<rect x="1485.6" y="1431.5" width="30.6" height="17.1" rx="6.0" fill="#000" fill-opacity="0.18"/>
<rect x="1522.4" y="1431.5" width="30.6" height="17.1" rx="6.0" fill="#000" fill-opacity="0.12"/>
<rect x="1559.3" y="1431.5" width="30.6" height="17.1" rx="6.0" fill="#000" fill-opacity="0.15"/>
<rect x="1596.1" y="1431.5" width="30.6" height="17.1" rx="6.0" fill="#000" fill-opacity="0.12"/>
<rect x="1634.5" y="1431.5" width="30.6" height="17.1" rx="6.0" fill="#000" fill-opacity="0.18"/>
<rect x="1671.7" y="1431.5" width="30.6" height="17.1" rx="6.0" fill="#000" fill-opacity="0.01"/>
<rect x="1709.7" y="1433.0" width="30.6" height="17.1" rx="6.0" fill="#000" fill-opacity="0.18"/>
<rect x="1745.0" y="1432.5" width="30.6" height="17.1" rx="6.0" fill="#000" fill-opacity="0.21"/>
<rect x="1781.8" y="1432.5" width="30.6" height="17.1" rx="6.0" fill="#000" fill-opacity="0.12"/>
<rect x="1820.2" y="1432.5" width="30.6" height="17.1" rx="6.0" fill="#000" fill-opacity="0.15"/>
<rect x="1857.0" y="1431.5" width="30.6" height="17.1" rx="6.0" fill="#000" fill-opacity="0.20"/>
<rect x="1895.4" y="1428.4" width="30.6" height="17.1" rx="6.0" fill="#000" fill-opacity="0.21"/>
</g>
<g filter="url(#bl6_050000000000001)">
<rect x="1633.2" y="1531.7" width="33.2" height="13.6" rx="6.0" fill="#000" fill-opacity="0.22"/>
<rect x="1708.4" y="1553.2" width="33.2" height="13.6" rx="6.0" fill="#000" fill-opacity="0.12"/>
<rect x="1780.5" y="1587.0" width="33.2" height="13.6" rx="6.0" fill="#000" fill-opacity="0.22"/>
<rect x="1780.5" y="1559.2" width="33.2" height="13.6" rx="6.0" fill="#000" fill-opacity="0.07"/>
<rect x="1818.9" y="1555.2" width="33.2" height="13.6" rx="6.0" fill="#000" fill-opacity="0.07"/>
<rect x="1855.7" y="1505.6" width="33.2" height="13.6" rx="6.0" fill="#000" fill-opacity="0.14"/>
<rect x="1855.7" y="1555.2" width="33.2" height="13.6" rx="6.0" fill="#000" fill-opacity="0.07"/>
<rect x="1894.1" y="1508.2" width="33.2" height="13.6" rx="6.0" fill="#000" fill-opacity="0.06"/>
<rect x="1521.1" y="1570.1" width="33.2" height="13.6" rx="6.0" fill="#000" fill-opacity="0.09"/>
<rect x="1594.8" y="1559.2" width="33.2" height="13.6" rx="6.0" fill="#000" fill-opacity="0.12"/>
</g>
<g filter="url(#bl5_5)">
<rect x="1483.9" y="1438.5" width="34.0" height="19.0" rx="6.0" fill="#000" fill-opacity="0.60"/>
<rect x="1520.7" y="1438.5" width="34.0" height="19.0" rx="6.0" fill="#000" fill-opacity="0.40"/>
<rect x="1557.6" y="1438.5" width="34.0" height="19.0" rx="6.0" fill="#000" fill-opacity="0.50"/>
<rect x="1594.4" y="1438.5" width="34.0" height="19.0" rx="6.0" fill="#000" fill-opacity="0.40"/>
<rect x="1632.8" y="1438.5" width="34.0" height="19.0" rx="6.0" fill="#000" fill-opacity="0.60"/>
<rect x="1670.0" y="1438.5" width="34.0" height="19.0" rx="6.0" fill="#000" fill-opacity="0.05"/>
<rect x="1708.0" y="1440.0" width="34.0" height="19.0" rx="6.0" fill="#000" fill-opacity="0.60"/>
<rect x="1743.3" y="1439.5" width="34.0" height="19.0" rx="6.0" fill="#000" fill-opacity="0.70"/>
<rect x="1780.1" y="1439.5" width="34.0" height="19.0" rx="6.0" fill="#000" fill-opacity="0.40"/>
<rect x="1818.5" y="1439.5" width="34.0" height="19.0" rx="6.0" fill="#000" fill-opacity="0.50"/>
<rect x="1855.3" y="1438.5" width="34.0" height="19.0" rx="6.0" fill="#000" fill-opacity="0.65"/>
<rect x="1893.7" y="1435.4" width="34.0" height="19.0" rx="6.0" fill="#000" fill-opacity="0.70"/>
<rect x="1483.4" y="1516.7" width="35.0" height="16.0" rx="6.0" fill="#000" fill-opacity="0.40"/>
<rect x="1520.2" y="1524.4" width="35.0" height="16.0" rx="6.0" fill="#000" fill-opacity="0.75"/>
<rect x="1557.1" y="1506.0" width="35.0" height="16.0" rx="6.0" fill="#000" fill-opacity="0.35"/>
<rect x="1593.9" y="1512.1" width="35.0" height="16.0" rx="6.0" fill="#000" fill-opacity="0.60"/>
<rect x="1669.5" y="1507.5" width="35.0" height="16.0" rx="6.0" fill="#000" fill-opacity="0.70"/>
<rect x="1707.5" y="1504.4" width="35.0" height="16.0" rx="6.0" fill="#000" fill-opacity="0.35"/>
<rect x="1707.5" y="1533.6" width="35.0" height="16.0" rx="6.0" fill="#000" fill-opacity="0.35"/>
<rect x="1742.8" y="1527.4" width="35.0" height="16.0" rx="6.0" fill="#000" fill-opacity="0.55"/>
<rect x="1818.0" y="1507.5" width="35.0" height="16.0" rx="6.0" fill="#000" fill-opacity="0.55"/>
</g>
</g>
<rect x="1482.8999999999999" y="1416.1" width="446.1" height="224.4" fill="none" stroke="#000" stroke-width="2.6"/>
<clipPath id="cp17"><rect x="1403.6" y="1670.5" width="71.90000000000009" height="227.0"/></clipPath>
<rect x="1403.6" y="1670.5" width="71.90000000000009" height="227.0" fill="#f1f1f1"/>
<g clip-path="url(#cp17)">
<g filter="url(#bl10_0)">
<rect x="1409.0" y="1714.5" width="30.0" height="158.9" rx="6.0" fill="#000" fill-opacity="0.01"/>
<rect x="1443.0" y="1714.5" width="30.0" height="158.9" rx="6.0" fill="#000" fill-opacity="0.01"/>
<rect x="1405.4" y="1679.5" width="68.3" height="30.0" rx="6.0" fill="#000" fill-opacity="0.05"/>
</g>
<g filter="url(#bl8_8)">
<rect x="1408.9" y="1677.2" width="30.6" height="17.1" rx="6.0" fill="#000" fill-opacity="0.07"/>
<rect x="1442.6" y="1678.8" width="30.6" height="17.1" rx="6.0" fill="#000" fill-opacity="0.20"/>
</g>
<g filter="url(#bl6_050000000000001)">
<rect x="1407.6" y="1777.5" width="33.2" height="13.6" rx="6.0" fill="#000" fill-opacity="0.07"/>
<rect x="1467.2" y="1764.8" width="9.5" height="8.5" rx="4.2" fill="#000" fill-opacity="0.22"/>
</g>
<g filter="url(#bl5_5)">
<rect x="1407.2" y="1684.3" width="34.0" height="19.0" rx="6.0" fill="#000" fill-opacity="0.25"/>
<rect x="1440.9" y="1685.8" width="34.0" height="19.0" rx="6.0" fill="#000" fill-opacity="0.65"/>
</g>
</g>
<rect x="1404.8999999999999" y="1671.8" width="69.3000000000001" height="224.4" fill="none" stroke="#000" stroke-width="2.6"/>
<clipPath id="cp18"><rect x="1481.6" y="1670.5" width="448.70000000000005" height="227.0"/></clipPath>
<rect x="1481.6" y="1670.5" width="448.70000000000005" height="227.0" fill="#fdfdfd"/>
<g clip-path="url(#cp18)">
<g filter="url(#bl11_0)">
<rect x="1520.0" y="1769.8" width="38.5" height="32.0" rx="6.0" fill="#000" fill-opacity="0.09"/>
<rect x="1556.8" y="1751.4" width="38.5" height="32.0" rx="6.0" fill="#000" fill-opacity="0.04"/>
<rect x="1592.2" y="1759.1" width="38.5" height="32.0" rx="6.0" fill="#000" fill-opacity="0.07"/>
<rect x="1664.8" y="1753.0" width="38.5" height="32.0" rx="6.0" fill="#000" fill-opacity="0.07"/>
<rect x="1701.2" y="1748.4" width="38.5" height="32.0" rx="6.0" fill="#000" fill-opacity="0.06"/>
<rect x="1701.2" y="1782.1" width="38.5" height="32.0" rx="6.0" fill="#000" fill-opacity="0.05"/>
<rect x="1738.0" y="1772.9" width="38.5" height="32.0" rx="6.0" fill="#000" fill-opacity="0.07"/>
<rect x="1811.7" y="1749.9" width="38.5" height="32.0" rx="6.0" fill="#000" fill-opacity="0.07"/>
</g>
<g filter="url(#bl10_0)">
<rect x="1779.0" y="1714.5" width="30.0" height="158.9" rx="6.0" fill="#000" fill-opacity="0.01"/>
<rect x="1524.0" y="1714.5" width="30.0" height="158.9" rx="6.0" fill="#000" fill-opacity="0.01"/>
<rect x="1816.0" y="1714.5" width="30.0" height="158.9" rx="6.0" fill="#000" fill-opacity="0.01"/>
<rect x="1561.0" y="1714.5" width="30.0" height="158.9" rx="6.0" fill="#000" fill-opacity="0.01"/>
<rect x="1742.0" y="1714.5" width="30.0" height="158.9" rx="6.0" fill="#000" fill-opacity="0.01"/>
<rect x="1596.0" y="1714.5" width="30.0" height="158.9" rx="6.0" fill="#000" fill-opacity="0.01"/>
<rect x="1853.0" y="1714.5" width="30.0" height="158.9" rx="6.0" fill="#000" fill-opacity="0.01"/>
<rect x="1633.0" y="1714.5" width="30.0" height="158.9" rx="6.0" fill="#000" fill-opacity="0.01"/>
<rect x="1891.0" y="1714.5" width="30.0" height="158.9" rx="6.0" fill="#000" fill-opacity="0.01"/>
<rect x="1705.0" y="1714.5" width="30.0" height="158.9" rx="6.0" fill="#000" fill-opacity="0.01"/>
<rect x="1486.0" y="1714.5" width="30.0" height="158.9" rx="6.0" fill="#000" fill-opacity="0.01"/>
<rect x="1492.8" y="1683.5" width="426.3" height="30.0" rx="6.0" fill="#000" fill-opacity="0.05"/>
</g>
<g filter="url(#bl8_8)">
<rect x="1485.6" y="1681.9" width="30.6" height="17.1" rx="6.0" fill="#000" fill-opacity="0.14"/>
<rect x="1524.0" y="1681.9" width="30.6" height="17.1" rx="6.0" fill="#000" fill-opacity="0.12"/>
<rect x="1560.8" y="1681.9" width="30.6" height="17.1" rx="6.0" fill="#000" fill-opacity="0.10"/>
<rect x="1596.1" y="1681.9" width="30.6" height="17.1" rx="6.0" fill="#000" fill-opacity="0.14"/>
<rect x="1632.9" y="1681.9" width="30.6" height="17.1" rx="6.0" fill="#000" fill-opacity="0.14"/>
<rect x="1668.7" y="1681.5" width="30.6" height="17.1" rx="6.0" fill="#000" fill-opacity="0.01"/>
<rect x="1705.1" y="1683.5" width="30.6" height="17.1" rx="6.0" fill="#000" fill-opacity="0.15"/>
<rect x="1741.9" y="1683.5" width="30.6" height="17.1" rx="6.0" fill="#000" fill-opacity="0.17"/>
<rect x="1778.7" y="1681.9" width="30.6" height="17.1" rx="6.0" fill="#000" fill-opacity="0.07"/>
<rect x="1815.6" y="1681.9" width="30.6" height="17.1" rx="6.0" fill="#000" fill-opacity="0.10"/>
<rect x="1852.4" y="1681.9" width="30.6" height="17.1" rx="6.0" fill="#000" fill-opacity="0.14"/>
<rect x="1890.7" y="1680.2" width="30.6" height="17.1" rx="6.0" fill="#000" fill-opacity="0.15"/>
</g>
<g filter="url(#bl6_050000000000001)">
<rect x="1484.3" y="1766.8" width="33.2" height="13.6" rx="6.0" fill="#000" fill-opacity="0.22"/>
<rect x="1631.6" y="1786.7" width="33.2" height="13.6" rx="6.0" fill="#000" fill-opacity="0.12"/>
<rect x="1777.4" y="1842.0" width="33.2" height="13.6" rx="6.0" fill="#000" fill-opacity="0.09"/>
<rect x="1851.1" y="1757.6" width="33.2" height="13.6" rx="6.0" fill="#000" fill-opacity="0.17"/>
</g>
<g filter="url(#bl5_5)">
<rect x="1483.9" y="1688.9" width="34.0" height="19.0" rx="6.0" fill="#000" fill-opacity="0.45"/>
<rect x="1522.3" y="1688.9" width="34.0" height="19.0" rx="6.0" fill="#000" fill-opacity="0.40"/>
<rect x="1559.1" y="1688.9" width="34.0" height="19.0" rx="6.0" fill="#000" fill-opacity="0.35"/>
<rect x="1594.4" y="1688.9" width="34.0" height="19.0" rx="6.0" fill="#000" fill-opacity="0.45"/>
<rect x="1631.2" y="1688.9" width="34.0" height="19.0" rx="6.0" fill="#000" fill-opacity="0.45"/>
<rect x="1667.0" y="1688.5" width="34.0" height="19.0" rx="6.0" fill="#000" fill-opacity="0.03"/>
<rect x="1703.4" y="1690.5" width="34.0" height="19.0" rx="6.0" fill="#000" fill-opacity="0.50"/>
<rect x="1740.2" y="1690.5" width="34.0" height="19.0" rx="6.0" fill="#000" fill-opacity="0.55"/>
<rect x="1777.0" y="1688.9" width="34.0" height="19.0" rx="6.0" fill="#000" fill-opacity="0.25"/>
<rect x="1813.9" y="1688.9" width="34.0" height="19.0" rx="6.0" fill="#000" fill-opacity="0.35"/>
<rect x="1850.7" y="1688.9" width="34.0" height="19.0" rx="6.0" fill="#000" fill-opacity="0.45"/>
<rect x="1889.0" y="1687.3" width="34.0" height="19.0" rx="6.0" fill="#000" fill-opacity="0.50"/>
<rect x="1521.8" y="1777.8" width="35.0" height="16.0" rx="6.0" fill="#000" fill-opacity="0.60"/>
<rect x="1558.6" y="1759.4" width="35.0" height="16.0" rx="6.0" fill="#000" fill-opacity="0.30"/>
<rect x="1593.9" y="1767.1" width="35.0" height="16.0" rx="6.0" fill="#000" fill-opacity="0.50"/>
<rect x="1666.5" y="1761.0" width="35.0" height="16.0" rx="6.0" fill="#000" fill-opacity="0.50"/>
<rect x="1702.9" y="1756.4" width="35.0" height="16.0" rx="6.0" fill="#000" fill-opacity="0.40"/>
<rect x="1702.9" y="1790.1" width="35.0" height="16.0" rx="6.0" fill="#000" fill-opacity="0.35"/>
<rect x="1739.7" y="1780.9" width="35.0" height="16.0" rx="6.0" fill="#000" fill-opacity="0.45"/>
<rect x="1813.4" y="1757.9" width="35.0" height="16.0" rx="6.0" fill="#000" fill-opacity="0.45"/>
</g>
</g>
<rect x="1482.8999999999999" y="1671.8" width="446.1" height="224.4" fill="none" stroke="#000" stroke-width="2.6"/>
<text x="285.0" y="1957.3" font-size="28" stroke="#000" stroke-width="0.6"><tspan fill="#5656ab" stroke="#5656ab" font-weight="bold">PhoQ<tspan font-size="18" dy="9">13</tspan><tspan dy="-9">*</tspan></tspan><tspan font-size="28.8"> phosphatase activity</tspan></text>
<text x="856.4" y="1958.2" font-size="28" stroke="#000" stroke-width="0.6"><tspan fill="#5656ab" stroke="#5656ab" font-weight="bold">PhoQ<tspan font-size="18" dy="9">14</tspan><tspan dy="-9">*</tspan></tspan><tspan font-size="28.8"> phosphatase activity</tspan></text>
<text x="1454.0" y="1956.0" font-size="28" stroke="#000" stroke-width="0.6"><tspan fill="#5656ab" stroke="#5656ab" font-weight="bold">PhoQ<tspan font-size="18" dy="9">15</tspan><tspan dy="-9">*</tspan></tspan><tspan font-size="28.8"> phosphatase activity</tspan></text>
<rect x="1724.6" y="149.3" width="378.2" height="356.6" fill="none" stroke="#000" stroke-width="2.2"/>
<line x1="1720.6" y1="505.9" x2="1724.6" y2="505.9" stroke="#000" stroke-width="2.2"/>
<line x1="1720.6" y1="434.6" x2="1724.6" y2="434.6" stroke="#000" stroke-width="2.2"/>
<line x1="1720.6" y1="363.3" x2="1724.6" y2="363.3" stroke="#000" stroke-width="2.2"/>
<line x1="1720.6" y1="291.9" x2="1724.6" y2="291.9" stroke="#000" stroke-width="2.2"/>
<line x1="1720.6" y1="220.6" x2="1724.6" y2="220.6" stroke="#000" stroke-width="2.2"/>
<line x1="1720.6" y1="149.3" x2="1724.6" y2="149.3" stroke="#000" stroke-width="2.2"/>
<line x1="1724.6" y1="505.9" x2="1724.6" y2="509.9" stroke="#000" stroke-width="2.2"/>
<line x1="1787.6" y1="505.9" x2="1787.6" y2="509.9" stroke="#000" stroke-width="2.2"/>
<line x1="1913.7" y1="505.9" x2="1913.7" y2="509.9" stroke="#000" stroke-width="2.2"/>
<line x1="2039.8" y1="505.9" x2="2039.8" y2="509.9" stroke="#000" stroke-width="2.2"/>
<line x1="2102.8" y1="505.9" x2="2102.8" y2="509.9" stroke="#000" stroke-width="2.2"/>
<text x="1713.0" y="515.4" font-size="27.5" stroke="#000" stroke-width="0.6" text-anchor="end">0</text>
<text x="1705.5" y="444.1" font-size="27.5" stroke="#000" stroke-width="0.6" text-anchor="end">0.5</text>
<text x="1705.5" y="372.8" font-size="27.5" stroke="#000" stroke-width="0.6" text-anchor="end">1</text>
<text x="1705.5" y="301.4" font-size="27.5" stroke="#000" stroke-width="0.6" text-anchor="end">1.5</text>
<text x="1705.5" y="230.1" font-size="27.5" stroke="#000" stroke-width="0.6" text-anchor="end">2</text>
<text x="1787.6" y="541.0" font-size="27.5" stroke="#000" stroke-width="0.6" text-anchor="middle">0</text>
<text x="1913.7" y="541.0" font-size="27.5" stroke="#000" stroke-width="0.6" text-anchor="middle">1</text>
<text x="2039.8" y="541.0" font-size="27.5" stroke="#000" stroke-width="0.6" text-anchor="middle">2</text>
<text x="1914.0" y="578.0" font-size="29" stroke="#000" stroke-width="0.6" text-anchor="middle">hours</text>
<text transform="translate(1643.0,459.0) rotate(-90)" font-size="29" stroke="#000" stroke-width="0.6">PhoP~P (normalized to t=0)</text>
<polyline points="1787.6,363.3 1913.7,300.5 2039.8,280.5" fill="none" stroke="#ED7D31" stroke-width="4" stroke-linejoin="round" stroke-linecap="butt" stroke-dasharray="14 6"/>
<polyline points="1787.6,363.3 1913.7,296.2 2039.8,280.5" fill="none" stroke="#A5A5A5" stroke-width="4" stroke-linejoin="round" stroke-linecap="butt" stroke-dasharray="14 6"/>
<polyline points="1787.6,363.3 1913.7,279.1 2039.8,277.7" fill="none" stroke="#FFC000" stroke-width="4" stroke-linejoin="round" stroke-linecap="butt" stroke-dasharray="14 6"/>
<polyline points="1787.6,363.3 1913.7,230.6 2039.8,240.6" fill="none" stroke="#5B9BD5" stroke-width="4" stroke-linejoin="round" stroke-linecap="butt" stroke-dasharray="14 6"/>
<polyline points="1787.6,363.3 1913.7,189.8 2039.8,226.2" fill="none" stroke="#4472C4" stroke-width="4" stroke-linejoin="round" stroke-linecap="butt" stroke-dasharray="14 6"/>
<polyline points="1787.6,363.3 1913.7,330.2 2039.8,393.8" fill="none" stroke="#264478" stroke-width="4" stroke-linejoin="round" stroke-linecap="butt" stroke-dasharray="14 6"/>
<polyline points="1787.6,363.3 1913.7,323.3 2039.8,289.9" fill="none" stroke="#9E480E" stroke-width="4" stroke-linejoin="round" stroke-linecap="butt" stroke-dasharray="14 6"/>
<polyline points="1787.6,363.3 1913.7,372.8 2039.8,370.4" fill="none" stroke="#636363" stroke-width="4" stroke-linejoin="round" stroke-linecap="butt" stroke-dasharray="14 6"/>
<polyline points="1787.6,363.3 1913.7,391.4 2039.8,394.8" fill="none" stroke="#997300" stroke-width="4" stroke-linejoin="round" stroke-linecap="butt" stroke-dasharray="14 6"/>
<polyline points="1787.6,363.3 1913.7,384.4 2039.8,365.1" fill="none" stroke="#255E91" stroke-width="4" stroke-linejoin="round" stroke-linecap="butt" stroke-dasharray="14 6"/>
<polyline points="1787.6,363.3 1913.7,305.8 2039.8,235.2" fill="none" stroke="#43682B" stroke-width="4" stroke-linejoin="round" stroke-linecap="butt" stroke-dasharray="14 6"/>
<polyline points="1787.6,363.3 1913.7,462.0 2039.8,465.4" fill="none" stroke="#70AD47" stroke-width="6.5" stroke-linejoin="round" stroke-linecap="round"/>
<line x1="1731" y1="630.8" x2="1770" y2="630.8" stroke="#70AD47" stroke-width="5.5" stroke-linecap="round"/>
<text x="1789.7" y="640.8" font-size="28" stroke="#000" stroke-width="0.6" font-weight="bold">PhoP</text>
<line x1="1731" y1="668.05" x2="1770" y2="668.05" stroke="#ED7D31" stroke-width="4" stroke-dasharray="21 6"/>
<text x="1789.7" y="678.0" font-size="28" stroke="#262890" stroke-width="0.6" font-weight="bold" fill="#262890">PhoP<tspan font-size="17.5" dy="10">1</tspan><tspan dy="-10">*</tspan></text>
<line x1="1731" y1="705.3" x2="1770" y2="705.3" stroke="#A5A5A5" stroke-width="4" stroke-dasharray="21 6"/>
<text x="1789.7" y="715.3" font-size="28" stroke="#262890" stroke-width="0.6" font-weight="bold" fill="#262890">PhoP<tspan font-size="17.5" dy="10">4</tspan><tspan dy="-10">*</tspan></text>
<line x1="1731" y1="742.55" x2="1770" y2="742.55" stroke="#FFC000" stroke-width="4" stroke-dasharray="21 6"/>
<text x="1789.7" y="752.5" font-size="28" stroke="#262890" stroke-width="0.6" font-weight="bold" fill="#262890">PhoP<tspan font-size="17.5" dy="10">5</tspan><tspan dy="-10">*</tspan></text>
<line x1="1731" y1="779.8" x2="1770" y2="779.8" stroke="#5B9BD5" stroke-width="4" stroke-dasharray="21 6"/>
<text x="1789.7" y="789.8" font-size="28" stroke="#262890" stroke-width="0.6" font-weight="bold" fill="#262890">PhoP<tspan font-size="17.5" dy="10">7</tspan><tspan dy="-10">*</tspan></text>
<line x1="1731" y1="817.05" x2="1770" y2="817.05" stroke="#4472C4" stroke-width="4" stroke-dasharray="21 6"/>
<text x="1789.7" y="827.0" font-size="28" stroke="#262890" stroke-width="0.6" font-weight="bold" fill="#262890">PhoP<tspan font-size="17.5" dy="10">8</tspan><tspan dy="-10">*</tspan></text>
<line x1="1927" y1="630.8" x2="1966" y2="630.8" stroke="#264478" stroke-width="4" stroke-dasharray="21 6"/>
<text x="1986.5" y="640.8" font-size="28" stroke="#262890" stroke-width="0.6" font-weight="bold" fill="#262890">PhoP<tspan font-size="17.5" dy="10">10</tspan><tspan dy="-10">*</tspan></text>
<line x1="1927" y1="668.05" x2="1966" y2="668.05" stroke="#9E480E" stroke-width="4" stroke-dasharray="21 6"/>
<text x="1986.5" y="678.0" font-size="28" stroke="#262890" stroke-width="0.6" font-weight="bold" fill="#262890">PhoP<tspan font-size="17.5" dy="10">11</tspan><tspan dy="-10">*</tspan></text>
<line x1="1927" y1="705.3" x2="1966" y2="705.3" stroke="#636363" stroke-width="4" stroke-dasharray="21 6"/>
<text x="1986.5" y="715.3" font-size="28" stroke="#262890" stroke-width="0.6" font-weight="bold" fill="#262890">PhoP<tspan font-size="17.5" dy="10">12</tspan><tspan dy="-10">*</tspan></text>
<line x1="1927" y1="742.55" x2="1966" y2="742.55" stroke="#997300" stroke-width="4" stroke-dasharray="21 6"/>
<text x="1986.5" y="752.5" font-size="28" stroke="#262890" stroke-width="0.6" font-weight="bold" fill="#262890">PhoP<tspan font-size="17.5" dy="10">13</tspan><tspan dy="-10">*</tspan></text>
<line x1="1927" y1="779.8" x2="1966" y2="779.8" stroke="#255E91" stroke-width="4" stroke-dasharray="21 6"/>
<text x="1986.5" y="789.8" font-size="28" stroke="#262890" stroke-width="0.6" font-weight="bold" fill="#262890">PhoP<tspan font-size="17.5" dy="10">14</tspan><tspan dy="-10">*</tspan></text>
<line x1="1927" y1="817.05" x2="1966" y2="817.05" stroke="#43682B" stroke-width="4" stroke-dasharray="21 6"/>
<text x="1986.5" y="827.0" font-size="28" stroke="#262890" stroke-width="0.6" font-weight="bold" fill="#262890">PhoP<tspan font-size="17.5" dy="10">15</tspan><tspan dy="-10">*</tspan></text>
<polyline points="295.0,2189.1 467.8,2235.6 640.5,2199.6" fill="none" stroke="#ED7D31" stroke-width="4" stroke-linejoin="round" stroke-linecap="butt" stroke-dasharray="17 7.5"/>
<polyline points="295.0,2189.1 467.8,2228.9 640.5,2212.3" fill="none" stroke="#A5A5A5" stroke-width="4" stroke-linejoin="round" stroke-linecap="butt" stroke-dasharray="17 7.5"/>
<polyline points="295.0,2189.1 467.8,2229.0 640.5,2154.4" fill="none" stroke="#FFC000" stroke-width="4" stroke-linejoin="round" stroke-linecap="butt" stroke-dasharray="17 7.5"/>
<polyline points="295.0,2189.1 467.8,2193.2 640.5,2133.3" fill="none" stroke="#5B9BD5" stroke-width="4" stroke-linejoin="round" stroke-linecap="butt" stroke-dasharray="17 7.5"/>
<polyline points="295.0,2189.1 467.8,2122.2 640.5,2160.5" fill="none" stroke="#70AD47" stroke-width="4" stroke-linejoin="round" stroke-linecap="butt" stroke-dasharray="17 7.5"/>
<polyline points="295.0,2189.1 467.8,2196.7 640.5,2163.4" fill="none" stroke="#264478" stroke-width="4" stroke-linejoin="round" stroke-linecap="butt" stroke-dasharray="17 7.5"/>
<polyline points="295.0,2189.1 467.8,2224.5 640.5,2216.8" fill="none" stroke="#9E480E" stroke-width="4" stroke-linejoin="round" stroke-linecap="butt" stroke-dasharray="17 7.5"/>
<polyline points="295.0,2189.1 467.8,2137.8 640.5,2042.0" fill="none" stroke="#636363" stroke-width="4" stroke-linejoin="round" stroke-linecap="butt" stroke-dasharray="17 7.5"/>
<polyline points="295.0,2189.1 467.8,2243.4 640.5,2153.2" fill="none" stroke="#997300" stroke-width="4" stroke-linejoin="round" stroke-linecap="butt" stroke-dasharray="17 7.5"/>
<polyline points="295.0,2189.1 467.8,2163.4 640.5,2044.3" fill="none" stroke="#255E91" stroke-width="4" stroke-linejoin="round" stroke-linecap="butt" stroke-dasharray="17 7.5"/>
<polyline points="295.0,2189.1 467.8,2260.2 640.5,2163.1" fill="none" stroke="#43682B" stroke-width="4" stroke-linejoin="round" stroke-linecap="butt" stroke-dasharray="17 7.5"/>
<polyline points="295.0,2189.1 467.8,2217.6 640.5,2154.4" fill="none" stroke="#7CAFDD" stroke-width="4" stroke-linejoin="round" stroke-linecap="butt" stroke-dasharray="17 7.5"/>
<polyline points="295.0,2189.1 467.8,2315.7 640.5,2333.5" fill="none" stroke="#5656ab" stroke-width="6.5" stroke-linejoin="round" stroke-linecap="round"/>
<rect x="208.6" y="2015.9" width="518.3" height="346.3" fill="none" stroke="#000" stroke-width="3.5"/>
<line x1="203.6" y1="2362.2" x2="208.6" y2="2362.2" stroke="#000" stroke-width="3"/>
<line x1="203.6" y1="2327.6" x2="208.6" y2="2327.6" stroke="#000" stroke-width="3"/>
<line x1="203.6" y1="2292.9" x2="208.6" y2="2292.9" stroke="#000" stroke-width="3"/>
<line x1="203.6" y1="2258.3" x2="208.6" y2="2258.3" stroke="#000" stroke-width="3"/>
<line x1="203.6" y1="2223.7" x2="208.6" y2="2223.7" stroke="#000" stroke-width="3"/>
<line x1="203.6" y1="2189.1" x2="208.6" y2="2189.1" stroke="#000" stroke-width="3"/>
<line x1="203.6" y1="2154.4" x2="208.6" y2="2154.4" stroke="#000" stroke-width="3"/>
<line x1="203.6" y1="2119.8" x2="208.6" y2="2119.8" stroke="#000" stroke-width="3"/>
<line x1="203.6" y1="2085.2" x2="208.6" y2="2085.2" stroke="#000" stroke-width="3"/>
<line x1="203.6" y1="2050.5" x2="208.6" y2="2050.5" stroke="#000" stroke-width="3"/>
<line x1="203.6" y1="2015.9" x2="208.6" y2="2015.9" stroke="#000" stroke-width="3"/>
<line x1="295.0" y1="2362.2" x2="295.0" y2="2367.2" stroke="#000" stroke-width="3"/>
<line x1="467.8" y1="2362.2" x2="467.8" y2="2367.2" stroke="#000" stroke-width="3"/>
<line x1="640.5" y1="2362.2" x2="640.5" y2="2367.2" stroke="#000" stroke-width="3"/>
<text x="195.1" y="2372.2" font-size="28.5" stroke="#000" stroke-width="0.6" text-anchor="end">0</text>
<text x="195.1" y="2199.1" font-size="28.5" stroke="#000" stroke-width="0.6" text-anchor="end">1</text>
<text x="195.1" y="2025.9" font-size="28.5" stroke="#000" stroke-width="0.6" text-anchor="end">2</text>
<text x="295.0" y="2400.5" font-size="28.5" stroke="#000" stroke-width="0.6" text-anchor="middle">0</text>
<text x="467.8" y="2400.5" font-size="28.5" stroke="#000" stroke-width="0.6" text-anchor="middle">1</text>
<text x="640.5" y="2400.5" font-size="28.5" stroke="#000" stroke-width="0.6" text-anchor="middle">2</text>
<text x="467.8" y="2436.0" font-size="28.5" stroke="#000" stroke-width="0.6" text-anchor="middle">hours</text>
<polyline points="896.6,2189.1 1068.7,2214.5 1240.8,2234.1" fill="none" stroke="#ED7D31" stroke-width="4" stroke-linejoin="round" stroke-linecap="butt" stroke-dasharray="17 7.5"/>
<polyline points="896.6,2189.1 1068.7,2212.8 1240.8,2206.7" fill="none" stroke="#A5A5A5" stroke-width="4" stroke-linejoin="round" stroke-linecap="butt" stroke-dasharray="17 7.5"/>
<polyline points="896.6,2189.1 1068.7,2210.9 1240.8,2178.1" fill="none" stroke="#FFC000" stroke-width="4" stroke-linejoin="round" stroke-linecap="butt" stroke-dasharray="17 7.5"/>
<polyline points="896.6,2189.1 1068.7,2194.9 1240.8,2138.0" fill="none" stroke="#5B9BD5" stroke-width="4" stroke-linejoin="round" stroke-linecap="butt" stroke-dasharray="17 7.5"/>
<polyline points="896.6,2189.1 1068.7,2228.7 1240.8,2066.8" fill="none" stroke="#70AD47" stroke-width="4" stroke-linejoin="round" stroke-linecap="butt" stroke-dasharray="17 7.5"/>
<polyline points="896.6,2189.1 1068.7,2173.6 1240.8,2166.5" fill="none" stroke="#264478" stroke-width="4" stroke-linejoin="round" stroke-linecap="butt" stroke-dasharray="17 7.5"/>
<polyline points="896.6,2189.1 1068.7,2214.5 1240.8,2184.2" fill="none" stroke="#9E480E" stroke-width="4" stroke-linejoin="round" stroke-linecap="butt" stroke-dasharray="17 7.5"/>
<polyline points="896.6,2189.1 1068.7,2212.8 1240.8,2177.1" fill="none" stroke="#636363" stroke-width="4" stroke-linejoin="round" stroke-linecap="butt" stroke-dasharray="17 7.5"/>
<polyline points="896.6,2189.1 1068.7,2221.6 1240.8,2162.9" fill="none" stroke="#997300" stroke-width="4" stroke-linejoin="round" stroke-linecap="butt" stroke-dasharray="17 7.5"/>
<polyline points="896.6,2189.1 1068.7,2207.4 1240.8,2140.6" fill="none" stroke="#255E91" stroke-width="4" stroke-linejoin="round" stroke-linecap="butt" stroke-dasharray="17 7.5"/>
<polyline points="896.6,2189.1 1068.7,2198.4 1240.8,2105.9" fill="none" stroke="#43682B" stroke-width="4" stroke-linejoin="round" stroke-linecap="butt" stroke-dasharray="17 7.5"/>
<polyline points="896.6,2189.1 1068.7,2196.0 1240.8,2146.8" fill="none" stroke="#7CAFDD" stroke-width="4" stroke-linejoin="round" stroke-linecap="butt" stroke-dasharray="17 7.5"/>
<polyline points="896.6,2189.1 1068.7,2335.5 1240.8,2347.3" fill="none" stroke="#5656ab" stroke-width="6.5" stroke-linejoin="round" stroke-linecap="round"/>
<rect x="810.5" y="2015.9" width="516.4" height="346.3" fill="none" stroke="#000" stroke-width="3.5"/>
<line x1="805.5" y1="2362.2" x2="810.5" y2="2362.2" stroke="#000" stroke-width="3"/>
<line x1="805.5" y1="2327.6" x2="810.5" y2="2327.6" stroke="#000" stroke-width="3"/>
<line x1="805.5" y1="2292.9" x2="810.5" y2="2292.9" stroke="#000" stroke-width="3"/>
<line x1="805.5" y1="2258.3" x2="810.5" y2="2258.3" stroke="#000" stroke-width="3"/>
<line x1="805.5" y1="2223.7" x2="810.5" y2="2223.7" stroke="#000" stroke-width="3"/>
<line x1="805.5" y1="2189.1" x2="810.5" y2="2189.1" stroke="#000" stroke-width="3"/>
<line x1="805.5" y1="2154.4" x2="810.5" y2="2154.4" stroke="#000" stroke-width="3"/>
<line x1="805.5" y1="2119.8" x2="810.5" y2="2119.8" stroke="#000" stroke-width="3"/>
<line x1="805.5" y1="2085.2" x2="810.5" y2="2085.2" stroke="#000" stroke-width="3"/>
<line x1="805.5" y1="2050.5" x2="810.5" y2="2050.5" stroke="#000" stroke-width="3"/>
<line x1="805.5" y1="2015.9" x2="810.5" y2="2015.9" stroke="#000" stroke-width="3"/>
<line x1="896.6" y1="2362.2" x2="896.6" y2="2367.2" stroke="#000" stroke-width="3"/>
<line x1="1068.7" y1="2362.2" x2="1068.7" y2="2367.2" stroke="#000" stroke-width="3"/>
<line x1="1240.8" y1="2362.2" x2="1240.8" y2="2367.2" stroke="#000" stroke-width="3"/>
<text x="797.0" y="2372.2" font-size="28.5" stroke="#000" stroke-width="0.6" text-anchor="end">0</text>
<text x="797.0" y="2199.1" font-size="28.5" stroke="#000" stroke-width="0.6" text-anchor="end">1</text>
<text x="797.0" y="2025.9" font-size="28.5" stroke="#000" stroke-width="0.6" text-anchor="end">2</text>
<text x="896.6" y="2400.5" font-size="28.5" stroke="#000" stroke-width="0.6" text-anchor="middle">0</text>
<text x="1068.7" y="2400.5" font-size="28.5" stroke="#000" stroke-width="0.6" text-anchor="middle">1</text>
<text x="1240.8" y="2400.5" font-size="28.5" stroke="#000" stroke-width="0.6" text-anchor="middle">2</text>
<text x="1068.7" y="2436.0" font-size="28.5" stroke="#000" stroke-width="0.6" text-anchor="middle">hours</text>
<polyline points="1496.6,2189.1 1668.7,2132.4 1840.8,2266.4" fill="none" stroke="#ED7D31" stroke-width="4" stroke-linejoin="round" stroke-linecap="butt" stroke-dasharray="17 7.5"/>
<polyline points="1496.6,2189.1 1668.7,2199.9 1840.8,2257.3" fill="none" stroke="#A5A5A5" stroke-width="4" stroke-linejoin="round" stroke-linecap="butt" stroke-dasharray="17 7.5"/>
<polyline points="1496.6,2189.1 1668.7,2163.3 1840.8,2221.5" fill="none" stroke="#FFC000" stroke-width="4" stroke-linejoin="round" stroke-linecap="butt" stroke-dasharray="17 7.5"/>
<polyline points="1496.6,2189.1 1668.7,2210.3 1840.8,2233.2" fill="none" stroke="#5B9BD5" stroke-width="4" stroke-linejoin="round" stroke-linecap="butt" stroke-dasharray="17 7.5"/>
<polyline points="1496.6,2189.1 1668.7,2082.6 1840.8,2034.3" fill="none" stroke="#70AD47" stroke-width="4" stroke-linejoin="round" stroke-linecap="butt" stroke-dasharray="17 7.5"/>
<polyline points="1496.6,2189.1 1668.7,2118.8 1840.8,2186.6" fill="none" stroke="#264478" stroke-width="4" stroke-linejoin="round" stroke-linecap="butt" stroke-dasharray="17 7.5"/>
<polyline points="1496.6,2189.1 1668.7,2166.5 1840.8,2224.9" fill="none" stroke="#9E480E" stroke-width="4" stroke-linejoin="round" stroke-linecap="butt" stroke-dasharray="17 7.5"/>
<polyline points="1496.6,2189.1 1668.7,2170.7 1840.8,2303.8" fill="none" stroke="#636363" stroke-width="4" stroke-linejoin="round" stroke-linecap="butt" stroke-dasharray="17 7.5"/>
<polyline points="1496.6,2189.1 1668.7,2186.6 1840.8,2220.7" fill="none" stroke="#997300" stroke-width="4" stroke-linejoin="round" stroke-linecap="butt" stroke-dasharray="17 7.5"/>
<polyline points="1496.6,2189.1 1668.7,2145.8 1840.8,2102.1" fill="none" stroke="#255E91" stroke-width="4" stroke-linejoin="round" stroke-linecap="butt" stroke-dasharray="17 7.5"/>
<polyline points="1496.6,2189.1 1668.7,2179.0 1840.8,2231.1" fill="none" stroke="#43682B" stroke-width="4" stroke-linejoin="round" stroke-linecap="butt" stroke-dasharray="17 7.5"/>
<polyline points="1496.6,2189.1 1668.7,2212.4 1840.8,2293.5" fill="none" stroke="#7CAFDD" stroke-width="4" stroke-linejoin="round" stroke-linecap="butt" stroke-dasharray="17 7.5"/>
<polyline points="1496.6,2189.1 1668.7,2275.6 1840.8,2360.1" fill="none" stroke="#5656ab" stroke-width="6.5" stroke-linejoin="round" stroke-linecap="round"/>
<rect x="1410.5" y="2015.9" width="516.4" height="346.3" fill="none" stroke="#000" stroke-width="3.5"/>
<line x1="1405.5" y1="2362.2" x2="1410.5" y2="2362.2" stroke="#000" stroke-width="3"/>
<line x1="1405.5" y1="2327.6" x2="1410.5" y2="2327.6" stroke="#000" stroke-width="3"/>
<line x1="1405.5" y1="2292.9" x2="1410.5" y2="2292.9" stroke="#000" stroke-width="3"/>
<line x1="1405.5" y1="2258.3" x2="1410.5" y2="2258.3" stroke="#000" stroke-width="3"/>
<line x1="1405.5" y1="2223.7" x2="1410.5" y2="2223.7" stroke="#000" stroke-width="3"/>
<line x1="1405.5" y1="2189.1" x2="1410.5" y2="2189.1" stroke="#000" stroke-width="3"/>
<line x1="1405.5" y1="2154.4" x2="1410.5" y2="2154.4" stroke="#000" stroke-width="3"/>
<line x1="1405.5" y1="2119.8" x2="1410.5" y2="2119.8" stroke="#000" stroke-width="3"/>
<line x1="1405.5" y1="2085.2" x2="1410.5" y2="2085.2" stroke="#000" stroke-width="3"/>
<line x1="1405.5" y1="2050.5" x2="1410.5" y2="2050.5" stroke="#000" stroke-width="3"/>
<line x1="1405.5" y1="2015.9" x2="1410.5" y2="2015.9" stroke="#000" stroke-width="3"/>
<line x1="1496.6" y1="2362.2" x2="1496.6" y2="2367.2" stroke="#000" stroke-width="3"/>
<line x1="1668.7" y1="2362.2" x2="1668.7" y2="2367.2" stroke="#000" stroke-width="3"/>
<line x1="1840.8" y1="2362.2" x2="1840.8" y2="2367.2" stroke="#000" stroke-width="3"/>
<text x="1397.0" y="2372.2" font-size="28.5" stroke="#000" stroke-width="0.6" text-anchor="end">0</text>
<text x="1397.0" y="2199.1" font-size="28.5" stroke="#000" stroke-width="0.6" text-anchor="end">1</text>
<text x="1397.0" y="2025.9" font-size="28.5" stroke="#000" stroke-width="0.6" text-anchor="end">2</text>
<text x="1496.6" y="2400.5" font-size="28.5" stroke="#000" stroke-width="0.6" text-anchor="middle">0</text>
<text x="1668.7" y="2400.5" font-size="28.5" stroke="#000" stroke-width="0.6" text-anchor="middle">1</text>
<text x="1840.8" y="2400.5" font-size="28.5" stroke="#000" stroke-width="0.6" text-anchor="middle">2</text>
<text x="1668.7" y="2436.0" font-size="28.5" stroke="#000" stroke-width="0.6" text-anchor="middle">hours</text>
<text x="340.0" y="2333.6" font-size="28" stroke="#5656ab" stroke-width="0.6" font-weight="bold" fill="#5656ab">PhoP<tspan font-size="18" dy="9">13</tspan><tspan dy="-18">*</tspan></text>
<text x="921.4" y="2334.0" font-size="28" stroke="#5656ab" stroke-width="0.6" font-weight="bold" fill="#5656ab">PhoP<tspan font-size="18" dy="9">14</tspan><tspan dy="-18">*</tspan></text>
<text x="1602.5" y="2333.3" font-size="28" stroke="#5656ab" stroke-width="0.6" font-weight="bold" fill="#5656ab">PhoP<tspan font-size="18" dy="9">15</tspan><tspan dy="-18">*</tspan></text>
<text transform="translate(114.5,2266.5) rotate(-90)" font-size="29" stroke="#000" stroke-width="0.6">PhoP~P ratio</text>
<text transform="translate(150.0,2299.0) rotate(-90)" font-size="28" stroke="#000" stroke-width="0.6">( <tspan fill="#5656ab" stroke="#5656ab" font-weight="bold">PhoQ*</tspan> / PhoQ<tspan font-size="17" dy="9">wt</tspan><tspan dy="-9"> )</tspan></text>
<line x1="1966" y1="1944.9" x2="2015" y2="1944.9" stroke="#5656ab" stroke-width="7" stroke-linecap="round"/>
<text x="2041.0" y="1955.0" font-size="28" stroke="#5656ab" stroke-width="0.6" font-weight="bold" fill="#5656ab">PhoP*</text>
<line x1="1964" y1="1985.2" x2="2016" y2="1985.2" stroke="#ED7D31" stroke-width="4" stroke-dasharray="20 12"/>
<text x="2041.0" y="1995.2" font-size="28" stroke="#000" stroke-width="0.6" letter-spacing="0.5">PhoB</text>
<line x1="1964" y1="2024.3" x2="2016" y2="2024.3" stroke="#A5A5A5" stroke-width="4" stroke-dasharray="20 12"/>
<text x="2041.0" y="2034.3" font-size="28" stroke="#000" stroke-width="0.6" letter-spacing="0.5">CusR</text>
<line x1="1964" y1="2063.4" x2="2016" y2="2063.4" stroke="#FFC000" stroke-width="4" stroke-dasharray="20 12"/>
<text x="2041.0" y="2073.4" font-size="28" stroke="#000" stroke-width="0.6" letter-spacing="0.5">CitB</text>
<line x1="1964" y1="2102.5" x2="2016" y2="2102.5" stroke="#5B9BD5" stroke-width="4" stroke-dasharray="20 12"/>
<text x="2041.0" y="2112.5" font-size="28" stroke="#000" stroke-width="0.6" letter-spacing="0.5">KdpE</text>
<line x1="1964" y1="2141.6" x2="2016" y2="2141.6" stroke="#70AD47" stroke-width="4" stroke-dasharray="20 12"/>
<text x="2041.0" y="2151.6" font-size="28" stroke="#000" stroke-width="0.6" letter-spacing="0.5">PhoP</text>
<line x1="1964" y1="2180.7" x2="2016" y2="2180.7" stroke="#264478" stroke-width="4" stroke-dasharray="20 12"/>
<text x="2041.0" y="2190.7" font-size="28" stroke="#000" stroke-width="0.6" letter-spacing="0.5">RstA</text>
<line x1="1964" y1="2219.7" x2="2016" y2="2219.7" stroke="#9E480E" stroke-width="4" stroke-dasharray="20 12"/>
<text x="2041.0" y="2229.7" font-size="28" stroke="#000" stroke-width="0.6" letter-spacing="0.5">YgiX</text>
<line x1="1964" y1="2258.8" x2="2016" y2="2258.8" stroke="#636363" stroke-width="4" stroke-dasharray="20 12"/>
<text x="2041.0" y="2268.8" font-size="28" stroke="#000" stroke-width="0.6" letter-spacing="0.5">NtrC</text>
<line x1="1964" y1="2297.9" x2="2016" y2="2297.9" stroke="#997300" stroke-width="4" stroke-dasharray="20 12"/>
<text x="2041.0" y="2307.9" font-size="28" stroke="#000" stroke-width="0.6" letter-spacing="0.5">CpxR</text>
<line x1="1964" y1="2337.0" x2="2016" y2="2337.0" stroke="#255E91" stroke-width="4" stroke-dasharray="20 12"/>
<text x="2041.0" y="2347.0" font-size="28" stroke="#000" stroke-width="0.6" letter-spacing="0.5">DcuR</text>
<line x1="1964" y1="2376.1" x2="2016" y2="2376.1" stroke="#43682B" stroke-width="4" stroke-dasharray="20 12"/>
<text x="2041.0" y="2386.1" font-size="28" stroke="#000" stroke-width="0.6" letter-spacing="0.5">CreB</text>
<line x1="1964" y1="2415.2" x2="2016" y2="2415.2" stroke="#7CAFDD" stroke-width="4" stroke-dasharray="20 12"/>
<text x="2041.0" y="2425.2" font-size="28" stroke="#000" stroke-width="0.6" letter-spacing="0.5">BaeR</text>
</svg></body></html>
